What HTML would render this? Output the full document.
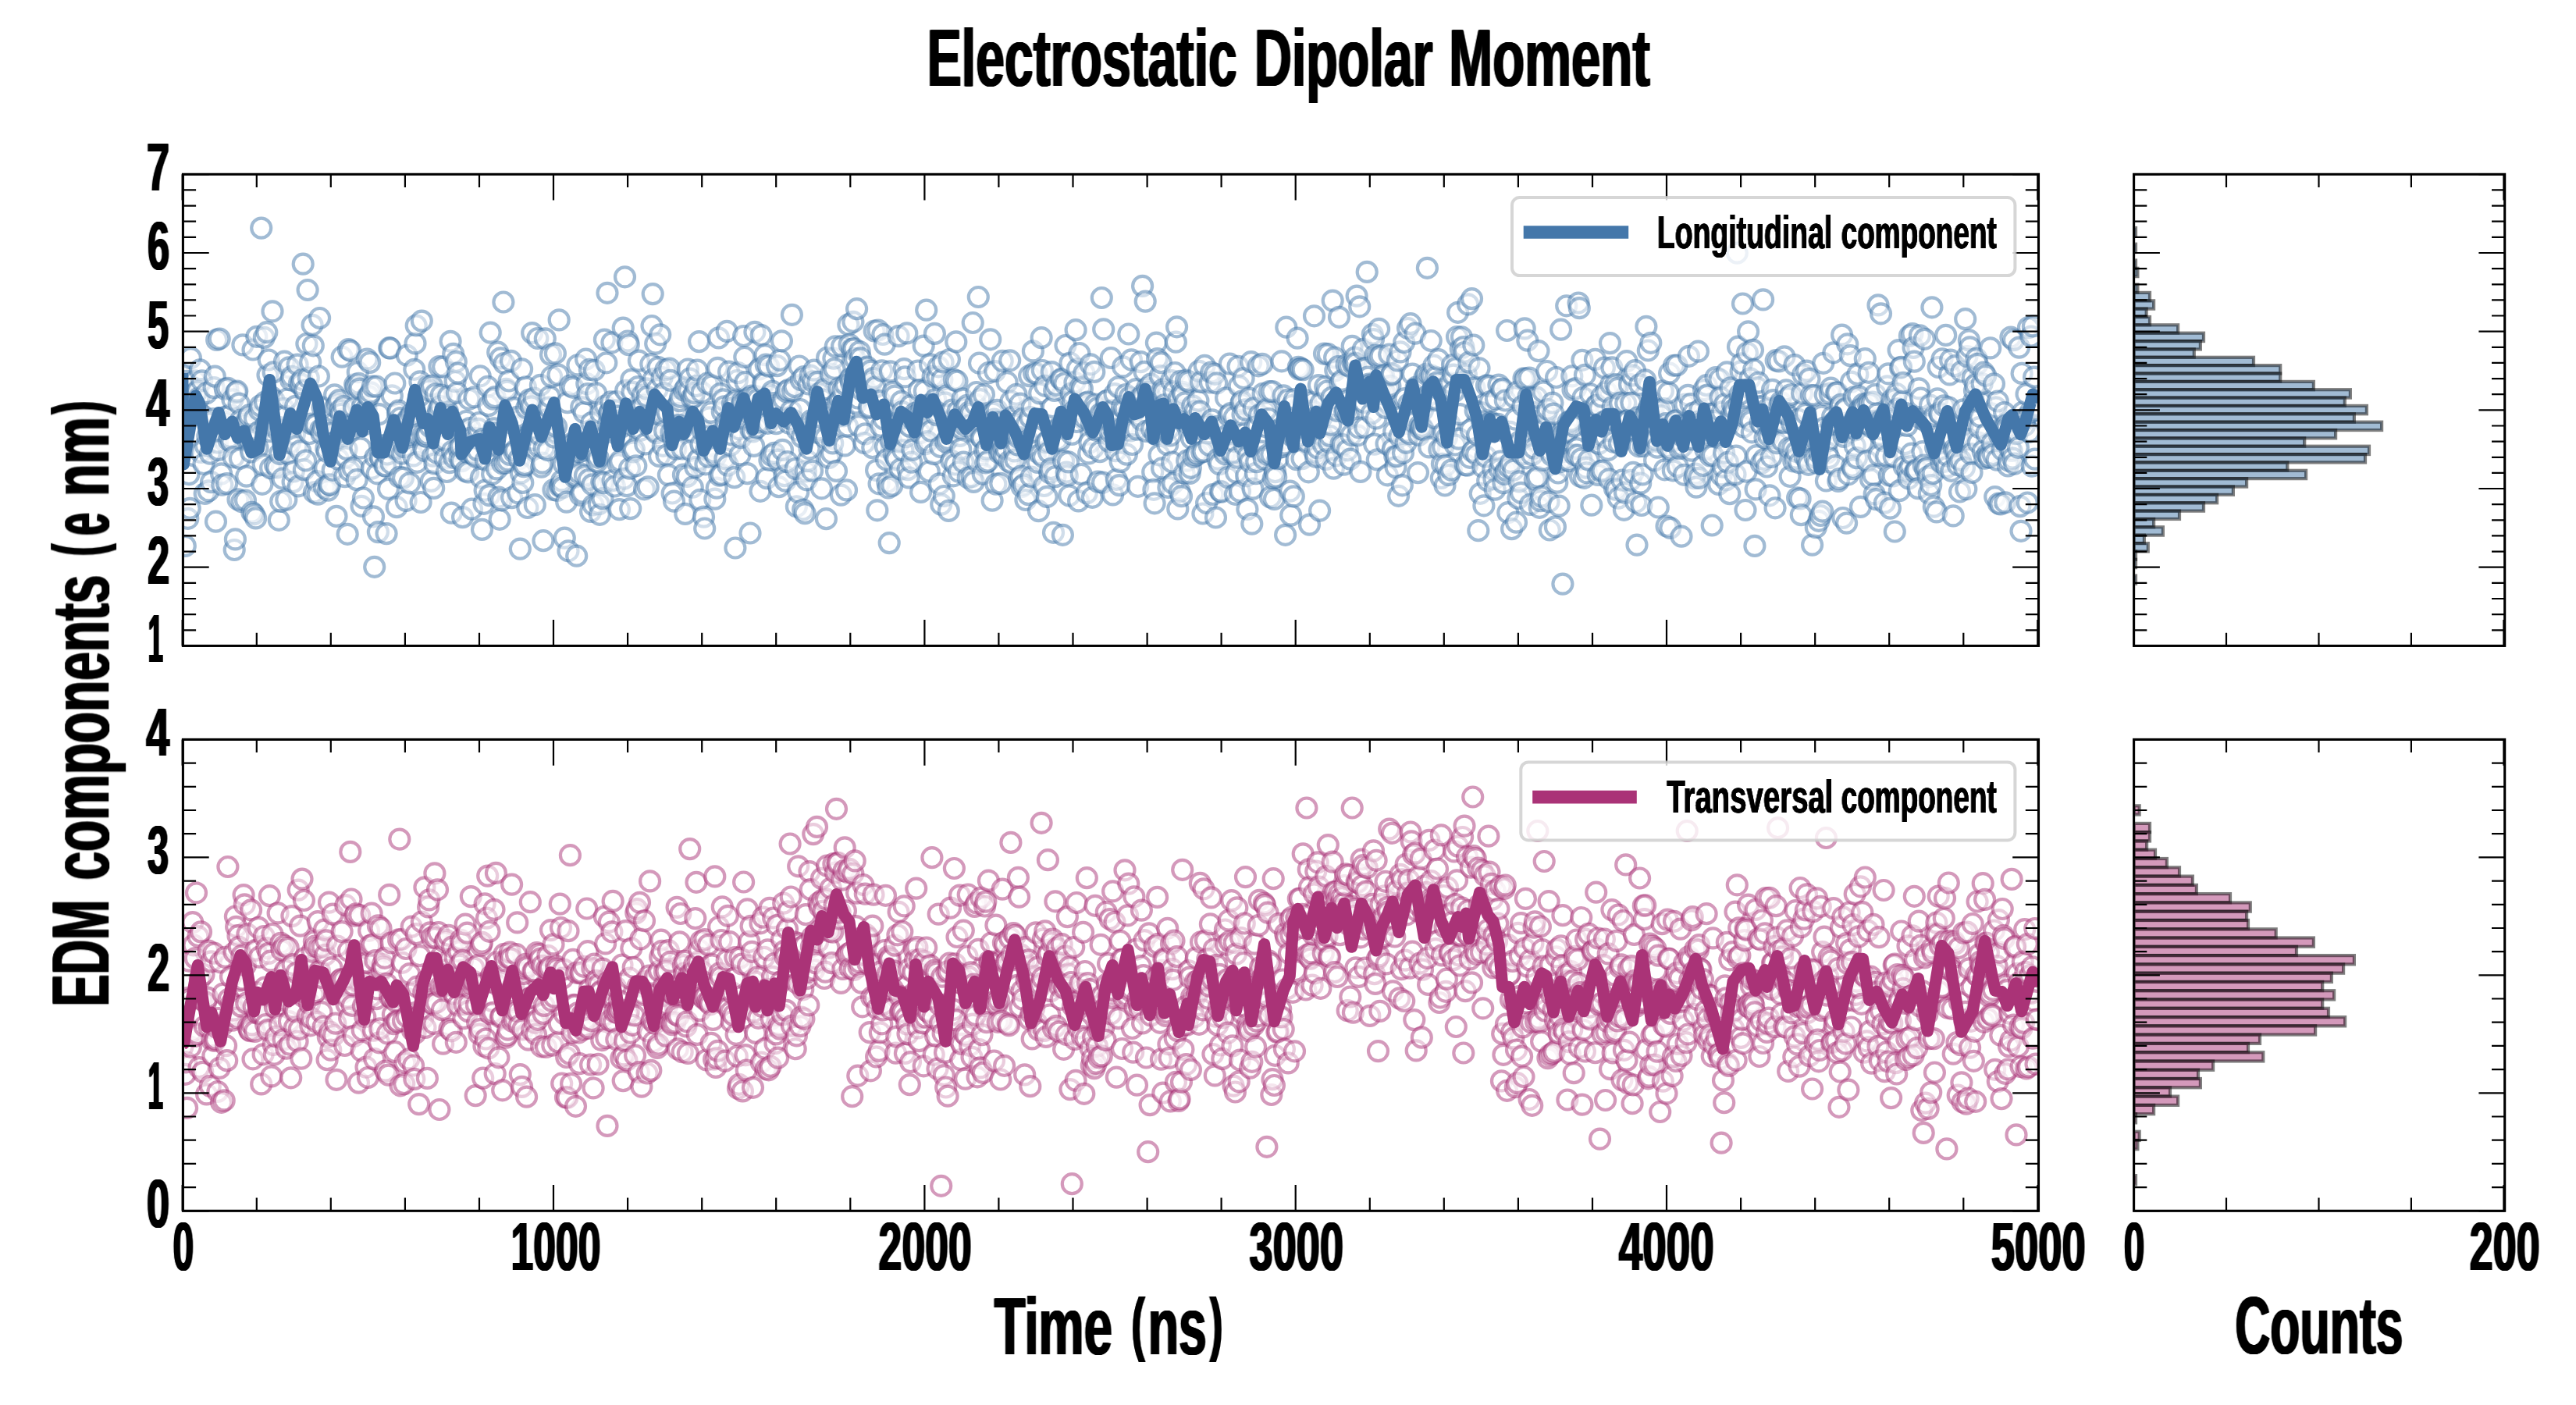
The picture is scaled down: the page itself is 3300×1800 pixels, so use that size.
<!DOCTYPE html>
<html lang="en"><head><meta charset="utf-8"><title>Electrostatic Dipolar Moment</title>
<style>html,body{margin:0;padding:0;background:#fff}body{width:3300px;height:1800px;overflow:hidden}svg{display:block}</style>
</head><body>
<svg width="3300" height="1800" viewBox="0 0 3300 1800">
<defs>
<clipPath id="ca1"><rect x="234.4" y="223.3" width="2377.1" height="604.1"/></clipPath>
<clipPath id="ca2"><rect x="2733.6" y="223.3" width="475.1" height="604.1"/></clipPath>
<clipPath id="ca3"><rect x="234.4" y="947.4" width="2377.1" height="603.9"/></clipPath>
<clipPath id="ca4"><rect x="2733.6" y="947.4" width="475.1" height="603.9"/></clipPath>
</defs>
<rect width="3300" height="1800" fill="#fff"/>
<g clip-path="url(#ca1)" fill="#fff" fill-opacity=".5" stroke="#4477AA" stroke-opacity=".5" stroke-width="4.2">
<circle cx="233.7" cy="478.5" r="12.5"/><circle cx="234.9" cy="576.0" r="12.5"/><circle cx="236.1" cy="521.3" r="12.5"/><circle cx="237.3" cy="699.4" r="12.5"/><circle cx="238.5" cy="525.9" r="12.5"/><circle cx="239.6" cy="488.3" r="12.5"/><circle cx="240.8" cy="664.3" r="12.5"/><circle cx="242.0" cy="607.6" r="12.5"/><circle cx="243.2" cy="651.4" r="12.5"/><circle cx="244.4" cy="458.6" r="12.5"/><circle cx="245.6" cy="533.0" r="12.5"/><circle cx="246.8" cy="524.0" r="12.5"/><circle cx="248.0" cy="507.1" r="12.5"/><circle cx="249.1" cy="506.1" r="12.5"/><circle cx="250.3" cy="487.9" r="12.5"/><circle cx="251.5" cy="503.0" r="12.5"/><circle cx="252.7" cy="500.8" r="12.5"/><circle cx="253.9" cy="527.0" r="12.5"/><circle cx="255.1" cy="509.5" r="12.5"/><circle cx="256.3" cy="473.9" r="12.5"/><circle cx="257.5" cy="579.4" r="12.5"/><circle cx="258.7" cy="487.8" r="12.5"/><circle cx="259.8" cy="532.7" r="12.5"/><circle cx="261.0" cy="594.5" r="12.5"/><circle cx="262.2" cy="632.5" r="12.5"/><circle cx="263.4" cy="571.2" r="12.5"/><circle cx="264.6" cy="503.7" r="12.5"/><circle cx="265.8" cy="558.9" r="12.5"/><circle cx="267.0" cy="628.9" r="12.5"/><circle cx="268.2" cy="541.9" r="12.5"/><circle cx="269.3" cy="581.1" r="12.5"/><circle cx="270.5" cy="617.7" r="12.5"/><circle cx="271.7" cy="555.1" r="12.5"/><circle cx="272.9" cy="536.6" r="12.5"/><circle cx="274.1" cy="496.6" r="12.5"/><circle cx="275.3" cy="482.2" r="12.5"/><circle cx="276.5" cy="668.2" r="12.5"/><circle cx="277.7" cy="435.4" r="12.5"/><circle cx="278.9" cy="567.0" r="12.5"/><circle cx="280.0" cy="576.5" r="12.5"/><circle cx="281.2" cy="434.0" r="12.5"/><circle cx="282.4" cy="542.2" r="12.5"/><circle cx="283.6" cy="606.9" r="12.5"/><circle cx="284.8" cy="621.1" r="12.5"/><circle cx="286.0" cy="542.9" r="12.5"/><circle cx="287.2" cy="539.9" r="12.5"/><circle cx="288.4" cy="498.4" r="12.5"/><circle cx="289.6" cy="533.9" r="12.5"/><circle cx="290.7" cy="619.6" r="12.5"/><circle cx="291.9" cy="497.4" r="12.5"/><circle cx="293.1" cy="564.0" r="12.5"/><circle cx="294.3" cy="560.3" r="12.5"/><circle cx="295.5" cy="531.4" r="12.5"/><circle cx="296.7" cy="566.3" r="12.5"/><circle cx="297.9" cy="511.8" r="12.5"/><circle cx="299.1" cy="585.7" r="12.5"/><circle cx="300.2" cy="704.5" r="12.5"/><circle cx="301.4" cy="690.9" r="12.5"/><circle cx="302.6" cy="502.7" r="12.5"/><circle cx="303.8" cy="501.2" r="12.5"/><circle cx="305.0" cy="639.9" r="12.5"/><circle cx="306.2" cy="517.1" r="12.5"/><circle cx="307.4" cy="587.5" r="12.5"/><circle cx="308.6" cy="538.1" r="12.5"/><circle cx="309.8" cy="642.6" r="12.5"/><circle cx="310.9" cy="441.9" r="12.5"/><circle cx="312.1" cy="546.3" r="12.5"/><circle cx="313.3" cy="543.3" r="12.5"/><circle cx="314.5" cy="641.0" r="12.5"/><circle cx="315.7" cy="610.2" r="12.5"/><circle cx="316.9" cy="563.1" r="12.5"/><circle cx="318.1" cy="535.0" r="12.5"/><circle cx="319.3" cy="531.8" r="12.5"/><circle cx="320.4" cy="564.1" r="12.5"/><circle cx="321.6" cy="579.0" r="12.5"/><circle cx="322.8" cy="656.3" r="12.5"/><circle cx="324.0" cy="448.0" r="12.5"/><circle cx="325.2" cy="658.8" r="12.5"/><circle cx="326.4" cy="536.2" r="12.5"/><circle cx="327.6" cy="663.9" r="12.5"/><circle cx="328.8" cy="431.3" r="12.5"/><circle cx="330.0" cy="573.7" r="12.5"/><circle cx="331.1" cy="553.7" r="12.5"/><circle cx="332.3" cy="525.2" r="12.5"/><circle cx="333.5" cy="519.9" r="12.5"/><circle cx="334.7" cy="292.1" r="12.5"/><circle cx="335.9" cy="620.3" r="12.5"/><circle cx="337.1" cy="595.1" r="12.5"/><circle cx="338.3" cy="432.4" r="12.5"/><circle cx="339.5" cy="515.0" r="12.5"/><circle cx="340.6" cy="544.7" r="12.5"/><circle cx="341.8" cy="425.7" r="12.5"/><circle cx="343.0" cy="480.6" r="12.5"/><circle cx="344.2" cy="461.0" r="12.5"/><circle cx="345.4" cy="552.6" r="12.5"/><circle cx="346.6" cy="599.6" r="12.5"/><circle cx="347.8" cy="508.5" r="12.5"/><circle cx="349.0" cy="398.8" r="12.5"/><circle cx="350.2" cy="476.9" r="12.5"/><circle cx="351.3" cy="513.0" r="12.5"/><circle cx="352.5" cy="595.8" r="12.5"/><circle cx="353.7" cy="532.0" r="12.5"/><circle cx="354.9" cy="599.0" r="12.5"/><circle cx="356.1" cy="551.4" r="12.5"/><circle cx="357.3" cy="666.3" r="12.5"/><circle cx="358.5" cy="581.4" r="12.5"/><circle cx="359.7" cy="642.4" r="12.5"/><circle cx="360.9" cy="551.2" r="12.5"/><circle cx="362.0" cy="613.0" r="12.5"/><circle cx="363.2" cy="523.4" r="12.5"/><circle cx="364.4" cy="463.1" r="12.5"/><circle cx="365.6" cy="533.2" r="12.5"/><circle cx="366.8" cy="640.1" r="12.5"/><circle cx="368.0" cy="511.0" r="12.5"/><circle cx="369.2" cy="581.3" r="12.5"/><circle cx="370.4" cy="470.8" r="12.5"/><circle cx="371.5" cy="567.6" r="12.5"/><circle cx="372.7" cy="487.0" r="12.5"/><circle cx="373.9" cy="482.3" r="12.5"/><circle cx="375.1" cy="617.6" r="12.5"/><circle cx="376.3" cy="603.9" r="12.5"/><circle cx="377.5" cy="556.3" r="12.5"/><circle cx="378.7" cy="520.4" r="12.5"/><circle cx="379.9" cy="571.7" r="12.5"/><circle cx="381.1" cy="467.1" r="12.5"/><circle cx="382.2" cy="622.8" r="12.5"/><circle cx="383.4" cy="491.3" r="12.5"/><circle cx="384.6" cy="577.6" r="12.5"/><circle cx="385.8" cy="491.9" r="12.5"/><circle cx="387.0" cy="486.5" r="12.5"/><circle cx="388.2" cy="338.2" r="12.5"/><circle cx="389.4" cy="601.7" r="12.5"/><circle cx="390.6" cy="500.1" r="12.5"/><circle cx="391.7" cy="590.0" r="12.5"/><circle cx="392.9" cy="440.5" r="12.5"/><circle cx="394.1" cy="371.5" r="12.5"/><circle cx="395.3" cy="484.1" r="12.5"/><circle cx="396.5" cy="555.5" r="12.5"/><circle cx="397.7" cy="463.9" r="12.5"/><circle cx="398.9" cy="543.0" r="12.5"/><circle cx="400.1" cy="416.3" r="12.5"/><circle cx="401.3" cy="442.8" r="12.5"/><circle cx="402.4" cy="630.8" r="12.5"/><circle cx="403.6" cy="544.4" r="12.5"/><circle cx="404.8" cy="544.2" r="12.5"/><circle cx="406.0" cy="616.7" r="12.5"/><circle cx="407.2" cy="633.1" r="12.5"/><circle cx="408.4" cy="482.0" r="12.5"/><circle cx="409.6" cy="407.5" r="12.5"/><circle cx="410.8" cy="550.4" r="12.5"/><circle cx="411.9" cy="555.4" r="12.5"/><circle cx="413.1" cy="522.2" r="12.5"/><circle cx="414.3" cy="548.0" r="12.5"/><circle cx="415.5" cy="624.8" r="12.5"/><circle cx="416.7" cy="599.7" r="12.5"/><circle cx="417.9" cy="574.4" r="12.5"/><circle cx="419.1" cy="578.8" r="12.5"/><circle cx="420.3" cy="628.1" r="12.5"/><circle cx="421.5" cy="620.6" r="12.5"/><circle cx="422.6" cy="621.3" r="12.5"/><circle cx="423.8" cy="555.0" r="12.5"/><circle cx="425.0" cy="568.0" r="12.5"/><circle cx="426.2" cy="602.3" r="12.5"/><circle cx="427.4" cy="567.3" r="12.5"/><circle cx="428.6" cy="505.8" r="12.5"/><circle cx="429.8" cy="521.3" r="12.5"/><circle cx="431.0" cy="661.4" r="12.5"/><circle cx="432.2" cy="516.8" r="12.5"/><circle cx="433.3" cy="588.1" r="12.5"/><circle cx="434.5" cy="512.5" r="12.5"/><circle cx="435.7" cy="525.7" r="12.5"/><circle cx="436.9" cy="530.5" r="12.5"/><circle cx="438.1" cy="457.2" r="12.5"/><circle cx="439.3" cy="558.6" r="12.5"/><circle cx="440.5" cy="520.6" r="12.5"/><circle cx="441.7" cy="610.7" r="12.5"/><circle cx="442.8" cy="585.9" r="12.5"/><circle cx="444.0" cy="575.5" r="12.5"/><circle cx="445.2" cy="684.3" r="12.5"/><circle cx="446.4" cy="447.7" r="12.5"/><circle cx="447.6" cy="603.0" r="12.5"/><circle cx="448.8" cy="449.3" r="12.5"/><circle cx="450.0" cy="551.5" r="12.5"/><circle cx="451.2" cy="545.9" r="12.5"/><circle cx="452.4" cy="599.8" r="12.5"/><circle cx="453.5" cy="522.5" r="12.5"/><circle cx="454.7" cy="492.5" r="12.5"/><circle cx="455.9" cy="494.8" r="12.5"/><circle cx="457.1" cy="614.7" r="12.5"/><circle cx="458.3" cy="476.7" r="12.5"/><circle cx="459.5" cy="491.4" r="12.5"/><circle cx="460.7" cy="498.1" r="12.5"/><circle cx="461.9" cy="573.9" r="12.5"/><circle cx="463.0" cy="648.3" r="12.5"/><circle cx="464.2" cy="521.4" r="12.5"/><circle cx="465.4" cy="638.0" r="12.5"/><circle cx="466.6" cy="543.8" r="12.5"/><circle cx="467.8" cy="532.1" r="12.5"/><circle cx="469.0" cy="524.4" r="12.5"/><circle cx="470.2" cy="460.1" r="12.5"/><circle cx="471.4" cy="507.8" r="12.5"/><circle cx="472.6" cy="507.7" r="12.5"/><circle cx="473.7" cy="464.4" r="12.5"/><circle cx="474.9" cy="502.8" r="12.5"/><circle cx="476.1" cy="600.3" r="12.5"/><circle cx="477.3" cy="495.1" r="12.5"/><circle cx="478.5" cy="661.8" r="12.5"/><circle cx="479.7" cy="726.3" r="12.5"/><circle cx="480.9" cy="585.8" r="12.5"/><circle cx="482.1" cy="495.2" r="12.5"/><circle cx="483.2" cy="606.8" r="12.5"/><circle cx="484.4" cy="681.6" r="12.5"/><circle cx="485.6" cy="530.6" r="12.5"/><circle cx="486.8" cy="585.3" r="12.5"/><circle cx="488.0" cy="586.9" r="12.5"/><circle cx="489.2" cy="571.5" r="12.5"/><circle cx="490.4" cy="570.6" r="12.5"/><circle cx="491.6" cy="574.3" r="12.5"/><circle cx="492.8" cy="596.7" r="12.5"/><circle cx="493.9" cy="597.2" r="12.5"/><circle cx="495.1" cy="683.6" r="12.5"/><circle cx="496.3" cy="582.0" r="12.5"/><circle cx="497.5" cy="626.4" r="12.5"/><circle cx="498.7" cy="445.7" r="12.5"/><circle cx="499.9" cy="446.2" r="12.5"/><circle cx="501.1" cy="593.8" r="12.5"/><circle cx="502.3" cy="506.9" r="12.5"/><circle cx="503.4" cy="564.2" r="12.5"/><circle cx="504.6" cy="572.1" r="12.5"/><circle cx="505.8" cy="491.0" r="12.5"/><circle cx="507.0" cy="574.9" r="12.5"/><circle cx="508.2" cy="649.7" r="12.5"/><circle cx="509.4" cy="528.8" r="12.5"/><circle cx="510.6" cy="526.2" r="12.5"/><circle cx="511.8" cy="611.3" r="12.5"/><circle cx="513.0" cy="535.5" r="12.5"/><circle cx="514.1" cy="544.6" r="12.5"/><circle cx="515.3" cy="581.0" r="12.5"/><circle cx="516.5" cy="612.2" r="12.5"/><circle cx="517.7" cy="572.5" r="12.5"/><circle cx="518.9" cy="556.0" r="12.5"/><circle cx="520.1" cy="641.5" r="12.5"/><circle cx="521.3" cy="455.3" r="12.5"/><circle cx="522.5" cy="536.5" r="12.5"/><circle cx="523.7" cy="536.9" r="12.5"/><circle cx="524.8" cy="618.9" r="12.5"/><circle cx="526.0" cy="556.7" r="12.5"/><circle cx="527.2" cy="530.4" r="12.5"/><circle cx="528.4" cy="543.5" r="12.5"/><circle cx="529.6" cy="583.9" r="12.5"/><circle cx="530.8" cy="473.3" r="12.5"/><circle cx="532.0" cy="439.9" r="12.5"/><circle cx="533.2" cy="417.0" r="12.5"/><circle cx="534.3" cy="592.3" r="12.5"/><circle cx="535.5" cy="556.6" r="12.5"/><circle cx="536.7" cy="507.9" r="12.5"/><circle cx="537.9" cy="488.8" r="12.5"/><circle cx="539.1" cy="643.5" r="12.5"/><circle cx="540.3" cy="411.1" r="12.5"/><circle cx="541.5" cy="557.7" r="12.5"/><circle cx="542.7" cy="573.4" r="12.5"/><circle cx="543.9" cy="577.4" r="12.5"/><circle cx="545.0" cy="559.0" r="12.5"/><circle cx="546.2" cy="559.2" r="12.5"/><circle cx="547.4" cy="556.1" r="12.5"/><circle cx="548.6" cy="495.0" r="12.5"/><circle cx="549.8" cy="500.1" r="12.5"/><circle cx="551.0" cy="546.7" r="12.5"/><circle cx="552.2" cy="616.4" r="12.5"/><circle cx="553.4" cy="494.1" r="12.5"/><circle cx="554.5" cy="584.2" r="12.5"/><circle cx="555.7" cy="625.4" r="12.5"/><circle cx="556.9" cy="594.0" r="12.5"/><circle cx="558.1" cy="504.8" r="12.5"/><circle cx="559.3" cy="580.0" r="12.5"/><circle cx="560.5" cy="531.3" r="12.5"/><circle cx="561.7" cy="525.4" r="12.5"/><circle cx="562.9" cy="469.6" r="12.5"/><circle cx="564.1" cy="520.7" r="12.5"/><circle cx="565.2" cy="506.0" r="12.5"/><circle cx="566.4" cy="570.1" r="12.5"/><circle cx="567.6" cy="470.1" r="12.5"/><circle cx="568.8" cy="565.8" r="12.5"/><circle cx="570.0" cy="587.4" r="12.5"/><circle cx="571.2" cy="563.9" r="12.5"/><circle cx="572.4" cy="604.5" r="12.5"/><circle cx="573.6" cy="527.8" r="12.5"/><circle cx="574.7" cy="507.5" r="12.5"/><circle cx="575.9" cy="592.6" r="12.5"/><circle cx="577.1" cy="437.3" r="12.5"/><circle cx="578.3" cy="657.2" r="12.5"/><circle cx="579.5" cy="578.0" r="12.5"/><circle cx="580.7" cy="453.4" r="12.5"/><circle cx="581.9" cy="586.5" r="12.5"/><circle cx="583.1" cy="488.6" r="12.5"/><circle cx="584.3" cy="463.4" r="12.5"/><circle cx="585.4" cy="503.3" r="12.5"/><circle cx="586.6" cy="478.2" r="12.5"/><circle cx="587.8" cy="574.6" r="12.5"/><circle cx="589.0" cy="587.3" r="12.5"/><circle cx="590.2" cy="571.9" r="12.5"/><circle cx="591.4" cy="590.7" r="12.5"/><circle cx="592.6" cy="662.6" r="12.5"/><circle cx="593.8" cy="551.1" r="12.5"/><circle cx="595.0" cy="553.5" r="12.5"/><circle cx="596.1" cy="603.5" r="12.5"/><circle cx="597.3" cy="539.5" r="12.5"/><circle cx="598.5" cy="579.4" r="12.5"/><circle cx="599.7" cy="605.0" r="12.5"/><circle cx="600.9" cy="511.3" r="12.5"/><circle cx="602.1" cy="548.5" r="12.5"/><circle cx="603.3" cy="561.1" r="12.5"/><circle cx="604.5" cy="652.2" r="12.5"/><circle cx="605.6" cy="580.7" r="12.5"/><circle cx="606.8" cy="582.2" r="12.5"/><circle cx="608.0" cy="508.8" r="12.5"/><circle cx="609.2" cy="584.9" r="12.5"/><circle cx="610.4" cy="561.4" r="12.5"/><circle cx="611.6" cy="576.6" r="12.5"/><circle cx="612.8" cy="549.3" r="12.5"/><circle cx="614.0" cy="541.5" r="12.5"/><circle cx="615.2" cy="481.8" r="12.5"/><circle cx="616.3" cy="611.8" r="12.5"/><circle cx="617.5" cy="678.4" r="12.5"/><circle cx="618.7" cy="562.3" r="12.5"/><circle cx="619.9" cy="645.3" r="12.5"/><circle cx="621.1" cy="628.3" r="12.5"/><circle cx="622.3" cy="589.5" r="12.5"/><circle cx="623.5" cy="572.8" r="12.5"/><circle cx="624.7" cy="495.3" r="12.5"/><circle cx="625.8" cy="519.6" r="12.5"/><circle cx="627.0" cy="634.6" r="12.5"/><circle cx="628.2" cy="426.1" r="12.5"/><circle cx="629.4" cy="558.5" r="12.5"/><circle cx="630.6" cy="607.3" r="12.5"/><circle cx="631.8" cy="511.1" r="12.5"/><circle cx="633.0" cy="548.8" r="12.5"/><circle cx="634.2" cy="508.7" r="12.5"/><circle cx="635.4" cy="554.5" r="12.5"/><circle cx="636.5" cy="600.9" r="12.5"/><circle cx="637.7" cy="451.2" r="12.5"/><circle cx="638.9" cy="637.1" r="12.5"/><circle cx="640.1" cy="665.3" r="12.5"/><circle cx="641.3" cy="458.9" r="12.5"/><circle cx="642.5" cy="640.8" r="12.5"/><circle cx="643.7" cy="593.7" r="12.5"/><circle cx="644.9" cy="387.0" r="12.5"/><circle cx="646.0" cy="465.5" r="12.5"/><circle cx="647.2" cy="593.3" r="12.5"/><circle cx="648.4" cy="498.3" r="12.5"/><circle cx="649.6" cy="501.1" r="12.5"/><circle cx="650.8" cy="589.9" r="12.5"/><circle cx="652.0" cy="488.0" r="12.5"/><circle cx="653.2" cy="582.4" r="12.5"/><circle cx="654.4" cy="462.3" r="12.5"/><circle cx="655.6" cy="637.6" r="12.5"/><circle cx="656.7" cy="542.6" r="12.5"/><circle cx="657.9" cy="522.7" r="12.5"/><circle cx="659.1" cy="579.7" r="12.5"/><circle cx="660.3" cy="576.9" r="12.5"/><circle cx="661.5" cy="538.8" r="12.5"/><circle cx="662.7" cy="534.3" r="12.5"/><circle cx="663.9" cy="631.8" r="12.5"/><circle cx="665.1" cy="587.9" r="12.5"/><circle cx="666.3" cy="703.1" r="12.5"/><circle cx="667.4" cy="605.9" r="12.5"/><circle cx="668.6" cy="472.8" r="12.5"/><circle cx="669.8" cy="618.4" r="12.5"/><circle cx="671.0" cy="597.6" r="12.5"/><circle cx="672.2" cy="595.5" r="12.5"/><circle cx="673.4" cy="495.8" r="12.5"/><circle cx="674.6" cy="522.8" r="12.5"/><circle cx="675.8" cy="650.5" r="12.5"/><circle cx="676.9" cy="515.6" r="12.5"/><circle cx="678.1" cy="512.0" r="12.5"/><circle cx="679.3" cy="556.2" r="12.5"/><circle cx="680.5" cy="520.9" r="12.5"/><circle cx="681.7" cy="426.6" r="12.5"/><circle cx="682.9" cy="563.4" r="12.5"/><circle cx="684.1" cy="510.1" r="12.5"/><circle cx="685.3" cy="646.7" r="12.5"/><circle cx="686.5" cy="541.4" r="12.5"/><circle cx="687.6" cy="550.1" r="12.5"/><circle cx="688.8" cy="433.5" r="12.5"/><circle cx="690.0" cy="572.0" r="12.5"/><circle cx="691.2" cy="557.0" r="12.5"/><circle cx="692.4" cy="493.3" r="12.5"/><circle cx="693.6" cy="598.1" r="12.5"/><circle cx="694.8" cy="593.1" r="12.5"/><circle cx="696.0" cy="692.7" r="12.5"/><circle cx="697.1" cy="574.2" r="12.5"/><circle cx="698.3" cy="433.8" r="12.5"/><circle cx="699.5" cy="548.1" r="12.5"/><circle cx="700.7" cy="537.7" r="12.5"/><circle cx="701.9" cy="576.7" r="12.5"/><circle cx="703.1" cy="522.0" r="12.5"/><circle cx="704.3" cy="508.1" r="12.5"/><circle cx="705.5" cy="454.4" r="12.5"/><circle cx="706.7" cy="482.7" r="12.5"/><circle cx="707.8" cy="547.6" r="12.5"/><circle cx="709.0" cy="627.5" r="12.5"/><circle cx="710.2" cy="560.1" r="12.5"/><circle cx="711.4" cy="452.8" r="12.5"/><circle cx="712.6" cy="546.5" r="12.5"/><circle cx="713.8" cy="628.5" r="12.5"/><circle cx="715.0" cy="480.1" r="12.5"/><circle cx="716.2" cy="409.9" r="12.5"/><circle cx="717.3" cy="623.1" r="12.5"/><circle cx="718.5" cy="622.3" r="12.5"/><circle cx="719.7" cy="615.9" r="12.5"/><circle cx="720.9" cy="624.6" r="12.5"/><circle cx="722.1" cy="594.2" r="12.5"/><circle cx="723.3" cy="689.1" r="12.5"/><circle cx="724.5" cy="580.1" r="12.5"/><circle cx="725.7" cy="643.1" r="12.5"/><circle cx="726.9" cy="515.7" r="12.5"/><circle cx="728.0" cy="705.8" r="12.5"/><circle cx="729.2" cy="589.6" r="12.5"/><circle cx="730.4" cy="494.2" r="12.5"/><circle cx="731.6" cy="600.8" r="12.5"/><circle cx="732.8" cy="568.2" r="12.5"/><circle cx="734.0" cy="496.3" r="12.5"/><circle cx="735.2" cy="568.5" r="12.5"/><circle cx="736.4" cy="611.4" r="12.5"/><circle cx="737.5" cy="609.4" r="12.5"/><circle cx="738.7" cy="712.2" r="12.5"/><circle cx="739.9" cy="467.9" r="12.5"/><circle cx="741.1" cy="579.1" r="12.5"/><circle cx="742.3" cy="606.3" r="12.5"/><circle cx="743.5" cy="634.3" r="12.5"/><circle cx="744.7" cy="521.7" r="12.5"/><circle cx="745.9" cy="631.0" r="12.5"/><circle cx="747.1" cy="577.2" r="12.5"/><circle cx="748.2" cy="528.5" r="12.5"/><circle cx="749.4" cy="609.3" r="12.5"/><circle cx="750.6" cy="460.2" r="12.5"/><circle cx="751.8" cy="491.6" r="12.5"/><circle cx="753.0" cy="504.6" r="12.5"/><circle cx="754.2" cy="614.5" r="12.5"/><circle cx="755.4" cy="473.4" r="12.5"/><circle cx="756.6" cy="655.5" r="12.5"/><circle cx="757.8" cy="541.7" r="12.5"/><circle cx="758.9" cy="620.9" r="12.5"/><circle cx="760.1" cy="647.0" r="12.5"/><circle cx="761.3" cy="474.3" r="12.5"/><circle cx="762.5" cy="581.2" r="12.5"/><circle cx="763.7" cy="503.8" r="12.5"/><circle cx="764.9" cy="591.4" r="12.5"/><circle cx="766.1" cy="586.3" r="12.5"/><circle cx="767.3" cy="645.6" r="12.5"/><circle cx="768.4" cy="659.3" r="12.5"/><circle cx="769.6" cy="529.1" r="12.5"/><circle cx="770.8" cy="617.0" r="12.5"/><circle cx="772.0" cy="638.7" r="12.5"/><circle cx="773.2" cy="618.6" r="12.5"/><circle cx="774.4" cy="435.1" r="12.5"/><circle cx="775.6" cy="520.2" r="12.5"/><circle cx="776.8" cy="464.8" r="12.5"/><circle cx="778.0" cy="375.3" r="12.5"/><circle cx="779.1" cy="543.7" r="12.5"/><circle cx="780.3" cy="529.6" r="12.5"/><circle cx="781.5" cy="527.9" r="12.5"/><circle cx="782.7" cy="514.8" r="12.5"/><circle cx="783.9" cy="438.8" r="12.5"/><circle cx="785.1" cy="615.5" r="12.5"/><circle cx="786.3" cy="554.2" r="12.5"/><circle cx="787.5" cy="623.0" r="12.5"/><circle cx="788.6" cy="525.9" r="12.5"/><circle cx="789.8" cy="514.7" r="12.5"/><circle cx="791.0" cy="533.2" r="12.5"/><circle cx="792.2" cy="594.6" r="12.5"/><circle cx="793.4" cy="652.7" r="12.5"/><circle cx="794.6" cy="590.4" r="12.5"/><circle cx="795.8" cy="558.7" r="12.5"/><circle cx="797.0" cy="546.6" r="12.5"/><circle cx="798.2" cy="420.1" r="12.5"/><circle cx="799.3" cy="613.2" r="12.5"/><circle cx="800.5" cy="354.8" r="12.5"/><circle cx="801.7" cy="500.4" r="12.5"/><circle cx="802.9" cy="622.6" r="12.5"/><circle cx="804.1" cy="437.0" r="12.5"/><circle cx="805.3" cy="441.6" r="12.5"/><circle cx="806.5" cy="600.2" r="12.5"/><circle cx="807.7" cy="651.6" r="12.5"/><circle cx="808.8" cy="486.4" r="12.5"/><circle cx="810.0" cy="502.2" r="12.5"/><circle cx="811.2" cy="578.9" r="12.5"/><circle cx="812.4" cy="575.6" r="12.5"/><circle cx="813.6" cy="547.0" r="12.5"/><circle cx="814.8" cy="596.8" r="12.5"/><circle cx="816.0" cy="535.3" r="12.5"/><circle cx="817.2" cy="495.6" r="12.5"/><circle cx="818.4" cy="462.1" r="12.5"/><circle cx="819.5" cy="524.1" r="12.5"/><circle cx="820.7" cy="551.2" r="12.5"/><circle cx="821.9" cy="535.8" r="12.5"/><circle cx="823.1" cy="506.2" r="12.5"/><circle cx="824.3" cy="519.0" r="12.5"/><circle cx="825.5" cy="626.8" r="12.5"/><circle cx="826.7" cy="568.9" r="12.5"/><circle cx="827.9" cy="497.9" r="12.5"/><circle cx="829.1" cy="508.4" r="12.5"/><circle cx="830.2" cy="623.9" r="12.5"/><circle cx="831.4" cy="537.3" r="12.5"/><circle cx="832.6" cy="547.1" r="12.5"/><circle cx="833.8" cy="466.6" r="12.5"/><circle cx="835.0" cy="417.5" r="12.5"/><circle cx="836.2" cy="376.6" r="12.5"/><circle cx="837.4" cy="485.6" r="12.5"/><circle cx="838.6" cy="551.6" r="12.5"/><circle cx="839.7" cy="440.2" r="12.5"/><circle cx="840.9" cy="554.7" r="12.5"/><circle cx="842.1" cy="498.7" r="12.5"/><circle cx="843.3" cy="470.7" r="12.5"/><circle cx="844.5" cy="584.4" r="12.5"/><circle cx="845.7" cy="428.8" r="12.5"/><circle cx="846.9" cy="531.9" r="12.5"/><circle cx="848.1" cy="483.7" r="12.5"/><circle cx="849.3" cy="571.3" r="12.5"/><circle cx="850.4" cy="503.5" r="12.5"/><circle cx="851.6" cy="552.0" r="12.5"/><circle cx="852.8" cy="473.8" r="12.5"/><circle cx="854.0" cy="583.0" r="12.5"/><circle cx="855.2" cy="528.7" r="12.5"/><circle cx="856.4" cy="608.6" r="12.5"/><circle cx="857.6" cy="472.0" r="12.5"/><circle cx="858.8" cy="487.3" r="12.5"/><circle cx="859.9" cy="554.4" r="12.5"/><circle cx="861.1" cy="632.0" r="12.5"/><circle cx="862.3" cy="560.9" r="12.5"/><circle cx="863.5" cy="642.2" r="12.5"/><circle cx="864.7" cy="572.7" r="12.5"/><circle cx="865.9" cy="575.1" r="12.5"/><circle cx="867.1" cy="521.1" r="12.5"/><circle cx="868.3" cy="529.3" r="12.5"/><circle cx="869.5" cy="544.6" r="12.5"/><circle cx="870.6" cy="513.7" r="12.5"/><circle cx="871.8" cy="508.5" r="12.5"/><circle cx="873.0" cy="549.7" r="12.5"/><circle cx="874.2" cy="575.0" r="12.5"/><circle cx="875.4" cy="608.2" r="12.5"/><circle cx="876.6" cy="500.2" r="12.5"/><circle cx="877.8" cy="658.4" r="12.5"/><circle cx="879.0" cy="496.4" r="12.5"/><circle cx="880.1" cy="610.4" r="12.5"/><circle cx="881.3" cy="473.0" r="12.5"/><circle cx="882.5" cy="500.3" r="12.5"/><circle cx="883.7" cy="485.2" r="12.5"/><circle cx="884.9" cy="577.3" r="12.5"/><circle cx="886.1" cy="509.7" r="12.5"/><circle cx="887.3" cy="624.2" r="12.5"/><circle cx="888.5" cy="509.0" r="12.5"/><circle cx="889.7" cy="503.6" r="12.5"/><circle cx="890.8" cy="598.5" r="12.5"/><circle cx="892.0" cy="494.5" r="12.5"/><circle cx="893.2" cy="474.2" r="12.5"/><circle cx="894.4" cy="589.1" r="12.5"/><circle cx="895.6" cy="437.6" r="12.5"/><circle cx="896.8" cy="640.3" r="12.5"/><circle cx="898.0" cy="569.4" r="12.5"/><circle cx="899.2" cy="502.9" r="12.5"/><circle cx="900.4" cy="552.3" r="12.5"/><circle cx="901.5" cy="662.2" r="12.5"/><circle cx="902.7" cy="677.0" r="12.5"/><circle cx="903.9" cy="594.8" r="12.5"/><circle cx="905.1" cy="575.9" r="12.5"/><circle cx="906.3" cy="491.2" r="12.5"/><circle cx="907.5" cy="585.2" r="12.5"/><circle cx="908.7" cy="534.8" r="12.5"/><circle cx="909.9" cy="570.7" r="12.5"/><circle cx="911.0" cy="528.4" r="12.5"/><circle cx="912.2" cy="493.8" r="12.5"/><circle cx="913.4" cy="579.0" r="12.5"/><circle cx="914.6" cy="579.3" r="12.5"/><circle cx="915.8" cy="639.2" r="12.5"/><circle cx="917.0" cy="584.6" r="12.5"/><circle cx="918.2" cy="625.2" r="12.5"/><circle cx="919.4" cy="471.3" r="12.5"/><circle cx="920.6" cy="432.9" r="12.5"/><circle cx="921.7" cy="609.2" r="12.5"/><circle cx="922.9" cy="504.4" r="12.5"/><circle cx="924.1" cy="608.0" r="12.5"/><circle cx="925.3" cy="527.5" r="12.5"/><circle cx="926.5" cy="511.9" r="12.5"/><circle cx="927.7" cy="520.8" r="12.5"/><circle cx="928.9" cy="587.8" r="12.5"/><circle cx="930.1" cy="540.6" r="12.5"/><circle cx="931.2" cy="424.4" r="12.5"/><circle cx="932.4" cy="596.1" r="12.5"/><circle cx="933.6" cy="476.2" r="12.5"/><circle cx="934.8" cy="539.2" r="12.5"/><circle cx="936.0" cy="570.3" r="12.5"/><circle cx="937.2" cy="556.8" r="12.5"/><circle cx="938.4" cy="516.7" r="12.5"/><circle cx="939.6" cy="522.6" r="12.5"/><circle cx="940.8" cy="611.6" r="12.5"/><circle cx="941.9" cy="702.0" r="12.5"/><circle cx="943.1" cy="513.1" r="12.5"/><circle cx="944.3" cy="487.5" r="12.5"/><circle cx="945.5" cy="477.6" r="12.5"/><circle cx="946.7" cy="549.8" r="12.5"/><circle cx="947.9" cy="582.9" r="12.5"/><circle cx="949.1" cy="560.6" r="12.5"/><circle cx="950.3" cy="518.6" r="12.5"/><circle cx="951.4" cy="513.9" r="12.5"/><circle cx="952.6" cy="430.5" r="12.5"/><circle cx="953.8" cy="457.5" r="12.5"/><circle cx="955.0" cy="489.5" r="12.5"/><circle cx="956.2" cy="512.9" r="12.5"/><circle cx="957.4" cy="606.6" r="12.5"/><circle cx="958.6" cy="510.4" r="12.5"/><circle cx="959.8" cy="524.2" r="12.5"/><circle cx="961.0" cy="683.0" r="12.5"/><circle cx="962.1" cy="550.8" r="12.5"/><circle cx="963.3" cy="507.0" r="12.5"/><circle cx="964.5" cy="552.9" r="12.5"/><circle cx="965.7" cy="571.4" r="12.5"/><circle cx="966.9" cy="425.3" r="12.5"/><circle cx="968.1" cy="507.7" r="12.5"/><circle cx="969.3" cy="547.9" r="12.5"/><circle cx="970.5" cy="512.1" r="12.5"/><circle cx="971.6" cy="540.9" r="12.5"/><circle cx="972.8" cy="472.9" r="12.5"/><circle cx="974.0" cy="629.3" r="12.5"/><circle cx="975.2" cy="429.6" r="12.5"/><circle cx="976.4" cy="517.9" r="12.5"/><circle cx="977.6" cy="490.3" r="12.5"/><circle cx="978.8" cy="491.5" r="12.5"/><circle cx="980.0" cy="454.7" r="12.5"/><circle cx="981.2" cy="467.2" r="12.5"/><circle cx="982.3" cy="612.6" r="12.5"/><circle cx="983.5" cy="542.3" r="12.5"/><circle cx="984.7" cy="469.2" r="12.5"/><circle cx="985.9" cy="589.4" r="12.5"/><circle cx="987.1" cy="506.4" r="12.5"/><circle cx="988.3" cy="583.5" r="12.5"/><circle cx="989.5" cy="501.3" r="12.5"/><circle cx="990.7" cy="516.6" r="12.5"/><circle cx="991.9" cy="580.3" r="12.5"/><circle cx="993.0" cy="520.1" r="12.5"/><circle cx="994.2" cy="542.6" r="12.5"/><circle cx="995.4" cy="468.6" r="12.5"/><circle cx="996.6" cy="589.2" r="12.5"/><circle cx="997.8" cy="623.7" r="12.5"/><circle cx="999.0" cy="461.5" r="12.5"/><circle cx="1000.2" cy="520.3" r="12.5"/><circle cx="1001.4" cy="436.8" r="12.5"/><circle cx="1002.5" cy="576.4" r="12.5"/><circle cx="1003.7" cy="511.5" r="12.5"/><circle cx="1004.9" cy="609.6" r="12.5"/><circle cx="1006.1" cy="616.2" r="12.5"/><circle cx="1007.3" cy="501.7" r="12.5"/><circle cx="1008.5" cy="591.5" r="12.5"/><circle cx="1009.7" cy="499.7" r="12.5"/><circle cx="1010.9" cy="542.3" r="12.5"/><circle cx="1012.1" cy="536.1" r="12.5"/><circle cx="1013.2" cy="526.7" r="12.5"/><circle cx="1014.4" cy="403.3" r="12.5"/><circle cx="1015.6" cy="500.7" r="12.5"/><circle cx="1016.8" cy="538.7" r="12.5"/><circle cx="1018.0" cy="495.5" r="12.5"/><circle cx="1019.2" cy="600.4" r="12.5"/><circle cx="1020.4" cy="648.9" r="12.5"/><circle cx="1021.6" cy="551.0" r="12.5"/><circle cx="1022.7" cy="630.6" r="12.5"/><circle cx="1023.9" cy="469.0" r="12.5"/><circle cx="1025.1" cy="524.5" r="12.5"/><circle cx="1026.3" cy="486.7" r="12.5"/><circle cx="1027.5" cy="560.0" r="12.5"/><circle cx="1028.7" cy="653.0" r="12.5"/><circle cx="1029.9" cy="482.6" r="12.5"/><circle cx="1031.1" cy="657.6" r="12.5"/><circle cx="1032.3" cy="603.8" r="12.5"/><circle cx="1033.4" cy="614.8" r="12.5"/><circle cx="1034.6" cy="590.6" r="12.5"/><circle cx="1035.8" cy="492.0" r="12.5"/><circle cx="1037.0" cy="574.8" r="12.5"/><circle cx="1038.2" cy="481.1" r="12.5"/><circle cx="1039.4" cy="538.5" r="12.5"/><circle cx="1040.6" cy="603.1" r="12.5"/><circle cx="1041.8" cy="488.9" r="12.5"/><circle cx="1042.9" cy="474.1" r="12.5"/><circle cx="1044.1" cy="552.5" r="12.5"/><circle cx="1045.3" cy="537.1" r="12.5"/><circle cx="1046.5" cy="554.3" r="12.5"/><circle cx="1047.7" cy="489.4" r="12.5"/><circle cx="1048.9" cy="549.9" r="12.5"/><circle cx="1050.1" cy="503.9" r="12.5"/><circle cx="1051.3" cy="534.5" r="12.5"/><circle cx="1052.5" cy="625.8" r="12.5"/><circle cx="1053.6" cy="512.2" r="12.5"/><circle cx="1054.8" cy="523.2" r="12.5"/><circle cx="1056.0" cy="498.8" r="12.5"/><circle cx="1057.2" cy="560.8" r="12.5"/><circle cx="1058.4" cy="664.7" r="12.5"/><circle cx="1059.6" cy="458.3" r="12.5"/><circle cx="1060.8" cy="533.3" r="12.5"/><circle cx="1062.0" cy="586.4" r="12.5"/><circle cx="1063.2" cy="529.0" r="12.5"/><circle cx="1064.3" cy="479.0" r="12.5"/><circle cx="1065.5" cy="580.5" r="12.5"/><circle cx="1066.7" cy="567.9" r="12.5"/><circle cx="1067.9" cy="459.1" r="12.5"/><circle cx="1069.1" cy="472.4" r="12.5"/><circle cx="1070.3" cy="443.9" r="12.5"/><circle cx="1071.5" cy="603.4" r="12.5"/><circle cx="1072.7" cy="516.0" r="12.5"/><circle cx="1073.8" cy="533.4" r="12.5"/><circle cx="1075.0" cy="497.6" r="12.5"/><circle cx="1076.2" cy="512.6" r="12.5"/><circle cx="1077.4" cy="634.1" r="12.5"/><circle cx="1078.6" cy="443.6" r="12.5"/><circle cx="1079.8" cy="499.9" r="12.5"/><circle cx="1081.0" cy="532.8" r="12.5"/><circle cx="1082.2" cy="570.9" r="12.5"/><circle cx="1083.4" cy="493.2" r="12.5"/><circle cx="1084.5" cy="627.9" r="12.5"/><circle cx="1085.7" cy="546.0" r="12.5"/><circle cx="1086.9" cy="415.9" r="12.5"/><circle cx="1088.1" cy="441.3" r="12.5"/><circle cx="1089.3" cy="485.0" r="12.5"/><circle cx="1090.5" cy="490.6" r="12.5"/><circle cx="1091.7" cy="447.1" r="12.5"/><circle cx="1092.9" cy="412.3" r="12.5"/><circle cx="1094.0" cy="446.5" r="12.5"/><circle cx="1095.2" cy="459.3" r="12.5"/><circle cx="1096.4" cy="516.9" r="12.5"/><circle cx="1097.6" cy="395.7" r="12.5"/><circle cx="1098.8" cy="510.0" r="12.5"/><circle cx="1100.0" cy="545.6" r="12.5"/><circle cx="1101.2" cy="450.6" r="12.5"/><circle cx="1102.4" cy="458.8" r="12.5"/><circle cx="1103.6" cy="499.1" r="12.5"/><circle cx="1104.7" cy="485.7" r="12.5"/><circle cx="1105.9" cy="492.9" r="12.5"/><circle cx="1107.1" cy="567.5" r="12.5"/><circle cx="1108.3" cy="555.9" r="12.5"/><circle cx="1109.5" cy="471.5" r="12.5"/><circle cx="1110.7" cy="470.0" r="12.5"/><circle cx="1111.9" cy="503.4" r="12.5"/><circle cx="1113.1" cy="522.7" r="12.5"/><circle cx="1114.2" cy="521.5" r="12.5"/><circle cx="1115.4" cy="475.2" r="12.5"/><circle cx="1116.6" cy="489.2" r="12.5"/><circle cx="1117.8" cy="573.6" r="12.5"/><circle cx="1119.0" cy="484.5" r="12.5"/><circle cx="1120.2" cy="424.0" r="12.5"/><circle cx="1121.4" cy="496.0" r="12.5"/><circle cx="1122.6" cy="602.4" r="12.5"/><circle cx="1123.8" cy="653.8" r="12.5"/><circle cx="1124.9" cy="423.1" r="12.5"/><circle cx="1126.1" cy="619.8" r="12.5"/><circle cx="1127.3" cy="513.6" r="12.5"/><circle cx="1128.5" cy="546.4" r="12.5"/><circle cx="1129.7" cy="474.9" r="12.5"/><circle cx="1130.9" cy="428.5" r="12.5"/><circle cx="1132.1" cy="537.0" r="12.5"/><circle cx="1133.3" cy="441.1" r="12.5"/><circle cx="1134.5" cy="572.4" r="12.5"/><circle cx="1135.6" cy="589.0" r="12.5"/><circle cx="1136.8" cy="617.9" r="12.5"/><circle cx="1138.0" cy="625.0" r="12.5"/><circle cx="1139.2" cy="695.6" r="12.5"/><circle cx="1140.4" cy="475.9" r="12.5"/><circle cx="1141.6" cy="564.8" r="12.5"/><circle cx="1142.8" cy="622.1" r="12.5"/><circle cx="1144.0" cy="502.4" r="12.5"/><circle cx="1145.1" cy="581.6" r="12.5"/><circle cx="1146.3" cy="507.2" r="12.5"/><circle cx="1147.5" cy="586.2" r="12.5"/><circle cx="1148.7" cy="588.6" r="12.5"/><circle cx="1149.9" cy="541.3" r="12.5"/><circle cx="1151.1" cy="430.7" r="12.5"/><circle cx="1152.3" cy="566.0" r="12.5"/><circle cx="1153.5" cy="601.2" r="12.5"/><circle cx="1154.7" cy="514.4" r="12.5"/><circle cx="1155.8" cy="527.6" r="12.5"/><circle cx="1157.0" cy="576.8" r="12.5"/><circle cx="1158.2" cy="472.6" r="12.5"/><circle cx="1159.4" cy="482.8" r="12.5"/><circle cx="1160.6" cy="559.6" r="12.5"/><circle cx="1161.8" cy="426.9" r="12.5"/><circle cx="1163.0" cy="601.6" r="12.5"/><circle cx="1164.2" cy="611.9" r="12.5"/><circle cx="1165.3" cy="546.3" r="12.5"/><circle cx="1166.5" cy="519.7" r="12.5"/><circle cx="1167.7" cy="592.1" r="12.5"/><circle cx="1168.9" cy="576.2" r="12.5"/><circle cx="1170.1" cy="537.9" r="12.5"/><circle cx="1171.3" cy="533.8" r="12.5"/><circle cx="1172.5" cy="529.4" r="12.5"/><circle cx="1173.7" cy="537.5" r="12.5"/><circle cx="1174.9" cy="532.2" r="12.5"/><circle cx="1176.0" cy="475.0" r="12.5"/><circle cx="1177.2" cy="500.0" r="12.5"/><circle cx="1178.4" cy="554.6" r="12.5"/><circle cx="1179.6" cy="630.4" r="12.5"/><circle cx="1180.8" cy="523.9" r="12.5"/><circle cx="1182.0" cy="543.9" r="12.5"/><circle cx="1183.2" cy="443.1" r="12.5"/><circle cx="1184.4" cy="500.9" r="12.5"/><circle cx="1185.5" cy="568.8" r="12.5"/><circle cx="1186.7" cy="397.2" r="12.5"/><circle cx="1187.9" cy="565.5" r="12.5"/><circle cx="1189.1" cy="518.8" r="12.5"/><circle cx="1190.3" cy="604.0" r="12.5"/><circle cx="1191.5" cy="466.9" r="12.5"/><circle cx="1192.7" cy="552.1" r="12.5"/><circle cx="1193.9" cy="518.9" r="12.5"/><circle cx="1195.1" cy="482.4" r="12.5"/><circle cx="1196.2" cy="581.6" r="12.5"/><circle cx="1197.4" cy="427.4" r="12.5"/><circle cx="1198.6" cy="511.4" r="12.5"/><circle cx="1199.8" cy="531.6" r="12.5"/><circle cx="1201.0" cy="483.0" r="12.5"/><circle cx="1202.2" cy="469.8" r="12.5"/><circle cx="1203.4" cy="619.9" r="12.5"/><circle cx="1204.6" cy="572.5" r="12.5"/><circle cx="1205.7" cy="646.1" r="12.5"/><circle cx="1206.9" cy="486.2" r="12.5"/><circle cx="1208.1" cy="464.0" r="12.5"/><circle cx="1209.3" cy="635.5" r="12.5"/><circle cx="1210.5" cy="515.8" r="12.5"/><circle cx="1211.7" cy="566.2" r="12.5"/><circle cx="1212.9" cy="506.9" r="12.5"/><circle cx="1214.1" cy="562.4" r="12.5"/><circle cx="1215.3" cy="654.4" r="12.5"/><circle cx="1216.4" cy="460.5" r="12.5"/><circle cx="1217.6" cy="548.2" r="12.5"/><circle cx="1218.8" cy="590.3" r="12.5"/><circle cx="1220.0" cy="525.0" r="12.5"/><circle cx="1221.2" cy="609.8" r="12.5"/><circle cx="1222.4" cy="486.6" r="12.5"/><circle cx="1223.6" cy="595.0" r="12.5"/><circle cx="1224.8" cy="437.9" r="12.5"/><circle cx="1226.0" cy="488.2" r="12.5"/><circle cx="1227.1" cy="526.8" r="12.5"/><circle cx="1228.3" cy="604.3" r="12.5"/><circle cx="1229.5" cy="558.4" r="12.5"/><circle cx="1230.7" cy="575.4" r="12.5"/><circle cx="1231.9" cy="549.0" r="12.5"/><circle cx="1233.1" cy="510.8" r="12.5"/><circle cx="1234.3" cy="592.1" r="12.5"/><circle cx="1235.5" cy="523.6" r="12.5"/><circle cx="1236.6" cy="545.4" r="12.5"/><circle cx="1237.8" cy="539.0" r="12.5"/><circle cx="1239.0" cy="519.3" r="12.5"/><circle cx="1240.2" cy="612.0" r="12.5"/><circle cx="1241.4" cy="528.2" r="12.5"/><circle cx="1242.6" cy="545.0" r="12.5"/><circle cx="1243.8" cy="530.0" r="12.5"/><circle cx="1245.0" cy="610.8" r="12.5"/><circle cx="1246.2" cy="413.5" r="12.5"/><circle cx="1247.3" cy="617.4" r="12.5"/><circle cx="1248.5" cy="553.2" r="12.5"/><circle cx="1249.7" cy="518.1" r="12.5"/><circle cx="1250.9" cy="502.5" r="12.5"/><circle cx="1252.1" cy="591.1" r="12.5"/><circle cx="1253.3" cy="380.5" r="12.5"/><circle cx="1254.5" cy="465.2" r="12.5"/><circle cx="1255.7" cy="511.7" r="12.5"/><circle cx="1256.8" cy="560.5" r="12.5"/><circle cx="1258.0" cy="561.2" r="12.5"/><circle cx="1259.2" cy="607.2" r="12.5"/><circle cx="1260.4" cy="505.4" r="12.5"/><circle cx="1261.6" cy="577.8" r="12.5"/><circle cx="1262.8" cy="593.0" r="12.5"/><circle cx="1264.0" cy="575.1" r="12.5"/><circle cx="1265.2" cy="591.2" r="12.5"/><circle cx="1266.4" cy="477.7" r="12.5"/><circle cx="1267.5" cy="550.7" r="12.5"/><circle cx="1268.7" cy="434.8" r="12.5"/><circle cx="1269.9" cy="563.3" r="12.5"/><circle cx="1271.1" cy="641.2" r="12.5"/><circle cx="1272.3" cy="529.2" r="12.5"/><circle cx="1273.5" cy="537.2" r="12.5"/><circle cx="1274.7" cy="475.6" r="12.5"/><circle cx="1275.9" cy="620.1" r="12.5"/><circle cx="1277.0" cy="525.4" r="12.5"/><circle cx="1278.2" cy="541.2" r="12.5"/><circle cx="1279.4" cy="573.1" r="12.5"/><circle cx="1280.6" cy="580.4" r="12.5"/><circle cx="1281.8" cy="619.4" r="12.5"/><circle cx="1283.0" cy="579.8" r="12.5"/><circle cx="1284.2" cy="462.4" r="12.5"/><circle cx="1285.4" cy="573.0" r="12.5"/><circle cx="1286.6" cy="584.3" r="12.5"/><circle cx="1287.7" cy="547.3" r="12.5"/><circle cx="1288.9" cy="575.2" r="12.5"/><circle cx="1290.1" cy="489.7" r="12.5"/><circle cx="1291.3" cy="554.1" r="12.5"/><circle cx="1292.5" cy="591.3" r="12.5"/><circle cx="1293.7" cy="461.8" r="12.5"/><circle cx="1294.9" cy="514.2" r="12.5"/><circle cx="1296.1" cy="593.6" r="12.5"/><circle cx="1297.3" cy="534.0" r="12.5"/><circle cx="1298.4" cy="543.3" r="12.5"/><circle cx="1299.6" cy="577.9" r="12.5"/><circle cx="1300.8" cy="588.8" r="12.5"/><circle cx="1302.0" cy="505.3" r="12.5"/><circle cx="1303.2" cy="569.8" r="12.5"/><circle cx="1304.4" cy="560.2" r="12.5"/><circle cx="1305.6" cy="613.3" r="12.5"/><circle cx="1306.8" cy="517.2" r="12.5"/><circle cx="1307.9" cy="610.0" r="12.5"/><circle cx="1309.1" cy="623.5" r="12.5"/><circle cx="1310.3" cy="536.4" r="12.5"/><circle cx="1311.5" cy="620.8" r="12.5"/><circle cx="1312.7" cy="563.2" r="12.5"/><circle cx="1313.9" cy="640.5" r="12.5"/><circle cx="1315.1" cy="543.6" r="12.5"/><circle cx="1316.3" cy="564.5" r="12.5"/><circle cx="1317.5" cy="633.7" r="12.5"/><circle cx="1318.6" cy="481.6" r="12.5"/><circle cx="1319.8" cy="534.7" r="12.5"/><circle cx="1321.0" cy="611.0" r="12.5"/><circle cx="1322.2" cy="522.3" r="12.5"/><circle cx="1323.4" cy="449.9" r="12.5"/><circle cx="1324.6" cy="478.0" r="12.5"/><circle cx="1325.8" cy="559.9" r="12.5"/><circle cx="1327.0" cy="578.2" r="12.5"/><circle cx="1328.1" cy="478.6" r="12.5"/><circle cx="1329.3" cy="592.5" r="12.5"/><circle cx="1330.5" cy="654.7" r="12.5"/><circle cx="1331.7" cy="503.9" r="12.5"/><circle cx="1332.9" cy="581.9" r="12.5"/><circle cx="1334.1" cy="432.7" r="12.5"/><circle cx="1335.3" cy="474.5" r="12.5"/><circle cx="1336.5" cy="585.4" r="12.5"/><circle cx="1337.7" cy="622.5" r="12.5"/><circle cx="1338.8" cy="494.3" r="12.5"/><circle cx="1340.0" cy="566.7" r="12.5"/><circle cx="1341.2" cy="636.4" r="12.5"/><circle cx="1342.4" cy="565.3" r="12.5"/><circle cx="1343.6" cy="579.6" r="12.5"/><circle cx="1344.8" cy="605.7" r="12.5"/><circle cx="1346.0" cy="600.7" r="12.5"/><circle cx="1347.2" cy="476.6" r="12.5"/><circle cx="1348.3" cy="521.7" r="12.5"/><circle cx="1349.5" cy="682.3" r="12.5"/><circle cx="1350.7" cy="500.5" r="12.5"/><circle cx="1351.9" cy="610.6" r="12.5"/><circle cx="1353.1" cy="493.4" r="12.5"/><circle cx="1354.3" cy="563.5" r="12.5"/><circle cx="1355.5" cy="548.3" r="12.5"/><circle cx="1356.7" cy="549.1" r="12.5"/><circle cx="1357.9" cy="564.4" r="12.5"/><circle cx="1359.0" cy="485.8" r="12.5"/><circle cx="1360.2" cy="486.1" r="12.5"/><circle cx="1361.4" cy="685.3" r="12.5"/><circle cx="1362.6" cy="590.5" r="12.5"/><circle cx="1363.8" cy="491.1" r="12.5"/><circle cx="1365.0" cy="442.5" r="12.5"/><circle cx="1366.2" cy="605.2" r="12.5"/><circle cx="1367.4" cy="609.5" r="12.5"/><circle cx="1368.6" cy="591.9" r="12.5"/><circle cx="1369.7" cy="635.0" r="12.5"/><circle cx="1370.9" cy="465.0" r="12.5"/><circle cx="1372.1" cy="504.2" r="12.5"/><circle cx="1373.3" cy="556.4" r="12.5"/><circle cx="1374.5" cy="514.5" r="12.5"/><circle cx="1375.7" cy="526.9" r="12.5"/><circle cx="1376.9" cy="490.0" r="12.5"/><circle cx="1378.1" cy="422.7" r="12.5"/><circle cx="1379.2" cy="540.5" r="12.5"/><circle cx="1380.4" cy="472.5" r="12.5"/><circle cx="1381.6" cy="641.9" r="12.5"/><circle cx="1382.8" cy="452.5" r="12.5"/><circle cx="1384.0" cy="496.2" r="12.5"/><circle cx="1385.2" cy="607.5" r="12.5"/><circle cx="1386.4" cy="498.0" r="12.5"/><circle cx="1387.6" cy="520.5" r="12.5"/><circle cx="1388.8" cy="477.9" r="12.5"/><circle cx="1389.9" cy="535.2" r="12.5"/><circle cx="1391.1" cy="516.3" r="12.5"/><circle cx="1392.3" cy="631.6" r="12.5"/><circle cx="1393.5" cy="515.0" r="12.5"/><circle cx="1394.7" cy="580.9" r="12.5"/><circle cx="1395.9" cy="566.9" r="12.5"/><circle cx="1397.1" cy="466.8" r="12.5"/><circle cx="1398.3" cy="542.5" r="12.5"/><circle cx="1399.4" cy="637.3" r="12.5"/><circle cx="1400.6" cy="573.8" r="12.5"/><circle cx="1401.8" cy="476.4" r="12.5"/><circle cx="1403.0" cy="518.2" r="12.5"/><circle cx="1404.2" cy="551.3" r="12.5"/><circle cx="1405.4" cy="523.0" r="12.5"/><circle cx="1406.6" cy="617.2" r="12.5"/><circle cx="1407.8" cy="549.6" r="12.5"/><circle cx="1409.0" cy="578.6" r="12.5"/><circle cx="1410.1" cy="529.9" r="12.5"/><circle cx="1411.3" cy="381.5" r="12.5"/><circle cx="1412.5" cy="618.1" r="12.5"/><circle cx="1413.7" cy="421.8" r="12.5"/><circle cx="1414.9" cy="527.4" r="12.5"/><circle cx="1416.1" cy="534.6" r="12.5"/><circle cx="1417.3" cy="513.8" r="12.5"/><circle cx="1418.5" cy="513.3" r="12.5"/><circle cx="1419.6" cy="538.4" r="12.5"/><circle cx="1420.8" cy="565.7" r="12.5"/><circle cx="1422.0" cy="553.1" r="12.5"/><circle cx="1423.2" cy="458.5" r="12.5"/><circle cx="1424.4" cy="526.1" r="12.5"/><circle cx="1425.6" cy="633.9" r="12.5"/><circle cx="1426.8" cy="550.0" r="12.5"/><circle cx="1428.0" cy="504.7" r="12.5"/><circle cx="1429.2" cy="577.7" r="12.5"/><circle cx="1430.3" cy="614.3" r="12.5"/><circle cx="1431.5" cy="561.3" r="12.5"/><circle cx="1432.7" cy="495.9" r="12.5"/><circle cx="1433.9" cy="621.6" r="12.5"/><circle cx="1435.1" cy="591.6" r="12.5"/><circle cx="1436.3" cy="535.9" r="12.5"/><circle cx="1437.5" cy="521.2" r="12.5"/><circle cx="1438.7" cy="469.9" r="12.5"/><circle cx="1439.8" cy="547.0" r="12.5"/><circle cx="1441.0" cy="523.6" r="12.5"/><circle cx="1442.2" cy="505.7" r="12.5"/><circle cx="1443.4" cy="582.1" r="12.5"/><circle cx="1444.6" cy="550.5" r="12.5"/><circle cx="1445.8" cy="428.0" r="12.5"/><circle cx="1447.0" cy="509.1" r="12.5"/><circle cx="1448.2" cy="551.9" r="12.5"/><circle cx="1449.4" cy="460.9" r="12.5"/><circle cx="1450.5" cy="569.5" r="12.5"/><circle cx="1451.7" cy="513.5" r="12.5"/><circle cx="1452.9" cy="517.3" r="12.5"/><circle cx="1454.1" cy="526.3" r="12.5"/><circle cx="1455.3" cy="498.6" r="12.5"/><circle cx="1456.5" cy="550.2" r="12.5"/><circle cx="1457.7" cy="623.3" r="12.5"/><circle cx="1458.9" cy="532.3" r="12.5"/><circle cx="1460.1" cy="510.5" r="12.5"/><circle cx="1461.2" cy="463.6" r="12.5"/><circle cx="1462.4" cy="538.2" r="12.5"/><circle cx="1463.6" cy="366.4" r="12.5"/><circle cx="1464.8" cy="505.1" r="12.5"/><circle cx="1466.0" cy="476.3" r="12.5"/><circle cx="1467.2" cy="386.1" r="12.5"/><circle cx="1468.4" cy="552.4" r="12.5"/><circle cx="1469.6" cy="497.0" r="12.5"/><circle cx="1470.7" cy="502.1" r="12.5"/><circle cx="1471.9" cy="518.7" r="12.5"/><circle cx="1473.1" cy="508.0" r="12.5"/><circle cx="1474.3" cy="492.2" r="12.5"/><circle cx="1475.5" cy="549.4" r="12.5"/><circle cx="1476.7" cy="604.7" r="12.5"/><circle cx="1477.9" cy="627.3" r="12.5"/><circle cx="1479.1" cy="644.8" r="12.5"/><circle cx="1480.3" cy="556.5" r="12.5"/><circle cx="1481.4" cy="439.1" r="12.5"/><circle cx="1482.6" cy="459.6" r="12.5"/><circle cx="1483.8" cy="536.7" r="12.5"/><circle cx="1485.0" cy="583.0" r="12.5"/><circle cx="1486.2" cy="481.5" r="12.5"/><circle cx="1487.4" cy="464.7" r="12.5"/><circle cx="1488.6" cy="599.9" r="12.5"/><circle cx="1489.8" cy="498.9" r="12.5"/><circle cx="1490.9" cy="502.4" r="12.5"/><circle cx="1492.1" cy="518.5" r="12.5"/><circle cx="1493.3" cy="532.9" r="12.5"/><circle cx="1494.5" cy="536.3" r="12.5"/><circle cx="1495.7" cy="569.7" r="12.5"/><circle cx="1496.9" cy="624.4" r="12.5"/><circle cx="1498.1" cy="548.4" r="12.5"/><circle cx="1499.3" cy="557.9" r="12.5"/><circle cx="1500.5" cy="487.7" r="12.5"/><circle cx="1501.6" cy="592.0" r="12.5"/><circle cx="1502.8" cy="619.2" r="12.5"/><circle cx="1504.0" cy="501.4" r="12.5"/><circle cx="1505.2" cy="477.5" r="12.5"/><circle cx="1506.4" cy="438.2" r="12.5"/><circle cx="1507.6" cy="418.8" r="12.5"/><circle cx="1508.8" cy="651.9" r="12.5"/><circle cx="1510.0" cy="510.7" r="12.5"/><circle cx="1511.1" cy="629.8" r="12.5"/><circle cx="1512.3" cy="488.4" r="12.5"/><circle cx="1513.5" cy="635.7" r="12.5"/><circle cx="1514.7" cy="502.3" r="12.5"/><circle cx="1515.9" cy="505.6" r="12.5"/><circle cx="1517.1" cy="606.2" r="12.5"/><circle cx="1518.3" cy="515.9" r="12.5"/><circle cx="1519.5" cy="487.1" r="12.5"/><circle cx="1520.7" cy="590.2" r="12.5"/><circle cx="1521.8" cy="542.4" r="12.5"/><circle cx="1523.0" cy="488.7" r="12.5"/><circle cx="1524.2" cy="606.4" r="12.5"/><circle cx="1525.4" cy="599.3" r="12.5"/><circle cx="1526.6" cy="561.8" r="12.5"/><circle cx="1527.8" cy="519.8" r="12.5"/><circle cx="1529.0" cy="585.4" r="12.5"/><circle cx="1530.2" cy="537.8" r="12.5"/><circle cx="1531.4" cy="526.8" r="12.5"/><circle cx="1532.5" cy="583.3" r="12.5"/><circle cx="1533.7" cy="580.7" r="12.5"/><circle cx="1534.9" cy="513.2" r="12.5"/><circle cx="1536.1" cy="475.4" r="12.5"/><circle cx="1537.3" cy="527.2" r="12.5"/><circle cx="1538.5" cy="489.3" r="12.5"/><circle cx="1539.7" cy="579.2" r="12.5"/><circle cx="1540.9" cy="658.0" r="12.5"/><circle cx="1542.0" cy="578.3" r="12.5"/><circle cx="1543.2" cy="468.4" r="12.5"/><circle cx="1544.4" cy="547.5" r="12.5"/><circle cx="1545.6" cy="644.5" r="12.5"/><circle cx="1546.8" cy="554.9" r="12.5"/><circle cx="1548.0" cy="544.1" r="12.5"/><circle cx="1549.2" cy="570.5" r="12.5"/><circle cx="1550.4" cy="489.9" r="12.5"/><circle cx="1551.6" cy="477.1" r="12.5"/><circle cx="1552.7" cy="537.8" r="12.5"/><circle cx="1553.9" cy="633.5" r="12.5"/><circle cx="1555.1" cy="549.5" r="12.5"/><circle cx="1556.3" cy="479.3" r="12.5"/><circle cx="1557.5" cy="663.0" r="12.5"/><circle cx="1558.7" cy="490.9" r="12.5"/><circle cx="1559.9" cy="588.3" r="12.5"/><circle cx="1561.1" cy="546.0" r="12.5"/><circle cx="1562.2" cy="594.7" r="12.5"/><circle cx="1563.4" cy="629.4" r="12.5"/><circle cx="1564.6" cy="630.2" r="12.5"/><circle cx="1565.8" cy="562.0" r="12.5"/><circle cx="1567.0" cy="547.3" r="12.5"/><circle cx="1568.2" cy="577.0" r="12.5"/><circle cx="1569.4" cy="581.7" r="12.5"/><circle cx="1570.6" cy="509.8" r="12.5"/><circle cx="1571.8" cy="558.0" r="12.5"/><circle cx="1572.9" cy="611.7" r="12.5"/><circle cx="1574.1" cy="532.4" r="12.5"/><circle cx="1575.3" cy="466.0" r="12.5"/><circle cx="1576.5" cy="529.7" r="12.5"/><circle cx="1577.7" cy="580.6" r="12.5"/><circle cx="1578.9" cy="579.9" r="12.5"/><circle cx="1580.1" cy="565.1" r="12.5"/><circle cx="1581.3" cy="534.5" r="12.5"/><circle cx="1582.4" cy="633.3" r="12.5"/><circle cx="1583.6" cy="605.3" r="12.5"/><circle cx="1584.8" cy="586.1" r="12.5"/><circle cx="1586.0" cy="469.4" r="12.5"/><circle cx="1587.2" cy="494.7" r="12.5"/><circle cx="1588.4" cy="629.6" r="12.5"/><circle cx="1589.6" cy="517.0" r="12.5"/><circle cx="1590.8" cy="514.0" r="12.5"/><circle cx="1592.0" cy="531.1" r="12.5"/><circle cx="1593.1" cy="484.7" r="12.5"/><circle cx="1594.3" cy="570.8" r="12.5"/><circle cx="1595.5" cy="524.9" r="12.5"/><circle cx="1596.7" cy="609.7" r="12.5"/><circle cx="1597.9" cy="652.4" r="12.5"/><circle cx="1599.1" cy="583.7" r="12.5"/><circle cx="1600.3" cy="510.1" r="12.5"/><circle cx="1601.5" cy="591.7" r="12.5"/><circle cx="1602.7" cy="463.7" r="12.5"/><circle cx="1603.8" cy="671.1" r="12.5"/><circle cx="1605.0" cy="626.2" r="12.5"/><circle cx="1606.2" cy="522.9" r="12.5"/><circle cx="1607.4" cy="547.4" r="12.5"/><circle cx="1608.6" cy="606.7" r="12.5"/><circle cx="1609.8" cy="591.6" r="12.5"/><circle cx="1611.0" cy="546.2" r="12.5"/><circle cx="1612.2" cy="468.8" r="12.5"/><circle cx="1613.3" cy="531.9" r="12.5"/><circle cx="1614.5" cy="561.7" r="12.5"/><circle cx="1615.7" cy="578.1" r="12.5"/><circle cx="1616.9" cy="466.3" r="12.5"/><circle cx="1618.1" cy="504.3" r="12.5"/><circle cx="1619.3" cy="588.0" r="12.5"/><circle cx="1620.5" cy="527.1" r="12.5"/><circle cx="1621.7" cy="546.8" r="12.5"/><circle cx="1622.9" cy="524.0" r="12.5"/><circle cx="1624.0" cy="582.5" r="12.5"/><circle cx="1625.2" cy="536.5" r="12.5"/><circle cx="1626.4" cy="501.5" r="12.5"/><circle cx="1627.6" cy="636.9" r="12.5"/><circle cx="1628.8" cy="582.5" r="12.5"/><circle cx="1630.0" cy="501.6" r="12.5"/><circle cx="1631.2" cy="612.8" r="12.5"/><circle cx="1632.4" cy="639.4" r="12.5"/><circle cx="1633.5" cy="604.6" r="12.5"/><circle cx="1634.7" cy="611.2" r="12.5"/><circle cx="1635.9" cy="552.7" r="12.5"/><circle cx="1637.1" cy="587.7" r="12.5"/><circle cx="1638.3" cy="564.3" r="12.5"/><circle cx="1639.5" cy="573.3" r="12.5"/><circle cx="1640.7" cy="549.0" r="12.5"/><circle cx="1641.9" cy="462.8" r="12.5"/><circle cx="1643.1" cy="572.3" r="12.5"/><circle cx="1644.2" cy="506.8" r="12.5"/><circle cx="1645.4" cy="569.2" r="12.5"/><circle cx="1646.6" cy="685.3" r="12.5"/><circle cx="1647.8" cy="419.2" r="12.5"/><circle cx="1649.0" cy="541.9" r="12.5"/><circle cx="1650.2" cy="512.1" r="12.5"/><circle cx="1651.4" cy="545.7" r="12.5"/><circle cx="1652.6" cy="629.1" r="12.5"/><circle cx="1653.7" cy="660.1" r="12.5"/><circle cx="1654.9" cy="519.5" r="12.5"/><circle cx="1656.1" cy="559.5" r="12.5"/><circle cx="1657.3" cy="635.9" r="12.5"/><circle cx="1658.5" cy="511.6" r="12.5"/><circle cx="1659.7" cy="561.5" r="12.5"/><circle cx="1660.9" cy="588.7" r="12.5"/><circle cx="1662.1" cy="433.2" r="12.5"/><circle cx="1663.3" cy="470.4" r="12.5"/><circle cx="1664.4" cy="473.2" r="12.5"/><circle cx="1665.6" cy="557.6" r="12.5"/><circle cx="1666.8" cy="472.2" r="12.5"/><circle cx="1668.0" cy="587.6" r="12.5"/><circle cx="1669.2" cy="473.7" r="12.5"/><circle cx="1670.4" cy="532.6" r="12.5"/><circle cx="1671.6" cy="534.4" r="12.5"/><circle cx="1672.8" cy="512.8" r="12.5"/><circle cx="1673.9" cy="565.9" r="12.5"/><circle cx="1675.1" cy="550.3" r="12.5"/><circle cx="1676.3" cy="604.8" r="12.5"/><circle cx="1677.5" cy="672.1" r="12.5"/><circle cx="1678.7" cy="530.2" r="12.5"/><circle cx="1679.9" cy="550.4" r="12.5"/><circle cx="1681.1" cy="526.4" r="12.5"/><circle cx="1682.3" cy="515.4" r="12.5"/><circle cx="1683.5" cy="404.8" r="12.5"/><circle cx="1684.6" cy="579.5" r="12.5"/><circle cx="1685.8" cy="585.1" r="12.5"/><circle cx="1687.0" cy="533.7" r="12.5"/><circle cx="1688.2" cy="574.0" r="12.5"/><circle cx="1689.4" cy="493.6" r="12.5"/><circle cx="1690.6" cy="654.1" r="12.5"/><circle cx="1691.8" cy="516.9" r="12.5"/><circle cx="1693.0" cy="535.1" r="12.5"/><circle cx="1694.2" cy="558.3" r="12.5"/><circle cx="1695.3" cy="569.6" r="12.5"/><circle cx="1696.5" cy="453.1" r="12.5"/><circle cx="1697.7" cy="495.4" r="12.5"/><circle cx="1698.9" cy="588.4" r="12.5"/><circle cx="1700.1" cy="501.0" r="12.5"/><circle cx="1701.3" cy="453.7" r="12.5"/><circle cx="1702.5" cy="566.6" r="12.5"/><circle cx="1703.7" cy="558.5" r="12.5"/><circle cx="1704.8" cy="544.3" r="12.5"/><circle cx="1706.0" cy="509.4" r="12.5"/><circle cx="1707.2" cy="385.1" r="12.5"/><circle cx="1708.4" cy="600.1" r="12.5"/><circle cx="1709.6" cy="458.0" r="12.5"/><circle cx="1710.8" cy="474.6" r="12.5"/><circle cx="1712.0" cy="583.8" r="12.5"/><circle cx="1713.2" cy="526.4" r="12.5"/><circle cx="1714.4" cy="469.5" r="12.5"/><circle cx="1715.5" cy="406.3" r="12.5"/><circle cx="1716.7" cy="490.8" r="12.5"/><circle cx="1717.9" cy="569.0" r="12.5"/><circle cx="1719.1" cy="487.4" r="12.5"/><circle cx="1720.3" cy="569.9" r="12.5"/><circle cx="1721.5" cy="595.2" r="12.5"/><circle cx="1722.7" cy="527.7" r="12.5"/><circle cx="1723.9" cy="525.6" r="12.5"/><circle cx="1725.0" cy="467.4" r="12.5"/><circle cx="1726.2" cy="576.8" r="12.5"/><circle cx="1727.4" cy="531.3" r="12.5"/><circle cx="1728.6" cy="469.1" r="12.5"/><circle cx="1729.8" cy="588.2" r="12.5"/><circle cx="1731.0" cy="557.3" r="12.5"/><circle cx="1732.2" cy="443.4" r="12.5"/><circle cx="1733.4" cy="466.1" r="12.5"/><circle cx="1734.6" cy="464.5" r="12.5"/><circle cx="1735.7" cy="458.1" r="12.5"/><circle cx="1736.9" cy="465.6" r="12.5"/><circle cx="1738.1" cy="379.1" r="12.5"/><circle cx="1739.3" cy="557.8" r="12.5"/><circle cx="1740.5" cy="547.8" r="12.5"/><circle cx="1741.7" cy="392.8" r="12.5"/><circle cx="1742.9" cy="604.4" r="12.5"/><circle cx="1744.1" cy="496.5" r="12.5"/><circle cx="1745.2" cy="472.1" r="12.5"/><circle cx="1746.4" cy="447.4" r="12.5"/><circle cx="1747.6" cy="515.5" r="12.5"/><circle cx="1748.8" cy="547.7" r="12.5"/><circle cx="1750.0" cy="471.6" r="12.5"/><circle cx="1751.2" cy="348.4" r="12.5"/><circle cx="1752.4" cy="483.1" r="12.5"/><circle cx="1753.6" cy="492.1" r="12.5"/><circle cx="1754.8" cy="493.5" r="12.5"/><circle cx="1755.9" cy="499.5" r="12.5"/><circle cx="1757.1" cy="529.5" r="12.5"/><circle cx="1758.3" cy="428.3" r="12.5"/><circle cx="1759.5" cy="434.6" r="12.5"/><circle cx="1760.7" cy="569.1" r="12.5"/><circle cx="1761.9" cy="455.0" r="12.5"/><circle cx="1763.1" cy="536.0" r="12.5"/><circle cx="1764.3" cy="588.9" r="12.5"/><circle cx="1765.5" cy="457.8" r="12.5"/><circle cx="1766.6" cy="421.4" r="12.5"/><circle cx="1767.8" cy="497.1" r="12.5"/><circle cx="1769.0" cy="455.9" r="12.5"/><circle cx="1770.2" cy="504.7" r="12.5"/><circle cx="1771.4" cy="483.9" r="12.5"/><circle cx="1772.6" cy="481.0" r="12.5"/><circle cx="1773.8" cy="502.6" r="12.5"/><circle cx="1775.0" cy="522.4" r="12.5"/><circle cx="1776.1" cy="568.6" r="12.5"/><circle cx="1777.3" cy="608.8" r="12.5"/><circle cx="1778.5" cy="498.5" r="12.5"/><circle cx="1779.7" cy="454.0" r="12.5"/><circle cx="1780.9" cy="494.4" r="12.5"/><circle cx="1782.1" cy="480.5" r="12.5"/><circle cx="1783.3" cy="478.9" r="12.5"/><circle cx="1784.5" cy="575.3" r="12.5"/><circle cx="1785.7" cy="552.8" r="12.5"/><circle cx="1786.8" cy="584.5" r="12.5"/><circle cx="1788.0" cy="598.6" r="12.5"/><circle cx="1789.2" cy="584.7" r="12.5"/><circle cx="1790.4" cy="462.0" r="12.5"/><circle cx="1791.6" cy="635.3" r="12.5"/><circle cx="1792.8" cy="559.1" r="12.5"/><circle cx="1794.0" cy="450.9" r="12.5"/><circle cx="1795.2" cy="534.2" r="12.5"/><circle cx="1796.3" cy="621.8" r="12.5"/><circle cx="1797.5" cy="580.3" r="12.5"/><circle cx="1798.7" cy="438.5" r="12.5"/><circle cx="1799.9" cy="510.6" r="12.5"/><circle cx="1801.1" cy="567.2" r="12.5"/><circle cx="1802.3" cy="553.0" r="12.5"/><circle cx="1803.5" cy="420.5" r="12.5"/><circle cx="1804.7" cy="517.6" r="12.5"/><circle cx="1805.9" cy="555.8" r="12.5"/><circle cx="1807.0" cy="414.7" r="12.5"/><circle cx="1808.2" cy="526.5" r="12.5"/><circle cx="1809.4" cy="479.2" r="12.5"/><circle cx="1810.6" cy="535.2" r="12.5"/><circle cx="1811.8" cy="541.2" r="12.5"/><circle cx="1813.0" cy="427.2" r="12.5"/><circle cx="1814.2" cy="496.1" r="12.5"/><circle cx="1815.4" cy="510.3" r="12.5"/><circle cx="1816.5" cy="605.6" r="12.5"/><circle cx="1817.7" cy="557.4" r="12.5"/><circle cx="1818.9" cy="545.2" r="12.5"/><circle cx="1820.1" cy="549.4" r="12.5"/><circle cx="1821.3" cy="546.7" r="12.5"/><circle cx="1822.5" cy="525.8" r="12.5"/><circle cx="1823.7" cy="550.9" r="12.5"/><circle cx="1824.9" cy="484.3" r="12.5"/><circle cx="1826.1" cy="490.1" r="12.5"/><circle cx="1827.2" cy="479.4" r="12.5"/><circle cx="1828.4" cy="343.3" r="12.5"/><circle cx="1829.6" cy="506.6" r="12.5"/><circle cx="1830.8" cy="572.9" r="12.5"/><circle cx="1832.0" cy="480.7" r="12.5"/><circle cx="1833.2" cy="436.5" r="12.5"/><circle cx="1834.4" cy="481.4" r="12.5"/><circle cx="1835.6" cy="513.4" r="12.5"/><circle cx="1836.8" cy="468.2" r="12.5"/><circle cx="1837.9" cy="535.4" r="12.5"/><circle cx="1839.1" cy="483.3" r="12.5"/><circle cx="1840.3" cy="512.3" r="12.5"/><circle cx="1841.5" cy="489.8" r="12.5"/><circle cx="1842.7" cy="460.7" r="12.5"/><circle cx="1843.9" cy="575.7" r="12.5"/><circle cx="1845.1" cy="499.2" r="12.5"/><circle cx="1846.3" cy="612.5" r="12.5"/><circle cx="1847.4" cy="594.3" r="12.5"/><circle cx="1848.6" cy="572.9" r="12.5"/><circle cx="1849.8" cy="554.0" r="12.5"/><circle cx="1851.0" cy="622.0" r="12.5"/><circle cx="1852.2" cy="596.3" r="12.5"/><circle cx="1853.4" cy="560.7" r="12.5"/><circle cx="1854.6" cy="507.4" r="12.5"/><circle cx="1855.8" cy="608.5" r="12.5"/><circle cx="1857.0" cy="543.2" r="12.5"/><circle cx="1858.1" cy="490.5" r="12.5"/><circle cx="1859.3" cy="602.1" r="12.5"/><circle cx="1860.5" cy="467.7" r="12.5"/><circle cx="1861.7" cy="480.2" r="12.5"/><circle cx="1862.9" cy="501.6" r="12.5"/><circle cx="1864.1" cy="570.0" r="12.5"/><circle cx="1865.3" cy="471.7" r="12.5"/><circle cx="1866.5" cy="431.6" r="12.5"/><circle cx="1867.6" cy="400.3" r="12.5"/><circle cx="1868.8" cy="562.1" r="12.5"/><circle cx="1870.0" cy="530.7" r="12.5"/><circle cx="1871.2" cy="446.8" r="12.5"/><circle cx="1872.4" cy="431.8" r="12.5"/><circle cx="1873.6" cy="489.6" r="12.5"/><circle cx="1874.8" cy="444.5" r="12.5"/><circle cx="1876.0" cy="451.5" r="12.5"/><circle cx="1877.2" cy="595.6" r="12.5"/><circle cx="1878.3" cy="479.8" r="12.5"/><circle cx="1879.5" cy="596.2" r="12.5"/><circle cx="1880.7" cy="389.9" r="12.5"/><circle cx="1881.9" cy="464.2" r="12.5"/><circle cx="1883.1" cy="586.3" r="12.5"/><circle cx="1884.3" cy="550.7" r="12.5"/><circle cx="1885.5" cy="382.7" r="12.5"/><circle cx="1886.7" cy="578.4" r="12.5"/><circle cx="1887.8" cy="442.2" r="12.5"/><circle cx="1889.0" cy="496.8" r="12.5"/><circle cx="1890.2" cy="526.0" r="12.5"/><circle cx="1891.4" cy="582.3" r="12.5"/><circle cx="1892.6" cy="557.2" r="12.5"/><circle cx="1893.8" cy="679.7" r="12.5"/><circle cx="1895.0" cy="471.8" r="12.5"/><circle cx="1896.2" cy="632.3" r="12.5"/><circle cx="1897.4" cy="528.7" r="12.5"/><circle cx="1898.5" cy="540.0" r="12.5"/><circle cx="1899.7" cy="598.2" r="12.5"/><circle cx="1900.9" cy="647.8" r="12.5"/><circle cx="1902.1" cy="544.3" r="12.5"/><circle cx="1903.3" cy="584.9" r="12.5"/><circle cx="1904.5" cy="493.9" r="12.5"/><circle cx="1905.7" cy="615.7" r="12.5"/><circle cx="1906.9" cy="552.2" r="12.5"/><circle cx="1908.0" cy="494.6" r="12.5"/><circle cx="1909.2" cy="514.6" r="12.5"/><circle cx="1910.4" cy="541.1" r="12.5"/><circle cx="1911.6" cy="543.1" r="12.5"/><circle cx="1912.8" cy="601.4" r="12.5"/><circle cx="1914.0" cy="613.7" r="12.5"/><circle cx="1915.2" cy="627.1" r="12.5"/><circle cx="1916.4" cy="511.1" r="12.5"/><circle cx="1917.6" cy="575.5" r="12.5"/><circle cx="1918.7" cy="543.4" r="12.5"/><circle cx="1919.9" cy="493.1" r="12.5"/><circle cx="1921.1" cy="601.3" r="12.5"/><circle cx="1922.3" cy="591.0" r="12.5"/><circle cx="1923.5" cy="499.3" r="12.5"/><circle cx="1924.7" cy="498.2" r="12.5"/><circle cx="1925.9" cy="618.7" r="12.5"/><circle cx="1927.1" cy="607.4" r="12.5"/><circle cx="1928.3" cy="513.0" r="12.5"/><circle cx="1929.4" cy="602.7" r="12.5"/><circle cx="1930.6" cy="423.5" r="12.5"/><circle cx="1931.8" cy="656.7" r="12.5"/><circle cx="1933.0" cy="598.8" r="12.5"/><circle cx="1934.2" cy="553.4" r="12.5"/><circle cx="1935.4" cy="592.7" r="12.5"/><circle cx="1936.6" cy="677.7" r="12.5"/><circle cx="1937.8" cy="572.2" r="12.5"/><circle cx="1938.9" cy="602.2" r="12.5"/><circle cx="1940.1" cy="508.6" r="12.5"/><circle cx="1941.3" cy="537.2" r="12.5"/><circle cx="1942.5" cy="669.2" r="12.5"/><circle cx="1943.7" cy="502.0" r="12.5"/><circle cx="1944.9" cy="638.5" r="12.5"/><circle cx="1946.1" cy="616.9" r="12.5"/><circle cx="1947.3" cy="565.4" r="12.5"/><circle cx="1948.5" cy="631.4" r="12.5"/><circle cx="1949.6" cy="582.0" r="12.5"/><circle cx="1950.8" cy="520.0" r="12.5"/><circle cx="1952.0" cy="484.9" r="12.5"/><circle cx="1953.2" cy="420.9" r="12.5"/><circle cx="1954.4" cy="485.3" r="12.5"/><circle cx="1955.6" cy="586.8" r="12.5"/><circle cx="1956.8" cy="436.2" r="12.5"/><circle cx="1958.0" cy="508.3" r="12.5"/><circle cx="1959.1" cy="484.0" r="12.5"/><circle cx="1960.3" cy="646.4" r="12.5"/><circle cx="1961.5" cy="509.9" r="12.5"/><circle cx="1962.7" cy="582.7" r="12.5"/><circle cx="1963.9" cy="528.3" r="12.5"/><circle cx="1965.1" cy="574.2" r="12.5"/><circle cx="1966.3" cy="614.2" r="12.5"/><circle cx="1967.5" cy="545.8" r="12.5"/><circle cx="1968.7" cy="509.2" r="12.5"/><circle cx="1969.8" cy="611.5" r="12.5"/><circle cx="1971.0" cy="449.6" r="12.5"/><circle cx="1972.2" cy="650.3" r="12.5"/><circle cx="1973.4" cy="641.7" r="12.5"/><circle cx="1974.6" cy="636.2" r="12.5"/><circle cx="1975.8" cy="589.7" r="12.5"/><circle cx="1977.0" cy="501.9" r="12.5"/><circle cx="1978.2" cy="543.6" r="12.5"/><circle cx="1979.3" cy="548.7" r="12.5"/><circle cx="1980.5" cy="531.2" r="12.5"/><circle cx="1981.7" cy="475.5" r="12.5"/><circle cx="1982.9" cy="524.5" r="12.5"/><circle cx="1984.1" cy="642.8" r="12.5"/><circle cx="1985.3" cy="679.0" r="12.5"/><circle cx="1986.5" cy="577.7" r="12.5"/><circle cx="1987.7" cy="583.1" r="12.5"/><circle cx="1988.9" cy="516.1" r="12.5"/><circle cx="1990.0" cy="530.1" r="12.5"/><circle cx="1991.2" cy="570.4" r="12.5"/><circle cx="1992.4" cy="674.9" r="12.5"/><circle cx="1993.6" cy="483.5" r="12.5"/><circle cx="1994.8" cy="618.2" r="12.5"/><circle cx="1996.0" cy="606.0" r="12.5"/><circle cx="1997.2" cy="648.1" r="12.5"/><circle cx="1998.4" cy="591.8" r="12.5"/><circle cx="1999.6" cy="422.2" r="12.5"/><circle cx="2000.7" cy="554.9" r="12.5"/><circle cx="2001.9" cy="748.1" r="12.5"/><circle cx="2003.1" cy="557.5" r="12.5"/><circle cx="2004.3" cy="578.6" r="12.5"/><circle cx="2005.5" cy="588.7" r="12.5"/><circle cx="2006.7" cy="391.8" r="12.5"/><circle cx="2007.9" cy="553.0" r="12.5"/><circle cx="2009.1" cy="540.5" r="12.5"/><circle cx="2010.2" cy="590.6" r="12.5"/><circle cx="2011.4" cy="542.8" r="12.5"/><circle cx="2012.6" cy="539.1" r="12.5"/><circle cx="2013.8" cy="481.9" r="12.5"/><circle cx="2015.0" cy="499.4" r="12.5"/><circle cx="2016.2" cy="546.1" r="12.5"/><circle cx="2017.4" cy="582.8" r="12.5"/><circle cx="2018.6" cy="497.7" r="12.5"/><circle cx="2019.8" cy="574.6" r="12.5"/><circle cx="2020.9" cy="583.2" r="12.5"/><circle cx="2022.1" cy="388.0" r="12.5"/><circle cx="2023.3" cy="394.7" r="12.5"/><circle cx="2024.5" cy="610.3" r="12.5"/><circle cx="2025.7" cy="587.8" r="12.5"/><circle cx="2026.9" cy="461.3" r="12.5"/><circle cx="2028.1" cy="509.3" r="12.5"/><circle cx="2029.3" cy="612.3" r="12.5"/><circle cx="2030.4" cy="480.3" r="12.5"/><circle cx="2031.6" cy="599.1" r="12.5"/><circle cx="2032.8" cy="605.8" r="12.5"/><circle cx="2034.0" cy="527.3" r="12.5"/><circle cx="2035.2" cy="589.3" r="12.5"/><circle cx="2036.4" cy="549.2" r="12.5"/><circle cx="2037.6" cy="505.0" r="12.5"/><circle cx="2038.8" cy="647.2" r="12.5"/><circle cx="2040.0" cy="539.2" r="12.5"/><circle cx="2041.1" cy="562.5" r="12.5"/><circle cx="2042.3" cy="558.8" r="12.5"/><circle cx="2043.5" cy="460.4" r="12.5"/><circle cx="2044.7" cy="519.4" r="12.5"/><circle cx="2045.9" cy="519.1" r="12.5"/><circle cx="2047.1" cy="608.4" r="12.5"/><circle cx="2048.3" cy="568.3" r="12.5"/><circle cx="2049.5" cy="523.1" r="12.5"/><circle cx="2050.6" cy="603.7" r="12.5"/><circle cx="2051.8" cy="508.2" r="12.5"/><circle cx="2053.0" cy="602.9" r="12.5"/><circle cx="2054.2" cy="540.7" r="12.5"/><circle cx="2055.4" cy="471.1" r="12.5"/><circle cx="2056.6" cy="560.4" r="12.5"/><circle cx="2057.8" cy="501.8" r="12.5"/><circle cx="2059.0" cy="538.0" r="12.5"/><circle cx="2060.2" cy="576.4" r="12.5"/><circle cx="2061.3" cy="613.8" r="12.5"/><circle cx="2062.5" cy="439.6" r="12.5"/><circle cx="2063.7" cy="492.6" r="12.5"/><circle cx="2064.9" cy="470.9" r="12.5"/><circle cx="2066.1" cy="521.0" r="12.5"/><circle cx="2067.3" cy="566.1" r="12.5"/><circle cx="2068.5" cy="626.0" r="12.5"/><circle cx="2069.7" cy="492.7" r="12.5"/><circle cx="2070.9" cy="627.7" r="12.5"/><circle cx="2072.0" cy="497.5" r="12.5"/><circle cx="2073.2" cy="638.2" r="12.5"/><circle cx="2074.4" cy="568.1" r="12.5"/><circle cx="2075.6" cy="516.2" r="12.5"/><circle cx="2076.8" cy="540.8" r="12.5"/><circle cx="2078.0" cy="615.2" r="12.5"/><circle cx="2079.2" cy="554.8" r="12.5"/><circle cx="2080.4" cy="653.3" r="12.5"/><circle cx="2081.5" cy="631.2" r="12.5"/><circle cx="2082.7" cy="516.5" r="12.5"/><circle cx="2083.9" cy="462.6" r="12.5"/><circle cx="2085.1" cy="538.5" r="12.5"/><circle cx="2086.3" cy="538.6" r="12.5"/><circle cx="2087.5" cy="492.4" r="12.5"/><circle cx="2088.7" cy="615.3" r="12.5"/><circle cx="2089.9" cy="516.0" r="12.5"/><circle cx="2091.1" cy="480.9" r="12.5"/><circle cx="2092.2" cy="605.4" r="12.5"/><circle cx="2093.4" cy="551.7" r="12.5"/><circle cx="2094.6" cy="474.7" r="12.5"/><circle cx="2095.8" cy="643.3" r="12.5"/><circle cx="2097.0" cy="698.1" r="12.5"/><circle cx="2098.2" cy="534.9" r="12.5"/><circle cx="2099.4" cy="571.8" r="12.5"/><circle cx="2100.6" cy="492.8" r="12.5"/><circle cx="2101.7" cy="619.1" r="12.5"/><circle cx="2102.9" cy="647.5" r="12.5"/><circle cx="2104.1" cy="607.9" r="12.5"/><circle cx="2105.3" cy="571.6" r="12.5"/><circle cx="2106.5" cy="534.1" r="12.5"/><circle cx="2107.7" cy="486.9" r="12.5"/><circle cx="2108.9" cy="418.3" r="12.5"/><circle cx="2110.1" cy="527.3" r="12.5"/><circle cx="2111.3" cy="449.0" r="12.5"/><circle cx="2112.4" cy="522.2" r="12.5"/><circle cx="2113.6" cy="525.3" r="12.5"/><circle cx="2114.8" cy="439.3" r="12.5"/><circle cx="2116.0" cy="514.9" r="12.5"/><circle cx="2117.2" cy="528.0" r="12.5"/><circle cx="2118.4" cy="523.1" r="12.5"/><circle cx="2119.6" cy="589.8" r="12.5"/><circle cx="2120.8" cy="562.6" r="12.5"/><circle cx="2121.9" cy="563.6" r="12.5"/><circle cx="2123.1" cy="573.2" r="12.5"/><circle cx="2124.3" cy="650.0" r="12.5"/><circle cx="2125.5" cy="541.0" r="12.5"/><circle cx="2126.7" cy="526.6" r="12.5"/><circle cx="2127.9" cy="532.5" r="12.5"/><circle cx="2129.1" cy="545.3" r="12.5"/><circle cx="2130.3" cy="500.9" r="12.5"/><circle cx="2131.5" cy="523.5" r="12.5"/><circle cx="2132.6" cy="601.8" r="12.5"/><circle cx="2133.8" cy="542.7" r="12.5"/><circle cx="2135.0" cy="674.0" r="12.5"/><circle cx="2136.2" cy="572.6" r="12.5"/><circle cx="2137.4" cy="503.1" r="12.5"/><circle cx="2138.6" cy="478.1" r="12.5"/><circle cx="2139.8" cy="676.4" r="12.5"/><circle cx="2141.0" cy="576.1" r="12.5"/><circle cx="2142.1" cy="565.2" r="12.5"/><circle cx="2143.3" cy="602.8" r="12.5"/><circle cx="2144.5" cy="468.3" r="12.5"/><circle cx="2145.7" cy="539.8" r="12.5"/><circle cx="2146.9" cy="538.9" r="12.5"/><circle cx="2148.1" cy="468.0" r="12.5"/><circle cx="2149.3" cy="597.7" r="12.5"/><circle cx="2150.5" cy="545.1" r="12.5"/><circle cx="2151.7" cy="574.7" r="12.5"/><circle cx="2152.8" cy="545.6" r="12.5"/><circle cx="2154.0" cy="687.2" r="12.5"/><circle cx="2155.2" cy="572.0" r="12.5"/><circle cx="2156.4" cy="559.8" r="12.5"/><circle cx="2157.6" cy="608.3" r="12.5"/><circle cx="2158.8" cy="518.0" r="12.5"/><circle cx="2160.0" cy="561.6" r="12.5"/><circle cx="2161.2" cy="563.0" r="12.5"/><circle cx="2162.4" cy="506.3" r="12.5"/><circle cx="2163.5" cy="456.3" r="12.5"/><circle cx="2164.7" cy="542.9" r="12.5"/><circle cx="2165.9" cy="517.5" r="12.5"/><circle cx="2167.1" cy="577.1" r="12.5"/><circle cx="2168.3" cy="562.9" r="12.5"/><circle cx="2169.5" cy="529.1" r="12.5"/><circle cx="2170.7" cy="612.7" r="12.5"/><circle cx="2171.9" cy="607.0" r="12.5"/><circle cx="2173.0" cy="624.1" r="12.5"/><circle cx="2174.2" cy="540.9" r="12.5"/><circle cx="2175.4" cy="450.2" r="12.5"/><circle cx="2176.6" cy="612.4" r="12.5"/><circle cx="2177.8" cy="525.0" r="12.5"/><circle cx="2179.0" cy="553.6" r="12.5"/><circle cx="2180.2" cy="542.0" r="12.5"/><circle cx="2181.4" cy="596.5" r="12.5"/><circle cx="2182.6" cy="499.6" r="12.5"/><circle cx="2183.7" cy="507.3" r="12.5"/><circle cx="2184.9" cy="575.9" r="12.5"/><circle cx="2186.1" cy="493.7" r="12.5"/><circle cx="2187.3" cy="506.2" r="12.5"/><circle cx="2188.5" cy="556.9" r="12.5"/><circle cx="2189.7" cy="548.3" r="12.5"/><circle cx="2190.9" cy="584.0" r="12.5"/><circle cx="2192.1" cy="530.6" r="12.5"/><circle cx="2193.2" cy="673.0" r="12.5"/><circle cx="2194.4" cy="583.5" r="12.5"/><circle cx="2195.6" cy="539.3" r="12.5"/><circle cx="2196.8" cy="555.6" r="12.5"/><circle cx="2198.0" cy="483.6" r="12.5"/><circle cx="2199.2" cy="556.7" r="12.5"/><circle cx="2200.4" cy="560.4" r="12.5"/><circle cx="2201.6" cy="620.4" r="12.5"/><circle cx="2202.8" cy="486.0" r="12.5"/><circle cx="2203.9" cy="509.2" r="12.5"/><circle cx="2205.1" cy="608.9" r="12.5"/><circle cx="2206.3" cy="527.7" r="12.5"/><circle cx="2207.5" cy="598.3" r="12.5"/><circle cx="2208.7" cy="580.2" r="12.5"/><circle cx="2209.9" cy="517.7" r="12.5"/><circle cx="2211.1" cy="615.0" r="12.5"/><circle cx="2212.3" cy="476.8" r="12.5"/><circle cx="2213.4" cy="592.4" r="12.5"/><circle cx="2214.6" cy="543.9" r="12.5"/><circle cx="2215.8" cy="632.7" r="12.5"/><circle cx="2217.0" cy="496.9" r="12.5"/><circle cx="2218.2" cy="531.5" r="12.5"/><circle cx="2219.4" cy="518.4" r="12.5"/><circle cx="2220.6" cy="531.7" r="12.5"/><circle cx="2221.8" cy="524.3" r="12.5"/><circle cx="2223.0" cy="607.7" r="12.5"/><circle cx="2224.1" cy="584.1" r="12.5"/><circle cx="2225.3" cy="324.1" r="12.5"/><circle cx="2226.5" cy="444.2" r="12.5"/><circle cx="2227.7" cy="517.9" r="12.5"/><circle cx="2228.9" cy="505.2" r="12.5"/><circle cx="2230.1" cy="475.8" r="12.5"/><circle cx="2231.3" cy="465.8" r="12.5"/><circle cx="2232.5" cy="389.0" r="12.5"/><circle cx="2233.7" cy="546.9" r="12.5"/><circle cx="2234.8" cy="533.9" r="12.5"/><circle cx="2236.0" cy="653.5" r="12.5"/><circle cx="2237.2" cy="604.1" r="12.5"/><circle cx="2238.4" cy="452.1" r="12.5"/><circle cx="2239.6" cy="424.8" r="12.5"/><circle cx="2240.8" cy="535.9" r="12.5"/><circle cx="2242.0" cy="484.8" r="12.5"/><circle cx="2243.2" cy="539.8" r="12.5"/><circle cx="2244.3" cy="553.8" r="12.5"/><circle cx="2245.5" cy="448.3" r="12.5"/><circle cx="2246.7" cy="473.5" r="12.5"/><circle cx="2247.9" cy="699.4" r="12.5"/><circle cx="2249.1" cy="626.9" r="12.5"/><circle cx="2250.3" cy="583.6" r="12.5"/><circle cx="2251.5" cy="496.7" r="12.5"/><circle cx="2252.7" cy="490.2" r="12.5"/><circle cx="2253.9" cy="520.8" r="12.5"/><circle cx="2255.0" cy="541.6" r="12.5"/><circle cx="2256.2" cy="593.5" r="12.5"/><circle cx="2257.4" cy="544.8" r="12.5"/><circle cx="2258.6" cy="383.9" r="12.5"/><circle cx="2259.8" cy="588.5" r="12.5"/><circle cx="2261.0" cy="561.0" r="12.5"/><circle cx="2262.2" cy="539.7" r="12.5"/><circle cx="2263.4" cy="598.0" r="12.5"/><circle cx="2264.5" cy="523.7" r="12.5"/><circle cx="2265.7" cy="558.2" r="12.5"/><circle cx="2266.9" cy="634.8" r="12.5"/><circle cx="2268.1" cy="548.6" r="12.5"/><circle cx="2269.3" cy="585.5" r="12.5"/><circle cx="2270.5" cy="499.3" r="12.5"/><circle cx="2271.7" cy="512.7" r="12.5"/><circle cx="2272.9" cy="545.0" r="12.5"/><circle cx="2274.1" cy="650.8" r="12.5"/><circle cx="2275.2" cy="461.7" r="12.5"/><circle cx="2276.4" cy="567.7" r="12.5"/><circle cx="2277.6" cy="537.6" r="12.5"/><circle cx="2278.8" cy="462.9" r="12.5"/><circle cx="2280.0" cy="518.9" r="12.5"/><circle cx="2281.2" cy="515.1" r="12.5"/><circle cx="2282.4" cy="540.3" r="12.5"/><circle cx="2283.6" cy="564.6" r="12.5"/><circle cx="2284.7" cy="541.6" r="12.5"/><circle cx="2285.9" cy="456.9" r="12.5"/><circle cx="2287.1" cy="530.8" r="12.5"/><circle cx="2288.3" cy="499.8" r="12.5"/><circle cx="2289.5" cy="531.0" r="12.5"/><circle cx="2290.7" cy="509.6" r="12.5"/><circle cx="2291.9" cy="573.8" r="12.5"/><circle cx="2293.1" cy="610.5" r="12.5"/><circle cx="2294.3" cy="505.5" r="12.5"/><circle cx="2295.4" cy="542.1" r="12.5"/><circle cx="2296.6" cy="574.1" r="12.5"/><circle cx="2297.8" cy="590.9" r="12.5"/><circle cx="2299.0" cy="467.6" r="12.5"/><circle cx="2300.2" cy="587.0" r="12.5"/><circle cx="2301.4" cy="578.5" r="12.5"/><circle cx="2302.6" cy="637.8" r="12.5"/><circle cx="2303.8" cy="537.4" r="12.5"/><circle cx="2305.0" cy="592.8" r="12.5"/><circle cx="2306.1" cy="638.9" r="12.5"/><circle cx="2307.3" cy="659.7" r="12.5"/><circle cx="2308.5" cy="504.0" r="12.5"/><circle cx="2309.7" cy="479.6" r="12.5"/><circle cx="2310.9" cy="559.7" r="12.5"/><circle cx="2312.1" cy="585.0" r="12.5"/><circle cx="2313.3" cy="530.3" r="12.5"/><circle cx="2314.5" cy="475.1" r="12.5"/><circle cx="2315.6" cy="590.2" r="12.5"/><circle cx="2316.8" cy="595.3" r="12.5"/><circle cx="2318.0" cy="485.4" r="12.5"/><circle cx="2319.2" cy="563.8" r="12.5"/><circle cx="2320.4" cy="506.5" r="12.5"/><circle cx="2321.6" cy="698.1" r="12.5"/><circle cx="2322.8" cy="549.7" r="12.5"/><circle cx="2324.0" cy="506.7" r="12.5"/><circle cx="2325.2" cy="586.0" r="12.5"/><circle cx="2326.3" cy="675.7" r="12.5"/><circle cx="2327.5" cy="593.2" r="12.5"/><circle cx="2328.7" cy="566.4" r="12.5"/><circle cx="2329.9" cy="667.3" r="12.5"/><circle cx="2331.1" cy="580.8" r="12.5"/><circle cx="2332.3" cy="660.5" r="12.5"/><circle cx="2333.5" cy="533.1" r="12.5"/><circle cx="2334.7" cy="655.1" r="12.5"/><circle cx="2335.8" cy="465.3" r="12.5"/><circle cx="2337.0" cy="548.0" r="12.5"/><circle cx="2338.2" cy="505.9" r="12.5"/><circle cx="2339.4" cy="616.0" r="12.5"/><circle cx="2340.6" cy="579.9" r="12.5"/><circle cx="2341.8" cy="565.0" r="12.5"/><circle cx="2343.0" cy="586.7" r="12.5"/><circle cx="2344.2" cy="504.1" r="12.5"/><circle cx="2345.4" cy="497.2" r="12.5"/><circle cx="2346.5" cy="544.0" r="12.5"/><circle cx="2347.7" cy="533.5" r="12.5"/><circle cx="2348.9" cy="451.8" r="12.5"/><circle cx="2350.1" cy="540.1" r="12.5"/><circle cx="2351.3" cy="596.6" r="12.5"/><circle cx="2352.5" cy="503.2" r="12.5"/><circle cx="2353.7" cy="503.1" r="12.5"/><circle cx="2354.9" cy="616.5" r="12.5"/><circle cx="2356.0" cy="613.5" r="12.5"/><circle cx="2357.2" cy="522.1" r="12.5"/><circle cx="2358.4" cy="518.3" r="12.5"/><circle cx="2359.6" cy="429.1" r="12.5"/><circle cx="2360.8" cy="663.5" r="12.5"/><circle cx="2362.0" cy="559.4" r="12.5"/><circle cx="2363.2" cy="525.1" r="12.5"/><circle cx="2364.4" cy="523.3" r="12.5"/><circle cx="2365.6" cy="670.1" r="12.5"/><circle cx="2366.7" cy="440.8" r="12.5"/><circle cx="2367.9" cy="607.8" r="12.5"/><circle cx="2369.1" cy="553.9" r="12.5"/><circle cx="2370.3" cy="455.6" r="12.5"/><circle cx="2371.5" cy="489.1" r="12.5"/><circle cx="2372.7" cy="597.5" r="12.5"/><circle cx="2373.9" cy="600.6" r="12.5"/><circle cx="2375.1" cy="508.9" r="12.5"/><circle cx="2376.2" cy="571.0" r="12.5"/><circle cx="2377.4" cy="550.6" r="12.5"/><circle cx="2378.6" cy="586.6" r="12.5"/><circle cx="2379.8" cy="479.7" r="12.5"/><circle cx="2381.0" cy="507.6" r="12.5"/><circle cx="2382.2" cy="524.7" r="12.5"/><circle cx="2383.4" cy="649.4" r="12.5"/><circle cx="2384.6" cy="524.6" r="12.5"/><circle cx="2385.8" cy="566.8" r="12.5"/><circle cx="2386.9" cy="517.8" r="12.5"/><circle cx="2388.1" cy="521.6" r="12.5"/><circle cx="2389.3" cy="459.7" r="12.5"/><circle cx="2390.5" cy="541.8" r="12.5"/><circle cx="2391.7" cy="590.8" r="12.5"/><circle cx="2392.9" cy="516.4" r="12.5"/><circle cx="2394.1" cy="477.3" r="12.5"/><circle cx="2395.3" cy="517.4" r="12.5"/><circle cx="2396.5" cy="614.0" r="12.5"/><circle cx="2397.6" cy="547.2" r="12.5"/><circle cx="2398.8" cy="515.2" r="12.5"/><circle cx="2400.0" cy="608.7" r="12.5"/><circle cx="2401.2" cy="632.9" r="12.5"/><circle cx="2402.4" cy="505.4" r="12.5"/><circle cx="2403.6" cy="639.6" r="12.5"/><circle cx="2404.8" cy="530.0" r="12.5"/><circle cx="2406.0" cy="390.9" r="12.5"/><circle cx="2407.1" cy="583.4" r="12.5"/><circle cx="2408.3" cy="557.1" r="12.5"/><circle cx="2409.5" cy="401.8" r="12.5"/><circle cx="2410.7" cy="538.3" r="12.5"/><circle cx="2411.9" cy="550.0" r="12.5"/><circle cx="2413.1" cy="564.9" r="12.5"/><circle cx="2414.3" cy="644.2" r="12.5"/><circle cx="2415.5" cy="535.6" r="12.5"/><circle cx="2416.7" cy="584.4" r="12.5"/><circle cx="2417.8" cy="494.9" r="12.5"/><circle cx="2419.0" cy="478.8" r="12.5"/><circle cx="2420.2" cy="609.0" r="12.5"/><circle cx="2421.4" cy="651.1" r="12.5"/><circle cx="2422.6" cy="539.6" r="12.5"/><circle cx="2423.8" cy="512.4" r="12.5"/><circle cx="2425.0" cy="609.9" r="12.5"/><circle cx="2426.2" cy="584.8" r="12.5"/><circle cx="2427.3" cy="681.0" r="12.5"/><circle cx="2428.5" cy="511.2" r="12.5"/><circle cx="2429.7" cy="504.5" r="12.5"/><circle cx="2430.9" cy="523.8" r="12.5"/><circle cx="2432.1" cy="448.6" r="12.5"/><circle cx="2433.3" cy="628.7" r="12.5"/><circle cx="2434.5" cy="471.2" r="12.5"/><circle cx="2435.7" cy="470.3" r="12.5"/><circle cx="2436.9" cy="514.3" r="12.5"/><circle cx="2438.0" cy="490.4" r="12.5"/><circle cx="2439.2" cy="597.8" r="12.5"/><circle cx="2440.4" cy="568.7" r="12.5"/><circle cx="2441.6" cy="529.6" r="12.5"/><circle cx="2442.8" cy="545.5" r="12.5"/><circle cx="2444.0" cy="603.6" r="12.5"/><circle cx="2445.2" cy="612.9" r="12.5"/><circle cx="2446.4" cy="430.2" r="12.5"/><circle cx="2447.5" cy="597.3" r="12.5"/><circle cx="2448.7" cy="581.2" r="12.5"/><circle cx="2449.9" cy="427.7" r="12.5"/><circle cx="2451.1" cy="445.4" r="12.5"/><circle cx="2452.3" cy="463.2" r="12.5"/><circle cx="2453.5" cy="604.9" r="12.5"/><circle cx="2454.7" cy="601.9" r="12.5"/><circle cx="2455.9" cy="602.6" r="12.5"/><circle cx="2457.1" cy="625.6" r="12.5"/><circle cx="2458.2" cy="497.8" r="12.5"/><circle cx="2459.4" cy="429.9" r="12.5"/><circle cx="2460.6" cy="510.2" r="12.5"/><circle cx="2461.8" cy="536.8" r="12.5"/><circle cx="2463.0" cy="578.7" r="12.5"/><circle cx="2464.2" cy="596.0" r="12.5"/><circle cx="2465.4" cy="434.3" r="12.5"/><circle cx="2466.6" cy="601.1" r="12.5"/><circle cx="2467.8" cy="540.2" r="12.5"/><circle cx="2468.9" cy="599.4" r="12.5"/><circle cx="2470.1" cy="610.9" r="12.5"/><circle cx="2471.3" cy="632.1" r="12.5"/><circle cx="2472.5" cy="519.2" r="12.5"/><circle cx="2473.7" cy="621.5" r="12.5"/><circle cx="2474.9" cy="393.8" r="12.5"/><circle cx="2476.1" cy="606.5" r="12.5"/><circle cx="2477.3" cy="649.2" r="12.5"/><circle cx="2478.4" cy="532.6" r="12.5"/><circle cx="2479.6" cy="573.5" r="12.5"/><circle cx="2480.8" cy="655.9" r="12.5"/><circle cx="2482.0" cy="510.9" r="12.5"/><circle cx="2483.2" cy="470.5" r="12.5"/><circle cx="2484.4" cy="528.9" r="12.5"/><circle cx="2485.6" cy="530.9" r="12.5"/><circle cx="2486.8" cy="592.2" r="12.5"/><circle cx="2488.0" cy="459.9" r="12.5"/><circle cx="2489.1" cy="586.8" r="12.5"/><circle cx="2490.3" cy="519.9" r="12.5"/><circle cx="2491.5" cy="591.1" r="12.5"/><circle cx="2492.7" cy="429.4" r="12.5"/><circle cx="2493.9" cy="598.7" r="12.5"/><circle cx="2495.1" cy="583.9" r="12.5"/><circle cx="2496.3" cy="521.8" r="12.5"/><circle cx="2497.5" cy="479.9" r="12.5"/><circle cx="2498.6" cy="461.2" r="12.5"/><circle cx="2499.8" cy="603.3" r="12.5"/><circle cx="2501.0" cy="562.2" r="12.5"/><circle cx="2502.2" cy="660.9" r="12.5"/><circle cx="2503.4" cy="575.8" r="12.5"/><circle cx="2504.6" cy="468.7" r="12.5"/><circle cx="2505.8" cy="577.3" r="12.5"/><circle cx="2507.0" cy="587.3" r="12.5"/><circle cx="2508.2" cy="595.7" r="12.5"/><circle cx="2509.3" cy="559.3" r="12.5"/><circle cx="2510.5" cy="630.0" r="12.5"/><circle cx="2511.7" cy="589.7" r="12.5"/><circle cx="2512.9" cy="476.0" r="12.5"/><circle cx="2514.1" cy="544.5" r="12.5"/><circle cx="2515.3" cy="524.8" r="12.5"/><circle cx="2516.5" cy="599.2" r="12.5"/><circle cx="2517.7" cy="408.7" r="12.5"/><circle cx="2518.8" cy="626.6" r="12.5"/><circle cx="2520.0" cy="456.6" r="12.5"/><circle cx="2521.2" cy="562.7" r="12.5"/><circle cx="2522.4" cy="435.9" r="12.5"/><circle cx="2523.6" cy="444.8" r="12.5"/><circle cx="2524.8" cy="581.5" r="12.5"/><circle cx="2526.0" cy="605.5" r="12.5"/><circle cx="2527.2" cy="484.4" r="12.5"/><circle cx="2528.4" cy="514.1" r="12.5"/><circle cx="2529.5" cy="500.6" r="12.5"/><circle cx="2530.7" cy="493.0" r="12.5"/><circle cx="2531.9" cy="459.4" r="12.5"/><circle cx="2533.1" cy="466.4" r="12.5"/><circle cx="2534.3" cy="567.1" r="12.5"/><circle cx="2535.5" cy="547.7" r="12.5"/><circle cx="2536.7" cy="533.6" r="12.5"/><circle cx="2537.9" cy="515.3" r="12.5"/><circle cx="2539.1" cy="491.7" r="12.5"/><circle cx="2540.2" cy="578.1" r="12.5"/><circle cx="2541.4" cy="477.2" r="12.5"/><circle cx="2542.6" cy="587.2" r="12.5"/><circle cx="2543.8" cy="481.3" r="12.5"/><circle cx="2545.0" cy="555.3" r="12.5"/><circle cx="2546.2" cy="581.8" r="12.5"/><circle cx="2547.4" cy="585.6" r="12.5"/><circle cx="2548.6" cy="585.9" r="12.5"/><circle cx="2549.7" cy="445.9" r="12.5"/><circle cx="2550.9" cy="529.8" r="12.5"/><circle cx="2552.1" cy="567.8" r="12.5"/><circle cx="2553.3" cy="582.6" r="12.5"/><circle cx="2554.5" cy="491.8" r="12.5"/><circle cx="2555.7" cy="636.6" r="12.5"/><circle cx="2556.9" cy="521.9" r="12.5"/><circle cx="2558.1" cy="589.2" r="12.5"/><circle cx="2559.3" cy="514.0" r="12.5"/><circle cx="2560.4" cy="645.0" r="12.5"/><circle cx="2561.6" cy="558.1" r="12.5"/><circle cx="2562.8" cy="645.9" r="12.5"/><circle cx="2564.0" cy="548.7" r="12.5"/><circle cx="2565.2" cy="576.3" r="12.5"/><circle cx="2566.4" cy="551.8" r="12.5"/><circle cx="2567.6" cy="528.6" r="12.5"/><circle cx="2568.8" cy="643.8" r="12.5"/><circle cx="2569.9" cy="544.9" r="12.5"/><circle cx="2571.1" cy="548.9" r="12.5"/><circle cx="2572.3" cy="597.0" r="12.5"/><circle cx="2573.5" cy="590.1" r="12.5"/><circle cx="2574.7" cy="574.5" r="12.5"/><circle cx="2575.9" cy="432.1" r="12.5"/><circle cx="2577.1" cy="577.5" r="12.5"/><circle cx="2578.3" cy="587.1" r="12.5"/><circle cx="2579.5" cy="435.7" r="12.5"/><circle cx="2580.6" cy="594.1" r="12.5"/><circle cx="2581.8" cy="555.7" r="12.5"/><circle cx="2583.0" cy="540.4" r="12.5"/><circle cx="2584.2" cy="555.2" r="12.5"/><circle cx="2585.4" cy="573.3" r="12.5"/><circle cx="2586.6" cy="445.1" r="12.5"/><circle cx="2587.8" cy="648.6" r="12.5"/><circle cx="2589.0" cy="680.3" r="12.5"/><circle cx="2590.1" cy="478.4" r="12.5"/><circle cx="2591.3" cy="528.1" r="12.5"/><circle cx="2592.5" cy="539.4" r="12.5"/><circle cx="2593.7" cy="545.3" r="12.5"/><circle cx="2594.9" cy="535.7" r="12.5"/><circle cx="2596.1" cy="504.9" r="12.5"/><circle cx="2597.3" cy="644.0" r="12.5"/><circle cx="2598.5" cy="419.6" r="12.5"/><circle cx="2599.7" cy="553.3" r="12.5"/><circle cx="2600.8" cy="528.2" r="12.5"/><circle cx="2602.0" cy="431.0" r="12.5"/><circle cx="2603.2" cy="597.1" r="12.5"/><circle cx="2604.4" cy="417.9" r="12.5"/><circle cx="2605.6" cy="483.2" r="12.5"/><circle cx="2606.8" cy="588.2" r="12.5"/><circle cx="2608.0" cy="520.4" r="12.5"/><circle cx="2609.2" cy="525.5" r="12.5"/>
</g>
<path clip-path="url(#ca1)" d="M233.7 478.0 235.2 595.0 250.6 507.0 255.6 516.9 264.9 575.1 280.1 528.5 288.2 556.5 297.5 540.2 304.5 561.1 312.7 551.8 322.0 579.8 331.3 575.1 345.3 486.6 358.1 583.2 372.1 529.7 380.2 549.5 397.7 491.2 407.0 512.2 414.0 556.5 423.3 591.4 435.0 533.2 445.5 562.3 457.1 525.0 464.1 553.0 471.1 521.5 478.1 533.2 483.9 579.8 492.0 579.8 504.8 537.8 515.3 573.9 523.5 537.8 531.6 499.4 542.1 542.5 547.9 536.7 554.9 568.1 564.2 522.7 573.6 556.5 579.4 527.3 589.9 551.8 591.0 582.1 602.7 565.8 614.3 562.3 621.3 587.9 627.1 547.1 638.8 576.3 646.9 519.2 656.2 542.5 665.6 590.2 681.9 525.0 693.5 560.0 709.8 515.7 716.8 561.1 723.8 611.2 736.6 549.5 744.8 582.1 756.4 546.0 768.0 591.4 780.9 519.2 791.3 571.6 801.8 516.9 811.1 549.5 819.3 527.3 828.2 549.5 838.6 505.2 848.0 516.9 854.9 523.9 860.8 570.4 870.1 540.2 875.9 556.5 887.5 527.3 894.5 537.8 901.5 577.4 913.2 551.8 922.5 575.1 933.0 522.7 940.0 547.1 952.8 509.9 964.4 550.6 971.4 509.9 979.6 504.1 987.7 542.5 993.5 529.7 1004.0 540.2 1013.3 528.5 1022.6 544.8 1033.1 575.1 1047.1 501.7 1062.2 564.6 1073.9 513.4 1080.9 537.8 1090.2 477.3 1097.2 463.3 1105.3 509.9 1115.8 505.2 1122.8 530.8 1132.1 518.0 1140.3 569.3 1154.2 527.3 1162.4 533.2 1171.7 554.1 1179.9 512.2 1188.0 528.5 1195.0 511.0 1204.3 533.2 1212.5 562.3 1223.0 530.8 1236.9 549.5 1246.2 540.2 1253.2 521.5 1263.7 570.4 1271.9 534.3 1282.3 568.1 1288.2 532.0 1299.8 551.8 1311.5 582.1 1325.4 529.7 1334.8 530.8 1347.6 575.1 1359.2 527.3 1367.4 556.5 1376.7 511.0 1388.3 528.5 1400.0 554.1 1412.8 521.5 1419.3 533.2 1424.0 570.4 1432.1 569.3 1439.1 533.2 1446.1 508.7 1453.1 530.8 1460.1 528.5 1467.1 498.2 1472.9 516.9 1477.5 562.3 1484.5 519.2 1490.4 516.9 1495.0 562.3 1503.2 523.9 1510.2 542.5 1517.1 536.7 1526.5 562.3 1531.1 535.5 1542.8 556.5 1552.1 540.2 1563.7 577.4 1576.5 544.8 1587.0 565.8 1595.2 554.1 1602.2 578.6 1616.1 530.8 1625.5 543.6 1632.4 593.7 1645.3 520.4 1656.9 572.8 1666.2 498.2 1675.5 565.8 1686.0 527.3 1690.7 555.3 1701.2 516.9 1711.6 502.9 1719.8 520.4 1726.8 539.0 1736.1 468.0 1745.4 511.0 1754.7 488.9 1759.4 521.5 1762.9 480.8 1771.0 500.6 1780.3 522.7 1792.0 554.1 1809.5 492.4 1821.1 547.1 1829.3 495.9 1836.2 488.9 1845.6 512.2 1853.7 566.9 1865.4 486.6 1875.8 486.6 1885.2 512.2 1892.1 535.5 1899.1 582.1 1908.5 536.7 1914.3 560.0 1923.6 540.2 1934.1 579.8 1945.7 579.8 1955.0 505.2 1964.4 549.5 1972.5 577.4 1980.7 547.1 1992.3 600.7 2002.8 544.8 2019.3 520.6 2028.9 524.2 2034.9 571.2 2044.5 537.5 2051.7 553.1 2059.0 530.3 2067.4 530.3 2077.0 578.4 2087.8 532.7 2095.1 545.9 2101.1 574.8 2113.1 489.3 2122.7 565.2 2130.0 543.5 2136.0 571.2 2146.8 538.7 2156.4 572.4 2163.7 532.7 2175.7 572.4 2182.9 523.0 2193.8 565.2 2204.6 539.9 2210.6 566.4 2219.0 543.5 2228.6 493.0 2240.7 493.0 2251.5 539.9 2257.5 524.2 2266.0 562.7 2279.2 513.4 2291.2 532.7 2304.5 578.4 2318.9 527.8 2330.9 601.3 2341.8 541.1 2352.6 527.8 2359.8 560.3 2373.1 527.8 2377.9 555.5 2387.5 525.4 2399.5 556.7 2412.8 524.2 2421.2 579.6 2435.6 518.2 2442.9 545.9 2450.1 526.6 2466.9 545.9 2477.8 580.8 2494.6 526.6 2506.6 573.6 2517.5 526.6 2530.7 505.0 2543.9 536.3 2563.2 570.0 2572.8 536.3 2577.6 531.5 2588.5 556.7 2594.5 541.1 2604.1 505.0 2608.9 517.0" fill="none" stroke="#4477AA" stroke-width="15.2" stroke-linejoin="round" stroke-linecap="butt"/>
<g clip-path="url(#ca3)" fill="#fff" fill-opacity=".5" stroke="#AA3377" stroke-opacity=".5" stroke-width="4.2">
<circle cx="233.7" cy="1341.7" r="12.5"/><circle cx="234.9" cy="1310.7" r="12.5"/><circle cx="236.1" cy="1290.4" r="12.5"/><circle cx="237.3" cy="1376.3" r="12.5"/><circle cx="238.5" cy="1360.8" r="12.5"/><circle cx="239.6" cy="1419.4" r="12.5"/><circle cx="240.8" cy="1278.3" r="12.5"/><circle cx="242.0" cy="1231.1" r="12.5"/><circle cx="243.2" cy="1280.6" r="12.5"/><circle cx="244.4" cy="1341.3" r="12.5"/><circle cx="245.6" cy="1321.7" r="12.5"/><circle cx="246.8" cy="1181.7" r="12.5"/><circle cx="248.0" cy="1210.9" r="12.5"/><circle cx="249.1" cy="1327.6" r="12.5"/><circle cx="250.3" cy="1227.7" r="12.5"/><circle cx="251.5" cy="1143.8" r="12.5"/><circle cx="252.7" cy="1324.7" r="12.5"/><circle cx="253.9" cy="1199.7" r="12.5"/><circle cx="255.1" cy="1367.6" r="12.5"/><circle cx="256.3" cy="1253.6" r="12.5"/><circle cx="257.5" cy="1193.9" r="12.5"/><circle cx="258.7" cy="1280.7" r="12.5"/><circle cx="259.8" cy="1373.4" r="12.5"/><circle cx="261.0" cy="1248.5" r="12.5"/><circle cx="262.2" cy="1315.0" r="12.5"/><circle cx="263.4" cy="1284.2" r="12.5"/><circle cx="264.6" cy="1401.9" r="12.5"/><circle cx="265.8" cy="1278.1" r="12.5"/><circle cx="267.0" cy="1218.1" r="12.5"/><circle cx="268.2" cy="1316.6" r="12.5"/><circle cx="269.3" cy="1391.4" r="12.5"/><circle cx="270.5" cy="1231.9" r="12.5"/><circle cx="271.7" cy="1332.5" r="12.5"/><circle cx="272.9" cy="1352.6" r="12.5"/><circle cx="274.1" cy="1221.2" r="12.5"/><circle cx="275.3" cy="1333.5" r="12.5"/><circle cx="276.5" cy="1331.4" r="12.5"/><circle cx="277.7" cy="1316.1" r="12.5"/><circle cx="278.9" cy="1398.5" r="12.5"/><circle cx="280.0" cy="1304.5" r="12.5"/><circle cx="281.2" cy="1368.4" r="12.5"/><circle cx="282.4" cy="1232.8" r="12.5"/><circle cx="283.6" cy="1412.3" r="12.5"/><circle cx="284.8" cy="1313.5" r="12.5"/><circle cx="286.0" cy="1273.1" r="12.5"/><circle cx="287.2" cy="1409.9" r="12.5"/><circle cx="288.4" cy="1226.3" r="12.5"/><circle cx="289.6" cy="1339.7" r="12.5"/><circle cx="290.7" cy="1358.7" r="12.5"/><circle cx="291.9" cy="1110.5" r="12.5"/><circle cx="293.1" cy="1280.2" r="12.5"/><circle cx="294.3" cy="1301.7" r="12.5"/><circle cx="295.5" cy="1251.6" r="12.5"/><circle cx="296.7" cy="1285.5" r="12.5"/><circle cx="297.9" cy="1307.1" r="12.5"/><circle cx="299.1" cy="1294.1" r="12.5"/><circle cx="300.2" cy="1220.5" r="12.5"/><circle cx="301.4" cy="1174.0" r="12.5"/><circle cx="302.6" cy="1187.3" r="12.5"/><circle cx="303.8" cy="1304.0" r="12.5"/><circle cx="305.0" cy="1198.7" r="12.5"/><circle cx="306.2" cy="1213.3" r="12.5"/><circle cx="307.4" cy="1256.2" r="12.5"/><circle cx="308.6" cy="1289.1" r="12.5"/><circle cx="309.8" cy="1224.4" r="12.5"/><circle cx="310.9" cy="1254.8" r="12.5"/><circle cx="312.1" cy="1146.6" r="12.5"/><circle cx="313.3" cy="1158.8" r="12.5"/><circle cx="314.5" cy="1236.8" r="12.5"/><circle cx="315.7" cy="1285.2" r="12.5"/><circle cx="316.9" cy="1196.8" r="12.5"/><circle cx="318.1" cy="1315.8" r="12.5"/><circle cx="319.3" cy="1319.4" r="12.5"/><circle cx="320.4" cy="1320.6" r="12.5"/><circle cx="321.6" cy="1165.8" r="12.5"/><circle cx="322.8" cy="1312.9" r="12.5"/><circle cx="324.0" cy="1356.8" r="12.5"/><circle cx="325.2" cy="1289.6" r="12.5"/><circle cx="326.4" cy="1321.4" r="12.5"/><circle cx="327.6" cy="1217.4" r="12.5"/><circle cx="328.8" cy="1271.8" r="12.5"/><circle cx="330.0" cy="1298.2" r="12.5"/><circle cx="331.1" cy="1188.4" r="12.5"/><circle cx="332.3" cy="1226.2" r="12.5"/><circle cx="333.5" cy="1298.6" r="12.5"/><circle cx="334.7" cy="1388.9" r="12.5"/><circle cx="335.9" cy="1298.3" r="12.5"/><circle cx="337.1" cy="1350.8" r="12.5"/><circle cx="338.3" cy="1199.5" r="12.5"/><circle cx="339.5" cy="1265.1" r="12.5"/><circle cx="340.6" cy="1312.5" r="12.5"/><circle cx="341.8" cy="1214.6" r="12.5"/><circle cx="343.0" cy="1319.7" r="12.5"/><circle cx="344.2" cy="1221.4" r="12.5"/><circle cx="345.4" cy="1147.7" r="12.5"/><circle cx="346.6" cy="1231.2" r="12.5"/><circle cx="347.8" cy="1378.9" r="12.5"/><circle cx="349.0" cy="1196.5" r="12.5"/><circle cx="350.2" cy="1338.4" r="12.5"/><circle cx="351.3" cy="1351.0" r="12.5"/><circle cx="352.5" cy="1290.8" r="12.5"/><circle cx="353.7" cy="1328.2" r="12.5"/><circle cx="354.9" cy="1279.1" r="12.5"/><circle cx="356.1" cy="1169.8" r="12.5"/><circle cx="357.3" cy="1263.8" r="12.5"/><circle cx="358.5" cy="1312.6" r="12.5"/><circle cx="359.7" cy="1208.4" r="12.5"/><circle cx="360.9" cy="1217.3" r="12.5"/><circle cx="362.0" cy="1281.2" r="12.5"/><circle cx="363.2" cy="1331.9" r="12.5"/><circle cx="364.4" cy="1211.6" r="12.5"/><circle cx="365.6" cy="1243.2" r="12.5"/><circle cx="366.8" cy="1343.2" r="12.5"/><circle cx="368.0" cy="1265.0" r="12.5"/><circle cx="369.2" cy="1214.4" r="12.5"/><circle cx="370.4" cy="1308.7" r="12.5"/><circle cx="371.5" cy="1338.3" r="12.5"/><circle cx="372.7" cy="1380.8" r="12.5"/><circle cx="373.9" cy="1173.6" r="12.5"/><circle cx="375.1" cy="1235.7" r="12.5"/><circle cx="376.3" cy="1291.3" r="12.5"/><circle cx="377.5" cy="1316.2" r="12.5"/><circle cx="378.7" cy="1296.2" r="12.5"/><circle cx="379.9" cy="1246.4" r="12.5"/><circle cx="381.1" cy="1334.0" r="12.5"/><circle cx="382.2" cy="1140.1" r="12.5"/><circle cx="383.4" cy="1318.5" r="12.5"/><circle cx="384.6" cy="1186.1" r="12.5"/><circle cx="385.8" cy="1356.1" r="12.5"/><circle cx="387.0" cy="1126.1" r="12.5"/><circle cx="388.2" cy="1276.4" r="12.5"/><circle cx="389.4" cy="1153.5" r="12.5"/><circle cx="390.6" cy="1227.6" r="12.5"/><circle cx="391.7" cy="1272.3" r="12.5"/><circle cx="392.9" cy="1255.7" r="12.5"/><circle cx="394.1" cy="1301.9" r="12.5"/><circle cx="395.3" cy="1238.4" r="12.5"/><circle cx="396.5" cy="1285.6" r="12.5"/><circle cx="397.7" cy="1313.8" r="12.5"/><circle cx="398.9" cy="1304.4" r="12.5"/><circle cx="400.1" cy="1219.1" r="12.5"/><circle cx="401.3" cy="1274.1" r="12.5"/><circle cx="402.4" cy="1206.2" r="12.5"/><circle cx="403.6" cy="1212.2" r="12.5"/><circle cx="404.8" cy="1270.7" r="12.5"/><circle cx="406.0" cy="1309.4" r="12.5"/><circle cx="407.2" cy="1180.6" r="12.5"/><circle cx="408.4" cy="1214.1" r="12.5"/><circle cx="409.6" cy="1244.3" r="12.5"/><circle cx="410.8" cy="1252.3" r="12.5"/><circle cx="411.9" cy="1296.6" r="12.5"/><circle cx="413.1" cy="1213.0" r="12.5"/><circle cx="414.3" cy="1315.2" r="12.5"/><circle cx="415.5" cy="1191.1" r="12.5"/><circle cx="416.7" cy="1223.4" r="12.5"/><circle cx="417.9" cy="1204.9" r="12.5"/><circle cx="419.1" cy="1357.7" r="12.5"/><circle cx="420.3" cy="1328.6" r="12.5"/><circle cx="421.5" cy="1156.1" r="12.5"/><circle cx="422.6" cy="1322.1" r="12.5"/><circle cx="423.8" cy="1345.2" r="12.5"/><circle cx="425.0" cy="1239.7" r="12.5"/><circle cx="426.2" cy="1171.2" r="12.5"/><circle cx="427.4" cy="1326.4" r="12.5"/><circle cx="428.6" cy="1272.8" r="12.5"/><circle cx="429.8" cy="1311.1" r="12.5"/><circle cx="431.0" cy="1383.3" r="12.5"/><circle cx="432.2" cy="1212.0" r="12.5"/><circle cx="433.3" cy="1268.4" r="12.5"/><circle cx="434.5" cy="1261.5" r="12.5"/><circle cx="435.7" cy="1256.1" r="12.5"/><circle cx="436.9" cy="1254.5" r="12.5"/><circle cx="438.1" cy="1193.6" r="12.5"/><circle cx="439.3" cy="1271.5" r="12.5"/><circle cx="440.5" cy="1255.2" r="12.5"/><circle cx="441.7" cy="1339.5" r="12.5"/><circle cx="442.8" cy="1159.7" r="12.5"/><circle cx="444.0" cy="1286.4" r="12.5"/><circle cx="445.2" cy="1278.2" r="12.5"/><circle cx="446.4" cy="1218.2" r="12.5"/><circle cx="447.6" cy="1304.2" r="12.5"/><circle cx="448.8" cy="1091.4" r="12.5"/><circle cx="450.0" cy="1152.0" r="12.5"/><circle cx="451.2" cy="1288.3" r="12.5"/><circle cx="452.4" cy="1262.0" r="12.5"/><circle cx="453.5" cy="1327.4" r="12.5"/><circle cx="454.7" cy="1173.1" r="12.5"/><circle cx="455.9" cy="1170.9" r="12.5"/><circle cx="457.1" cy="1222.0" r="12.5"/><circle cx="458.3" cy="1226.5" r="12.5"/><circle cx="459.5" cy="1387.1" r="12.5"/><circle cx="460.7" cy="1172.5" r="12.5"/><circle cx="461.9" cy="1237.9" r="12.5"/><circle cx="463.0" cy="1346.1" r="12.5"/><circle cx="464.2" cy="1319.8" r="12.5"/><circle cx="465.4" cy="1288.8" r="12.5"/><circle cx="466.6" cy="1258.0" r="12.5"/><circle cx="467.8" cy="1302.7" r="12.5"/><circle cx="469.0" cy="1367.1" r="12.5"/><circle cx="470.2" cy="1233.2" r="12.5"/><circle cx="471.4" cy="1380.5" r="12.5"/><circle cx="472.6" cy="1192.3" r="12.5"/><circle cx="473.7" cy="1211.7" r="12.5"/><circle cx="474.9" cy="1276.9" r="12.5"/><circle cx="476.1" cy="1170.1" r="12.5"/><circle cx="477.3" cy="1210.1" r="12.5"/><circle cx="478.5" cy="1320.2" r="12.5"/><circle cx="479.7" cy="1356.6" r="12.5"/><circle cx="480.9" cy="1230.7" r="12.5"/><circle cx="482.1" cy="1279.6" r="12.5"/><circle cx="483.2" cy="1266.9" r="12.5"/><circle cx="484.4" cy="1185.9" r="12.5"/><circle cx="485.6" cy="1335.8" r="12.5"/><circle cx="486.8" cy="1317.9" r="12.5"/><circle cx="488.0" cy="1189.2" r="12.5"/><circle cx="489.2" cy="1242.7" r="12.5"/><circle cx="490.4" cy="1235.6" r="12.5"/><circle cx="491.6" cy="1239.1" r="12.5"/><circle cx="492.8" cy="1227.3" r="12.5"/><circle cx="493.9" cy="1372.1" r="12.5"/><circle cx="495.1" cy="1260.3" r="12.5"/><circle cx="496.3" cy="1324.0" r="12.5"/><circle cx="497.5" cy="1377.2" r="12.5"/><circle cx="498.7" cy="1146.4" r="12.5"/><circle cx="499.9" cy="1277.5" r="12.5"/><circle cx="501.1" cy="1207.9" r="12.5"/><circle cx="502.3" cy="1279.5" r="12.5"/><circle cx="503.4" cy="1299.7" r="12.5"/><circle cx="504.6" cy="1311.7" r="12.5"/><circle cx="505.8" cy="1347.5" r="12.5"/><circle cx="507.0" cy="1282.9" r="12.5"/><circle cx="508.2" cy="1308.0" r="12.5"/><circle cx="509.4" cy="1309.1" r="12.5"/><circle cx="510.6" cy="1203.9" r="12.5"/><circle cx="511.8" cy="1075.1" r="12.5"/><circle cx="513.0" cy="1390.8" r="12.5"/><circle cx="514.1" cy="1203.5" r="12.5"/><circle cx="515.3" cy="1233.3" r="12.5"/><circle cx="516.5" cy="1307.6" r="12.5"/><circle cx="517.7" cy="1388.6" r="12.5"/><circle cx="518.9" cy="1361.3" r="12.5"/><circle cx="520.1" cy="1215.5" r="12.5"/><circle cx="521.3" cy="1302.4" r="12.5"/><circle cx="522.5" cy="1279.7" r="12.5"/><circle cx="523.7" cy="1356.9" r="12.5"/><circle cx="524.8" cy="1247.6" r="12.5"/><circle cx="526.0" cy="1273.5" r="12.5"/><circle cx="527.2" cy="1187.2" r="12.5"/><circle cx="528.4" cy="1319.9" r="12.5"/><circle cx="529.6" cy="1365.0" r="12.5"/><circle cx="530.8" cy="1382.4" r="12.5"/><circle cx="532.0" cy="1323.6" r="12.5"/><circle cx="533.2" cy="1196.7" r="12.5"/><circle cx="534.3" cy="1264.2" r="12.5"/><circle cx="535.5" cy="1305.0" r="12.5"/><circle cx="536.7" cy="1414.6" r="12.5"/><circle cx="537.9" cy="1224.7" r="12.5"/><circle cx="539.1" cy="1300.2" r="12.5"/><circle cx="540.3" cy="1181.0" r="12.5"/><circle cx="541.5" cy="1304.9" r="12.5"/><circle cx="542.7" cy="1271.4" r="12.5"/><circle cx="543.9" cy="1136.8" r="12.5"/><circle cx="545.0" cy="1316.5" r="12.5"/><circle cx="546.2" cy="1256.6" r="12.5"/><circle cx="547.4" cy="1381.4" r="12.5"/><circle cx="548.6" cy="1162.0" r="12.5"/><circle cx="549.8" cy="1152.9" r="12.5"/><circle cx="551.0" cy="1194.8" r="12.5"/><circle cx="552.2" cy="1284.7" r="12.5"/><circle cx="553.4" cy="1201.1" r="12.5"/><circle cx="554.5" cy="1286.5" r="12.5"/><circle cx="555.7" cy="1311.3" r="12.5"/><circle cx="556.9" cy="1118.9" r="12.5"/><circle cx="558.1" cy="1201.4" r="12.5"/><circle cx="559.3" cy="1284.3" r="12.5"/><circle cx="560.5" cy="1139.8" r="12.5"/><circle cx="561.7" cy="1194.5" r="12.5"/><circle cx="562.9" cy="1421.5" r="12.5"/><circle cx="564.1" cy="1264.0" r="12.5"/><circle cx="565.2" cy="1225.4" r="12.5"/><circle cx="566.4" cy="1293.7" r="12.5"/><circle cx="567.6" cy="1337.2" r="12.5"/><circle cx="568.8" cy="1263.2" r="12.5"/><circle cx="570.0" cy="1207.0" r="12.5"/><circle cx="571.2" cy="1204.3" r="12.5"/><circle cx="572.4" cy="1242.5" r="12.5"/><circle cx="573.6" cy="1247.8" r="12.5"/><circle cx="574.7" cy="1198.3" r="12.5"/><circle cx="575.9" cy="1318.4" r="12.5"/><circle cx="577.1" cy="1228.8" r="12.5"/><circle cx="578.3" cy="1320.8" r="12.5"/><circle cx="579.5" cy="1213.1" r="12.5"/><circle cx="580.7" cy="1262.5" r="12.5"/><circle cx="581.9" cy="1273.2" r="12.5"/><circle cx="583.1" cy="1226.8" r="12.5"/><circle cx="584.3" cy="1335.3" r="12.5"/><circle cx="585.4" cy="1254.1" r="12.5"/><circle cx="586.6" cy="1287.9" r="12.5"/><circle cx="587.8" cy="1218.8" r="12.5"/><circle cx="589.0" cy="1236.1" r="12.5"/><circle cx="590.2" cy="1204.4" r="12.5"/><circle cx="591.4" cy="1208.2" r="12.5"/><circle cx="592.6" cy="1230.3" r="12.5"/><circle cx="593.8" cy="1304.6" r="12.5"/><circle cx="595.0" cy="1286.7" r="12.5"/><circle cx="596.1" cy="1184.2" r="12.5"/><circle cx="597.3" cy="1253.9" r="12.5"/><circle cx="598.5" cy="1195.2" r="12.5"/><circle cx="599.7" cy="1295.7" r="12.5"/><circle cx="600.9" cy="1285.8" r="12.5"/><circle cx="602.1" cy="1265.7" r="12.5"/><circle cx="603.3" cy="1148.6" r="12.5"/><circle cx="604.5" cy="1261.1" r="12.5"/><circle cx="605.6" cy="1256.9" r="12.5"/><circle cx="606.8" cy="1239.9" r="12.5"/><circle cx="608.0" cy="1257.8" r="12.5"/><circle cx="609.2" cy="1403.6" r="12.5"/><circle cx="610.4" cy="1287.5" r="12.5"/><circle cx="611.6" cy="1310.1" r="12.5"/><circle cx="612.8" cy="1236.3" r="12.5"/><circle cx="614.0" cy="1324.8" r="12.5"/><circle cx="615.2" cy="1318.7" r="12.5"/><circle cx="616.3" cy="1211.2" r="12.5"/><circle cx="617.5" cy="1207.4" r="12.5"/><circle cx="618.7" cy="1381.1" r="12.5"/><circle cx="619.9" cy="1340.1" r="12.5"/><circle cx="621.1" cy="1157.9" r="12.5"/><circle cx="622.3" cy="1331.0" r="12.5"/><circle cx="623.5" cy="1176.2" r="12.5"/><circle cx="624.7" cy="1122.1" r="12.5"/><circle cx="625.8" cy="1343.0" r="12.5"/><circle cx="627.0" cy="1193.3" r="12.5"/><circle cx="628.2" cy="1298.9" r="12.5"/><circle cx="629.4" cy="1250.2" r="12.5"/><circle cx="630.6" cy="1282.4" r="12.5"/><circle cx="631.8" cy="1297.3" r="12.5"/><circle cx="633.0" cy="1165.3" r="12.5"/><circle cx="634.2" cy="1375.6" r="12.5"/><circle cx="635.4" cy="1118.4" r="12.5"/><circle cx="636.5" cy="1232.5" r="12.5"/><circle cx="637.7" cy="1261.9" r="12.5"/><circle cx="638.9" cy="1354.8" r="12.5"/><circle cx="640.1" cy="1257.5" r="12.5"/><circle cx="641.3" cy="1303.1" r="12.5"/><circle cx="642.5" cy="1302.2" r="12.5"/><circle cx="643.7" cy="1396.8" r="12.5"/><circle cx="644.9" cy="1249.9" r="12.5"/><circle cx="646.0" cy="1222.3" r="12.5"/><circle cx="647.2" cy="1230.8" r="12.5"/><circle cx="648.4" cy="1329.1" r="12.5"/><circle cx="649.6" cy="1326.1" r="12.5"/><circle cx="650.8" cy="1319.2" r="12.5"/><circle cx="652.0" cy="1227.4" r="12.5"/><circle cx="653.2" cy="1220.0" r="12.5"/><circle cx="654.4" cy="1227.8" r="12.5"/><circle cx="655.6" cy="1133.1" r="12.5"/><circle cx="656.7" cy="1308.5" r="12.5"/><circle cx="657.9" cy="1262.7" r="12.5"/><circle cx="659.1" cy="1305.2" r="12.5"/><circle cx="660.3" cy="1294.8" r="12.5"/><circle cx="661.5" cy="1222.7" r="12.5"/><circle cx="662.7" cy="1181.9" r="12.5"/><circle cx="663.9" cy="1295.6" r="12.5"/><circle cx="665.1" cy="1314.0" r="12.5"/><circle cx="666.3" cy="1376.6" r="12.5"/><circle cx="667.4" cy="1267.2" r="12.5"/><circle cx="668.6" cy="1392.4" r="12.5"/><circle cx="669.8" cy="1318.9" r="12.5"/><circle cx="671.0" cy="1247.5" r="12.5"/><circle cx="672.2" cy="1240.4" r="12.5"/><circle cx="673.4" cy="1235.3" r="12.5"/><circle cx="674.6" cy="1405.2" r="12.5"/><circle cx="675.8" cy="1238.8" r="12.5"/><circle cx="676.9" cy="1332.2" r="12.5"/><circle cx="678.1" cy="1279.0" r="12.5"/><circle cx="679.3" cy="1155.7" r="12.5"/><circle cx="680.5" cy="1277.9" r="12.5"/><circle cx="681.7" cy="1320.0" r="12.5"/><circle cx="682.9" cy="1244.4" r="12.5"/><circle cx="684.1" cy="1243.8" r="12.5"/><circle cx="685.3" cy="1310.2" r="12.5"/><circle cx="686.5" cy="1325.2" r="12.5"/><circle cx="687.6" cy="1220.6" r="12.5"/><circle cx="688.8" cy="1306.3" r="12.5"/><circle cx="690.0" cy="1231.0" r="12.5"/><circle cx="691.2" cy="1222.5" r="12.5"/><circle cx="692.4" cy="1228.0" r="12.5"/><circle cx="693.6" cy="1340.8" r="12.5"/><circle cx="694.8" cy="1237.4" r="12.5"/><circle cx="696.0" cy="1298.5" r="12.5"/><circle cx="697.1" cy="1288.4" r="12.5"/><circle cx="698.3" cy="1262.1" r="12.5"/><circle cx="699.5" cy="1341.5" r="12.5"/><circle cx="700.7" cy="1241.3" r="12.5"/><circle cx="701.9" cy="1224.3" r="12.5"/><circle cx="703.1" cy="1242.3" r="12.5"/><circle cx="704.3" cy="1239.0" r="12.5"/><circle cx="705.5" cy="1191.6" r="12.5"/><circle cx="706.7" cy="1282.1" r="12.5"/><circle cx="707.8" cy="1339.2" r="12.5"/><circle cx="709.0" cy="1209.9" r="12.5"/><circle cx="710.2" cy="1277.2" r="12.5"/><circle cx="711.4" cy="1250.5" r="12.5"/><circle cx="712.6" cy="1237.8" r="12.5"/><circle cx="713.8" cy="1241.4" r="12.5"/><circle cx="715.0" cy="1335.0" r="12.5"/><circle cx="716.2" cy="1311.5" r="12.5"/><circle cx="717.3" cy="1158.1" r="12.5"/><circle cx="718.5" cy="1188.6" r="12.5"/><circle cx="719.7" cy="1388.0" r="12.5"/><circle cx="720.9" cy="1253.1" r="12.5"/><circle cx="722.1" cy="1242.0" r="12.5"/><circle cx="723.3" cy="1299.1" r="12.5"/><circle cx="724.5" cy="1405.7" r="12.5"/><circle cx="725.7" cy="1354.5" r="12.5"/><circle cx="726.9" cy="1406.2" r="12.5"/><circle cx="728.0" cy="1192.7" r="12.5"/><circle cx="729.2" cy="1349.9" r="12.5"/><circle cx="730.4" cy="1095.7" r="12.5"/><circle cx="731.6" cy="1388.3" r="12.5"/><circle cx="732.8" cy="1323.2" r="12.5"/><circle cx="734.0" cy="1229.4" r="12.5"/><circle cx="735.2" cy="1287.4" r="12.5"/><circle cx="736.4" cy="1288.1" r="12.5"/><circle cx="737.5" cy="1417.3" r="12.5"/><circle cx="738.7" cy="1246.1" r="12.5"/><circle cx="739.9" cy="1297.8" r="12.5"/><circle cx="741.1" cy="1322.9" r="12.5"/><circle cx="742.3" cy="1362.6" r="12.5"/><circle cx="743.5" cy="1247.0" r="12.5"/><circle cx="744.7" cy="1246.0" r="12.5"/><circle cx="745.9" cy="1299.8" r="12.5"/><circle cx="747.1" cy="1319.0" r="12.5"/><circle cx="748.2" cy="1238.3" r="12.5"/><circle cx="749.4" cy="1314.5" r="12.5"/><circle cx="750.6" cy="1305.9" r="12.5"/><circle cx="751.8" cy="1164.0" r="12.5"/><circle cx="753.0" cy="1218.7" r="12.5"/><circle cx="754.2" cy="1317.4" r="12.5"/><circle cx="755.4" cy="1266.5" r="12.5"/><circle cx="756.6" cy="1364.0" r="12.5"/><circle cx="757.8" cy="1307.7" r="12.5"/><circle cx="758.9" cy="1240.7" r="12.5"/><circle cx="760.1" cy="1393.9" r="12.5"/><circle cx="761.3" cy="1235.1" r="12.5"/><circle cx="762.5" cy="1279.4" r="12.5"/><circle cx="763.7" cy="1256.3" r="12.5"/><circle cx="764.9" cy="1295.5" r="12.5"/><circle cx="766.1" cy="1363.4" r="12.5"/><circle cx="767.3" cy="1261.2" r="12.5"/><circle cx="768.4" cy="1272.0" r="12.5"/><circle cx="769.6" cy="1270.1" r="12.5"/><circle cx="770.8" cy="1332.7" r="12.5"/><circle cx="772.0" cy="1241.2" r="12.5"/><circle cx="773.2" cy="1301.1" r="12.5"/><circle cx="774.4" cy="1174.4" r="12.5"/><circle cx="775.6" cy="1208.9" r="12.5"/><circle cx="776.8" cy="1329.7" r="12.5"/><circle cx="778.0" cy="1442.4" r="12.5"/><circle cx="779.1" cy="1258.1" r="12.5"/><circle cx="780.3" cy="1181.2" r="12.5"/><circle cx="781.5" cy="1307.4" r="12.5"/><circle cx="782.7" cy="1274.6" r="12.5"/><circle cx="783.9" cy="1193.8" r="12.5"/><circle cx="785.1" cy="1154.4" r="12.5"/><circle cx="786.3" cy="1309.3" r="12.5"/><circle cx="787.5" cy="1296.4" r="12.5"/><circle cx="788.6" cy="1264.5" r="12.5"/><circle cx="789.8" cy="1331.7" r="12.5"/><circle cx="791.0" cy="1297.6" r="12.5"/><circle cx="792.2" cy="1293.9" r="12.5"/><circle cx="793.4" cy="1282.2" r="12.5"/><circle cx="794.6" cy="1293.6" r="12.5"/><circle cx="795.8" cy="1355.8" r="12.5"/><circle cx="797.0" cy="1236.0" r="12.5"/><circle cx="798.2" cy="1384.6" r="12.5"/><circle cx="799.3" cy="1351.8" r="12.5"/><circle cx="800.5" cy="1333.4" r="12.5"/><circle cx="801.7" cy="1192.6" r="12.5"/><circle cx="802.9" cy="1358.2" r="12.5"/><circle cx="804.1" cy="1300.6" r="12.5"/><circle cx="805.3" cy="1295.9" r="12.5"/><circle cx="806.5" cy="1253.2" r="12.5"/><circle cx="807.7" cy="1323.3" r="12.5"/><circle cx="808.8" cy="1215.0" r="12.5"/><circle cx="810.0" cy="1313.3" r="12.5"/><circle cx="811.2" cy="1239.3" r="12.5"/><circle cx="812.4" cy="1300.8" r="12.5"/><circle cx="813.6" cy="1352.1" r="12.5"/><circle cx="814.8" cy="1169.6" r="12.5"/><circle cx="816.0" cy="1164.7" r="12.5"/><circle cx="817.2" cy="1263.5" r="12.5"/><circle cx="818.4" cy="1373.7" r="12.5"/><circle cx="819.5" cy="1156.3" r="12.5"/><circle cx="820.7" cy="1203.0" r="12.5"/><circle cx="821.9" cy="1392.1" r="12.5"/><circle cx="823.1" cy="1271.9" r="12.5"/><circle cx="824.3" cy="1274.5" r="12.5"/><circle cx="825.5" cy="1179.7" r="12.5"/><circle cx="826.7" cy="1257.3" r="12.5"/><circle cx="827.9" cy="1261.3" r="12.5"/><circle cx="829.1" cy="1375.0" r="12.5"/><circle cx="830.2" cy="1320.9" r="12.5"/><circle cx="831.4" cy="1250.0" r="12.5"/><circle cx="832.6" cy="1128.9" r="12.5"/><circle cx="833.8" cy="1371.4" r="12.5"/><circle cx="835.0" cy="1307.2" r="12.5"/><circle cx="836.2" cy="1272.6" r="12.5"/><circle cx="837.4" cy="1334.5" r="12.5"/><circle cx="838.6" cy="1311.2" r="12.5"/><circle cx="839.7" cy="1250.6" r="12.5"/><circle cx="840.9" cy="1292.4" r="12.5"/><circle cx="842.1" cy="1342.4" r="12.5"/><circle cx="843.3" cy="1338.1" r="12.5"/><circle cx="844.5" cy="1244.0" r="12.5"/><circle cx="845.7" cy="1226.1" r="12.5"/><circle cx="846.9" cy="1204.2" r="12.5"/><circle cx="848.1" cy="1218.4" r="12.5"/><circle cx="849.3" cy="1275.5" r="12.5"/><circle cx="850.4" cy="1263.3" r="12.5"/><circle cx="851.6" cy="1244.9" r="12.5"/><circle cx="852.8" cy="1327.1" r="12.5"/><circle cx="854.0" cy="1244.1" r="12.5"/><circle cx="855.2" cy="1287.3" r="12.5"/><circle cx="856.4" cy="1217.7" r="12.5"/><circle cx="857.6" cy="1271.0" r="12.5"/><circle cx="858.8" cy="1232.3" r="12.5"/><circle cx="859.9" cy="1309.9" r="12.5"/><circle cx="861.1" cy="1312.7" r="12.5"/><circle cx="862.3" cy="1273.0" r="12.5"/><circle cx="863.5" cy="1275.1" r="12.5"/><circle cx="864.7" cy="1310.0" r="12.5"/><circle cx="865.9" cy="1299.6" r="12.5"/><circle cx="867.1" cy="1162.4" r="12.5"/><circle cx="868.3" cy="1343.9" r="12.5"/><circle cx="869.5" cy="1301.6" r="12.5"/><circle cx="870.6" cy="1206.8" r="12.5"/><circle cx="871.8" cy="1170.5" r="12.5"/><circle cx="873.0" cy="1270.9" r="12.5"/><circle cx="874.2" cy="1347.7" r="12.5"/><circle cx="875.4" cy="1236.6" r="12.5"/><circle cx="876.6" cy="1247.1" r="12.5"/><circle cx="877.8" cy="1231.3" r="12.5"/><circle cx="879.0" cy="1314.9" r="12.5"/><circle cx="880.1" cy="1308.8" r="12.5"/><circle cx="881.3" cy="1349.5" r="12.5"/><circle cx="882.5" cy="1248.8" r="12.5"/><circle cx="883.7" cy="1087.6" r="12.5"/><circle cx="884.9" cy="1248.1" r="12.5"/><circle cx="886.1" cy="1265.6" r="12.5"/><circle cx="887.3" cy="1252.7" r="12.5"/><circle cx="888.5" cy="1245.0" r="12.5"/><circle cx="889.7" cy="1235.5" r="12.5"/><circle cx="890.8" cy="1176.6" r="12.5"/><circle cx="892.0" cy="1130.3" r="12.5"/><circle cx="893.2" cy="1325.4" r="12.5"/><circle cx="894.4" cy="1232.4" r="12.5"/><circle cx="895.6" cy="1217.0" r="12.5"/><circle cx="896.8" cy="1294.6" r="12.5"/><circle cx="898.0" cy="1205.8" r="12.5"/><circle cx="899.2" cy="1244.6" r="12.5"/><circle cx="900.4" cy="1277.3" r="12.5"/><circle cx="901.5" cy="1279.2" r="12.5"/><circle cx="902.7" cy="1203.6" r="12.5"/><circle cx="903.9" cy="1276.2" r="12.5"/><circle cx="905.1" cy="1357.9" r="12.5"/><circle cx="906.3" cy="1283.2" r="12.5"/><circle cx="907.5" cy="1210.4" r="12.5"/><circle cx="908.7" cy="1283.0" r="12.5"/><circle cx="909.9" cy="1286.8" r="12.5"/><circle cx="911.0" cy="1336.3" r="12.5"/><circle cx="912.2" cy="1235.8" r="12.5"/><circle cx="913.4" cy="1306.4" r="12.5"/><circle cx="914.6" cy="1357.2" r="12.5"/><circle cx="915.8" cy="1122.9" r="12.5"/><circle cx="917.0" cy="1367.4" r="12.5"/><circle cx="918.2" cy="1355.5" r="12.5"/><circle cx="919.4" cy="1346.3" r="12.5"/><circle cx="920.6" cy="1187.5" r="12.5"/><circle cx="921.7" cy="1246.9" r="12.5"/><circle cx="922.9" cy="1252.0" r="12.5"/><circle cx="924.1" cy="1204.5" r="12.5"/><circle cx="925.3" cy="1161.9" r="12.5"/><circle cx="926.5" cy="1269.1" r="12.5"/><circle cx="927.7" cy="1284.4" r="12.5"/><circle cx="928.9" cy="1359.2" r="12.5"/><circle cx="930.1" cy="1269.2" r="12.5"/><circle cx="931.2" cy="1230.4" r="12.5"/><circle cx="932.4" cy="1173.3" r="12.5"/><circle cx="933.6" cy="1290.7" r="12.5"/><circle cx="934.8" cy="1206.7" r="12.5"/><circle cx="936.0" cy="1296.7" r="12.5"/><circle cx="937.2" cy="1309.0" r="12.5"/><circle cx="938.4" cy="1272.1" r="12.5"/><circle cx="939.6" cy="1300.7" r="12.5"/><circle cx="940.8" cy="1253.3" r="12.5"/><circle cx="941.9" cy="1226.6" r="12.5"/><circle cx="943.1" cy="1325.3" r="12.5"/><circle cx="944.3" cy="1353.2" r="12.5"/><circle cx="945.5" cy="1394.5" r="12.5"/><circle cx="946.7" cy="1389.3" r="12.5"/><circle cx="947.9" cy="1227.1" r="12.5"/><circle cx="949.1" cy="1288.7" r="12.5"/><circle cx="950.3" cy="1235.0" r="12.5"/><circle cx="951.4" cy="1397.9" r="12.5"/><circle cx="952.6" cy="1130.0" r="12.5"/><circle cx="953.8" cy="1303.5" r="12.5"/><circle cx="955.0" cy="1351.6" r="12.5"/><circle cx="956.2" cy="1371.1" r="12.5"/><circle cx="957.4" cy="1164.9" r="12.5"/><circle cx="958.6" cy="1237.2" r="12.5"/><circle cx="959.8" cy="1206.4" r="12.5"/><circle cx="961.0" cy="1275.8" r="12.5"/><circle cx="962.1" cy="1186.4" r="12.5"/><circle cx="963.3" cy="1219.3" r="12.5"/><circle cx="964.5" cy="1393.3" r="12.5"/><circle cx="965.7" cy="1295.8" r="12.5"/><circle cx="966.9" cy="1257.6" r="12.5"/><circle cx="968.1" cy="1323.4" r="12.5"/><circle cx="969.3" cy="1279.9" r="12.5"/><circle cx="970.5" cy="1251.8" r="12.5"/><circle cx="971.6" cy="1304.3" r="12.5"/><circle cx="972.8" cy="1283.1" r="12.5"/><circle cx="974.0" cy="1182.8" r="12.5"/><circle cx="975.2" cy="1361.1" r="12.5"/><circle cx="976.4" cy="1289.5" r="12.5"/><circle cx="977.6" cy="1175.1" r="12.5"/><circle cx="978.8" cy="1226.4" r="12.5"/><circle cx="980.0" cy="1343.3" r="12.5"/><circle cx="981.2" cy="1369.5" r="12.5"/><circle cx="982.3" cy="1267.4" r="12.5"/><circle cx="983.5" cy="1216.9" r="12.5"/><circle cx="984.7" cy="1370.8" r="12.5"/><circle cx="985.9" cy="1163.3" r="12.5"/><circle cx="987.1" cy="1366.3" r="12.5"/><circle cx="988.3" cy="1305.3" r="12.5"/><circle cx="989.5" cy="1251.3" r="12.5"/><circle cx="990.7" cy="1176.0" r="12.5"/><circle cx="991.9" cy="1234.6" r="12.5"/><circle cx="993.0" cy="1336.7" r="12.5"/><circle cx="994.2" cy="1324.9" r="12.5"/><circle cx="995.4" cy="1185.5" r="12.5"/><circle cx="996.6" cy="1355.2" r="12.5"/><circle cx="997.8" cy="1314.2" r="12.5"/><circle cx="999.0" cy="1318.2" r="12.5"/><circle cx="1000.2" cy="1258.2" r="12.5"/><circle cx="1001.4" cy="1203.7" r="12.5"/><circle cx="1002.5" cy="1299.9" r="12.5"/><circle cx="1003.7" cy="1157.1" r="12.5"/><circle cx="1004.9" cy="1218.3" r="12.5"/><circle cx="1006.1" cy="1225.9" r="12.5"/><circle cx="1007.3" cy="1294.3" r="12.5"/><circle cx="1008.5" cy="1190.2" r="12.5"/><circle cx="1009.7" cy="1167.8" r="12.5"/><circle cx="1010.9" cy="1230.6" r="12.5"/><circle cx="1012.1" cy="1081.0" r="12.5"/><circle cx="1013.2" cy="1149.0" r="12.5"/><circle cx="1014.4" cy="1314.1" r="12.5"/><circle cx="1015.6" cy="1238.5" r="12.5"/><circle cx="1016.8" cy="1232.5" r="12.5"/><circle cx="1018.0" cy="1207.2" r="12.5"/><circle cx="1019.2" cy="1343.7" r="12.5"/><circle cx="1020.4" cy="1326.9" r="12.5"/><circle cx="1021.6" cy="1259.8" r="12.5"/><circle cx="1022.7" cy="1109.8" r="12.5"/><circle cx="1023.9" cy="1208.8" r="12.5"/><circle cx="1025.1" cy="1314.6" r="12.5"/><circle cx="1026.3" cy="1303.0" r="12.5"/><circle cx="1027.5" cy="1213.2" r="12.5"/><circle cx="1028.7" cy="1267.8" r="12.5"/><circle cx="1029.9" cy="1305.2" r="12.5"/><circle cx="1031.1" cy="1211.0" r="12.5"/><circle cx="1032.3" cy="1171.6" r="12.5"/><circle cx="1033.4" cy="1253.7" r="12.5"/><circle cx="1034.6" cy="1245.5" r="12.5"/><circle cx="1035.8" cy="1287.8" r="12.5"/><circle cx="1037.0" cy="1116.6" r="12.5"/><circle cx="1038.2" cy="1139.5" r="12.5"/><circle cx="1039.4" cy="1212.7" r="12.5"/><circle cx="1040.6" cy="1200.3" r="12.5"/><circle cx="1041.8" cy="1068.6" r="12.5"/><circle cx="1042.9" cy="1242.6" r="12.5"/><circle cx="1044.1" cy="1227.9" r="12.5"/><circle cx="1045.3" cy="1233.9" r="12.5"/><circle cx="1046.5" cy="1059.4" r="12.5"/><circle cx="1047.7" cy="1206.5" r="12.5"/><circle cx="1048.9" cy="1156.7" r="12.5"/><circle cx="1050.1" cy="1161.7" r="12.5"/><circle cx="1051.3" cy="1191.3" r="12.5"/><circle cx="1052.5" cy="1125.4" r="12.5"/><circle cx="1053.6" cy="1153.1" r="12.5"/><circle cx="1054.8" cy="1167.2" r="12.5"/><circle cx="1056.0" cy="1253.5" r="12.5"/><circle cx="1057.2" cy="1245.2" r="12.5"/><circle cx="1058.4" cy="1151.8" r="12.5"/><circle cx="1059.6" cy="1109.2" r="12.5"/><circle cx="1060.8" cy="1189.9" r="12.5"/><circle cx="1062.0" cy="1214.2" r="12.5"/><circle cx="1063.2" cy="1193.2" r="12.5"/><circle cx="1064.3" cy="1137.8" r="12.5"/><circle cx="1065.5" cy="1233.6" r="12.5"/><circle cx="1066.7" cy="1194.2" r="12.5"/><circle cx="1067.9" cy="1106.7" r="12.5"/><circle cx="1069.1" cy="1159.0" r="12.5"/><circle cx="1070.3" cy="1118.0" r="12.5"/><circle cx="1071.5" cy="1036.3" r="12.5"/><circle cx="1072.7" cy="1106.1" r="12.5"/><circle cx="1073.8" cy="1105.4" r="12.5"/><circle cx="1075.0" cy="1177.0" r="12.5"/><circle cx="1076.2" cy="1168.9" r="12.5"/><circle cx="1077.4" cy="1259.3" r="12.5"/><circle cx="1078.6" cy="1127.1" r="12.5"/><circle cx="1079.8" cy="1241.5" r="12.5"/><circle cx="1081.0" cy="1115.7" r="12.5"/><circle cx="1082.2" cy="1085.9" r="12.5"/><circle cx="1083.4" cy="1166.9" r="12.5"/><circle cx="1084.5" cy="1224.6" r="12.5"/><circle cx="1085.7" cy="1117.5" r="12.5"/><circle cx="1086.9" cy="1221.8" r="12.5"/><circle cx="1088.1" cy="1113.4" r="12.5"/><circle cx="1089.3" cy="1240.8" r="12.5"/><circle cx="1090.5" cy="1219.5" r="12.5"/><circle cx="1091.7" cy="1404.7" r="12.5"/><circle cx="1092.9" cy="1119.3" r="12.5"/><circle cx="1094.0" cy="1242.4" r="12.5"/><circle cx="1095.2" cy="1102.9" r="12.5"/><circle cx="1096.4" cy="1186.6" r="12.5"/><circle cx="1097.6" cy="1144.1" r="12.5"/><circle cx="1098.8" cy="1378.2" r="12.5"/><circle cx="1100.0" cy="1238.2" r="12.5"/><circle cx="1101.2" cy="1232.9" r="12.5"/><circle cx="1102.4" cy="1202.1" r="12.5"/><circle cx="1103.6" cy="1259.2" r="12.5"/><circle cx="1104.7" cy="1289.8" r="12.5"/><circle cx="1105.9" cy="1133.5" r="12.5"/><circle cx="1107.1" cy="1223.5" r="12.5"/><circle cx="1108.3" cy="1145.1" r="12.5"/><circle cx="1109.5" cy="1197.3" r="12.5"/><circle cx="1110.7" cy="1202.3" r="12.5"/><circle cx="1111.9" cy="1234.4" r="12.5"/><circle cx="1113.1" cy="1201.7" r="12.5"/><circle cx="1114.2" cy="1322.6" r="12.5"/><circle cx="1115.4" cy="1371.8" r="12.5"/><circle cx="1116.6" cy="1277.7" r="12.5"/><circle cx="1117.8" cy="1186.2" r="12.5"/><circle cx="1119.0" cy="1146.2" r="12.5"/><circle cx="1120.2" cy="1278.7" r="12.5"/><circle cx="1121.4" cy="1235.4" r="12.5"/><circle cx="1122.6" cy="1353.9" r="12.5"/><circle cx="1123.8" cy="1292.1" r="12.5"/><circle cx="1124.9" cy="1262.6" r="12.5"/><circle cx="1126.1" cy="1346.4" r="12.5"/><circle cx="1127.3" cy="1322.8" r="12.5"/><circle cx="1128.5" cy="1244.8" r="12.5"/><circle cx="1129.7" cy="1311.8" r="12.5"/><circle cx="1130.9" cy="1294.0" r="12.5"/><circle cx="1132.1" cy="1286.2" r="12.5"/><circle cx="1133.3" cy="1217.5" r="12.5"/><circle cx="1134.5" cy="1147.3" r="12.5"/><circle cx="1135.6" cy="1268.8" r="12.5"/><circle cx="1136.8" cy="1248.2" r="12.5"/><circle cx="1138.0" cy="1225.6" r="12.5"/><circle cx="1139.2" cy="1230.5" r="12.5"/><circle cx="1140.4" cy="1228.3" r="12.5"/><circle cx="1141.6" cy="1293.1" r="12.5"/><circle cx="1142.8" cy="1246.3" r="12.5"/><circle cx="1144.0" cy="1267.5" r="12.5"/><circle cx="1145.1" cy="1243.9" r="12.5"/><circle cx="1146.3" cy="1211.1" r="12.5"/><circle cx="1147.5" cy="1349.2" r="12.5"/><circle cx="1148.7" cy="1328.1" r="12.5"/><circle cx="1149.9" cy="1197.8" r="12.5"/><circle cx="1151.1" cy="1168.3" r="12.5"/><circle cx="1152.3" cy="1276.1" r="12.5"/><circle cx="1153.5" cy="1296.0" r="12.5"/><circle cx="1154.7" cy="1294.9" r="12.5"/><circle cx="1155.8" cy="1193.5" r="12.5"/><circle cx="1157.0" cy="1296.5" r="12.5"/><circle cx="1158.2" cy="1160.8" r="12.5"/><circle cx="1159.4" cy="1349.4" r="12.5"/><circle cx="1160.6" cy="1303.7" r="12.5"/><circle cx="1161.8" cy="1312.0" r="12.5"/><circle cx="1163.0" cy="1324.6" r="12.5"/><circle cx="1164.2" cy="1241.9" r="12.5"/><circle cx="1165.3" cy="1389.6" r="12.5"/><circle cx="1166.5" cy="1360.6" r="12.5"/><circle cx="1167.7" cy="1276.7" r="12.5"/><circle cx="1168.9" cy="1274.0" r="12.5"/><circle cx="1170.1" cy="1245.6" r="12.5"/><circle cx="1171.3" cy="1216.5" r="12.5"/><circle cx="1172.5" cy="1230.0" r="12.5"/><circle cx="1173.7" cy="1138.1" r="12.5"/><circle cx="1174.9" cy="1213.7" r="12.5"/><circle cx="1176.0" cy="1316.9" r="12.5"/><circle cx="1177.2" cy="1333.7" r="12.5"/><circle cx="1178.4" cy="1229.1" r="12.5"/><circle cx="1179.6" cy="1303.8" r="12.5"/><circle cx="1180.8" cy="1248.7" r="12.5"/><circle cx="1182.0" cy="1310.8" r="12.5"/><circle cx="1183.2" cy="1365.8" r="12.5"/><circle cx="1184.4" cy="1231.5" r="12.5"/><circle cx="1185.5" cy="1303.2" r="12.5"/><circle cx="1186.7" cy="1214.0" r="12.5"/><circle cx="1187.9" cy="1295.1" r="12.5"/><circle cx="1189.1" cy="1270.5" r="12.5"/><circle cx="1190.3" cy="1297.1" r="12.5"/><circle cx="1191.5" cy="1236.9" r="12.5"/><circle cx="1192.7" cy="1279.8" r="12.5"/><circle cx="1193.9" cy="1098.7" r="12.5"/><circle cx="1195.1" cy="1303.3" r="12.5"/><circle cx="1196.2" cy="1351.1" r="12.5"/><circle cx="1197.4" cy="1243.0" r="12.5"/><circle cx="1198.6" cy="1327.3" r="12.5"/><circle cx="1199.8" cy="1246.2" r="12.5"/><circle cx="1201.0" cy="1369.2" r="12.5"/><circle cx="1202.2" cy="1171.1" r="12.5"/><circle cx="1203.4" cy="1287.0" r="12.5"/><circle cx="1204.6" cy="1310.6" r="12.5"/><circle cx="1205.7" cy="1519.3" r="12.5"/><circle cx="1206.9" cy="1251.1" r="12.5"/><circle cx="1208.1" cy="1323.8" r="12.5"/><circle cx="1209.3" cy="1377.6" r="12.5"/><circle cx="1210.5" cy="1348.4" r="12.5"/><circle cx="1211.7" cy="1393.0" r="12.5"/><circle cx="1212.9" cy="1245.3" r="12.5"/><circle cx="1214.1" cy="1404.2" r="12.5"/><circle cx="1215.3" cy="1244.2" r="12.5"/><circle cx="1216.4" cy="1234.2" r="12.5"/><circle cx="1217.6" cy="1163.1" r="12.5"/><circle cx="1218.8" cy="1300.4" r="12.5"/><circle cx="1220.0" cy="1281.7" r="12.5"/><circle cx="1221.2" cy="1293.4" r="12.5"/><circle cx="1222.4" cy="1112.5" r="12.5"/><circle cx="1223.6" cy="1234.8" r="12.5"/><circle cx="1224.8" cy="1306.9" r="12.5"/><circle cx="1226.0" cy="1200.5" r="12.5"/><circle cx="1227.1" cy="1247.3" r="12.5"/><circle cx="1228.3" cy="1258.6" r="12.5"/><circle cx="1229.5" cy="1147.1" r="12.5"/><circle cx="1230.7" cy="1357.6" r="12.5"/><circle cx="1231.9" cy="1337.4" r="12.5"/><circle cx="1233.1" cy="1252.6" r="12.5"/><circle cx="1234.3" cy="1192.1" r="12.5"/><circle cx="1235.5" cy="1324.2" r="12.5"/><circle cx="1236.6" cy="1382.1" r="12.5"/><circle cx="1237.8" cy="1326.8" r="12.5"/><circle cx="1239.0" cy="1225.0" r="12.5"/><circle cx="1240.2" cy="1146.0" r="12.5"/><circle cx="1241.4" cy="1251.7" r="12.5"/><circle cx="1242.6" cy="1339.4" r="12.5"/><circle cx="1243.8" cy="1245.8" r="12.5"/><circle cx="1245.0" cy="1354.3" r="12.5"/><circle cx="1246.2" cy="1312.1" r="12.5"/><circle cx="1247.3" cy="1261.0" r="12.5"/><circle cx="1248.5" cy="1161.5" r="12.5"/><circle cx="1249.7" cy="1300.5" r="12.5"/><circle cx="1250.9" cy="1156.9" r="12.5"/><circle cx="1252.1" cy="1379.8" r="12.5"/><circle cx="1253.3" cy="1216.4" r="12.5"/><circle cx="1254.5" cy="1344.6" r="12.5"/><circle cx="1255.7" cy="1367.9" r="12.5"/><circle cx="1256.8" cy="1150.1" r="12.5"/><circle cx="1258.0" cy="1325.6" r="12.5"/><circle cx="1259.2" cy="1374.3" r="12.5"/><circle cx="1260.4" cy="1288.6" r="12.5"/><circle cx="1261.6" cy="1161.0" r="12.5"/><circle cx="1262.8" cy="1155.2" r="12.5"/><circle cx="1264.0" cy="1309.7" r="12.5"/><circle cx="1265.2" cy="1260.2" r="12.5"/><circle cx="1266.4" cy="1128.2" r="12.5"/><circle cx="1267.5" cy="1231.6" r="12.5"/><circle cx="1268.7" cy="1233.1" r="12.5"/><circle cx="1269.9" cy="1208.0" r="12.5"/><circle cx="1271.1" cy="1267.0" r="12.5"/><circle cx="1272.3" cy="1253.0" r="12.5"/><circle cx="1273.5" cy="1359.0" r="12.5"/><circle cx="1274.7" cy="1282.8" r="12.5"/><circle cx="1275.9" cy="1185.2" r="12.5"/><circle cx="1277.0" cy="1287.6" r="12.5"/><circle cx="1278.2" cy="1309.5" r="12.5"/><circle cx="1279.4" cy="1281.5" r="12.5"/><circle cx="1280.6" cy="1243.6" r="12.5"/><circle cx="1281.8" cy="1383.0" r="12.5"/><circle cx="1283.0" cy="1308.2" r="12.5"/><circle cx="1284.2" cy="1139.1" r="12.5"/><circle cx="1285.4" cy="1207.7" r="12.5"/><circle cx="1286.6" cy="1365.3" r="12.5"/><circle cx="1287.7" cy="1210.6" r="12.5"/><circle cx="1288.9" cy="1233.4" r="12.5"/><circle cx="1290.1" cy="1231.7" r="12.5"/><circle cx="1291.3" cy="1311.6" r="12.5"/><circle cx="1292.5" cy="1313.7" r="12.5"/><circle cx="1293.7" cy="1201.6" r="12.5"/><circle cx="1294.9" cy="1079.4" r="12.5"/><circle cx="1296.1" cy="1223.0" r="12.5"/><circle cx="1297.3" cy="1240.5" r="12.5"/><circle cx="1298.4" cy="1195.7" r="12.5"/><circle cx="1299.6" cy="1254.3" r="12.5"/><circle cx="1300.8" cy="1198.4" r="12.5"/><circle cx="1302.0" cy="1224.4" r="12.5"/><circle cx="1303.2" cy="1262.4" r="12.5"/><circle cx="1304.4" cy="1124.3" r="12.5"/><circle cx="1305.6" cy="1149.2" r="12.5"/><circle cx="1306.8" cy="1290.0" r="12.5"/><circle cx="1307.9" cy="1223.2" r="12.5"/><circle cx="1309.1" cy="1269.3" r="12.5"/><circle cx="1310.3" cy="1280.1" r="12.5"/><circle cx="1311.5" cy="1231.8" r="12.5"/><circle cx="1312.7" cy="1376.9" r="12.5"/><circle cx="1313.9" cy="1213.6" r="12.5"/><circle cx="1315.1" cy="1255.8" r="12.5"/><circle cx="1316.3" cy="1249.3" r="12.5"/><circle cx="1317.5" cy="1229.9" r="12.5"/><circle cx="1318.6" cy="1305.6" r="12.5"/><circle cx="1319.8" cy="1391.7" r="12.5"/><circle cx="1321.0" cy="1298.0" r="12.5"/><circle cx="1322.2" cy="1330.9" r="12.5"/><circle cx="1323.4" cy="1275.7" r="12.5"/><circle cx="1324.6" cy="1292.3" r="12.5"/><circle cx="1325.8" cy="1250.8" r="12.5"/><circle cx="1327.0" cy="1194.9" r="12.5"/><circle cx="1328.1" cy="1310.5" r="12.5"/><circle cx="1329.3" cy="1239.2" r="12.5"/><circle cx="1330.5" cy="1319.5" r="12.5"/><circle cx="1331.7" cy="1264.8" r="12.5"/><circle cx="1332.9" cy="1260.7" r="12.5"/><circle cx="1334.1" cy="1054.3" r="12.5"/><circle cx="1335.3" cy="1252.8" r="12.5"/><circle cx="1336.5" cy="1202.8" r="12.5"/><circle cx="1337.7" cy="1320.4" r="12.5"/><circle cx="1338.8" cy="1192.9" r="12.5"/><circle cx="1340.0" cy="1328.4" r="12.5"/><circle cx="1341.2" cy="1224.8" r="12.5"/><circle cx="1342.4" cy="1101.7" r="12.5"/><circle cx="1343.6" cy="1221.1" r="12.5"/><circle cx="1344.8" cy="1300.0" r="12.5"/><circle cx="1346.0" cy="1269.7" r="12.5"/><circle cx="1347.2" cy="1207.6" r="12.5"/><circle cx="1348.3" cy="1203.1" r="12.5"/><circle cx="1349.5" cy="1317.8" r="12.5"/><circle cx="1350.7" cy="1232.1" r="12.5"/><circle cx="1351.9" cy="1154.8" r="12.5"/><circle cx="1353.1" cy="1314.4" r="12.5"/><circle cx="1354.3" cy="1214.7" r="12.5"/><circle cx="1355.5" cy="1232.6" r="12.5"/><circle cx="1356.7" cy="1321.8" r="12.5"/><circle cx="1357.9" cy="1264.3" r="12.5"/><circle cx="1359.0" cy="1280.3" r="12.5"/><circle cx="1360.2" cy="1209.7" r="12.5"/><circle cx="1361.4" cy="1260.8" r="12.5"/><circle cx="1362.6" cy="1344.3" r="12.5"/><circle cx="1363.8" cy="1266.1" r="12.5"/><circle cx="1365.0" cy="1225.1" r="12.5"/><circle cx="1366.2" cy="1325.5" r="12.5"/><circle cx="1367.4" cy="1174.6" r="12.5"/><circle cx="1368.6" cy="1247.9" r="12.5"/><circle cx="1369.7" cy="1238.9" r="12.5"/><circle cx="1370.9" cy="1395.6" r="12.5"/><circle cx="1372.1" cy="1258.5" r="12.5"/><circle cx="1373.3" cy="1516.7" r="12.5"/><circle cx="1374.5" cy="1289.3" r="12.5"/><circle cx="1375.7" cy="1213.5" r="12.5"/><circle cx="1376.9" cy="1331.5" r="12.5"/><circle cx="1378.1" cy="1384.3" r="12.5"/><circle cx="1379.2" cy="1156.5" r="12.5"/><circle cx="1380.4" cy="1293.0" r="12.5"/><circle cx="1381.6" cy="1317.0" r="12.5"/><circle cx="1382.8" cy="1282.3" r="12.5"/><circle cx="1384.0" cy="1260.0" r="12.5"/><circle cx="1385.2" cy="1285.9" r="12.5"/><circle cx="1386.4" cy="1327.9" r="12.5"/><circle cx="1387.6" cy="1194.3" r="12.5"/><circle cx="1388.8" cy="1401.3" r="12.5"/><circle cx="1389.9" cy="1244.5" r="12.5"/><circle cx="1391.1" cy="1330.4" r="12.5"/><circle cx="1392.3" cy="1124.7" r="12.5"/><circle cx="1393.5" cy="1259.7" r="12.5"/><circle cx="1394.7" cy="1278.6" r="12.5"/><circle cx="1395.9" cy="1267.7" r="12.5"/><circle cx="1397.1" cy="1342.8" r="12.5"/><circle cx="1398.3" cy="1364.7" r="12.5"/><circle cx="1399.4" cy="1356.0" r="12.5"/><circle cx="1400.6" cy="1328.7" r="12.5"/><circle cx="1401.8" cy="1368.7" r="12.5"/><circle cx="1403.0" cy="1160.3" r="12.5"/><circle cx="1404.2" cy="1362.4" r="12.5"/><circle cx="1405.4" cy="1340.3" r="12.5"/><circle cx="1406.6" cy="1320.1" r="12.5"/><circle cx="1407.8" cy="1354.7" r="12.5"/><circle cx="1409.0" cy="1317.7" r="12.5"/><circle cx="1410.1" cy="1210.3" r="12.5"/><circle cx="1411.3" cy="1352.9" r="12.5"/><circle cx="1412.5" cy="1275.4" r="12.5"/><circle cx="1413.7" cy="1316.8" r="12.5"/><circle cx="1414.9" cy="1292.2" r="12.5"/><circle cx="1416.1" cy="1332.4" r="12.5"/><circle cx="1417.3" cy="1168.5" r="12.5"/><circle cx="1418.5" cy="1260.5" r="12.5"/><circle cx="1419.6" cy="1234.7" r="12.5"/><circle cx="1420.8" cy="1274.2" r="12.5"/><circle cx="1422.0" cy="1177.5" r="12.5"/><circle cx="1423.2" cy="1299.0" r="12.5"/><circle cx="1424.4" cy="1278.5" r="12.5"/><circle cx="1425.6" cy="1141.8" r="12.5"/><circle cx="1426.8" cy="1268.6" r="12.5"/><circle cx="1428.0" cy="1181.3" r="12.5"/><circle cx="1429.2" cy="1258.8" r="12.5"/><circle cx="1430.3" cy="1380.1" r="12.5"/><circle cx="1431.5" cy="1259.9" r="12.5"/><circle cx="1432.7" cy="1304.7" r="12.5"/><circle cx="1433.9" cy="1261.6" r="12.5"/><circle cx="1435.1" cy="1205.5" r="12.5"/><circle cx="1436.3" cy="1229.6" r="12.5"/><circle cx="1437.5" cy="1343.5" r="12.5"/><circle cx="1438.7" cy="1228.9" r="12.5"/><circle cx="1439.8" cy="1278.4" r="12.5"/><circle cx="1441.0" cy="1114.8" r="12.5"/><circle cx="1442.2" cy="1265.3" r="12.5"/><circle cx="1443.4" cy="1274.9" r="12.5"/><circle cx="1444.6" cy="1172.9" r="12.5"/><circle cx="1445.8" cy="1132.1" r="12.5"/><circle cx="1447.0" cy="1246.5" r="12.5"/><circle cx="1448.2" cy="1269.5" r="12.5"/><circle cx="1449.4" cy="1266.2" r="12.5"/><circle cx="1450.5" cy="1317.5" r="12.5"/><circle cx="1451.7" cy="1348.1" r="12.5"/><circle cx="1452.9" cy="1148.8" r="12.5"/><circle cx="1454.1" cy="1290.5" r="12.5"/><circle cx="1455.3" cy="1216.3" r="12.5"/><circle cx="1456.5" cy="1390.2" r="12.5"/><circle cx="1457.7" cy="1280.0" r="12.5"/><circle cx="1458.9" cy="1286.6" r="12.5"/><circle cx="1460.1" cy="1292.8" r="12.5"/><circle cx="1461.2" cy="1237.5" r="12.5"/><circle cx="1462.4" cy="1166.1" r="12.5"/><circle cx="1463.6" cy="1311.0" r="12.5"/><circle cx="1464.8" cy="1249.7" r="12.5"/><circle cx="1466.0" cy="1204.6" r="12.5"/><circle cx="1467.2" cy="1283.4" r="12.5"/><circle cx="1468.4" cy="1355.0" r="12.5"/><circle cx="1469.6" cy="1265.9" r="12.5"/><circle cx="1470.7" cy="1475.7" r="12.5"/><circle cx="1471.9" cy="1195.9" r="12.5"/><circle cx="1473.1" cy="1415.6" r="12.5"/><circle cx="1474.3" cy="1301.0" r="12.5"/><circle cx="1475.5" cy="1288.0" r="12.5"/><circle cx="1476.7" cy="1273.7" r="12.5"/><circle cx="1477.9" cy="1293.2" r="12.5"/><circle cx="1479.1" cy="1212.5" r="12.5"/><circle cx="1480.3" cy="1252.4" r="12.5"/><circle cx="1481.4" cy="1270.0" r="12.5"/><circle cx="1482.6" cy="1149.4" r="12.5"/><circle cx="1483.8" cy="1209.4" r="12.5"/><circle cx="1485.0" cy="1250.1" r="12.5"/><circle cx="1486.2" cy="1310.3" r="12.5"/><circle cx="1487.4" cy="1357.1" r="12.5"/><circle cx="1488.6" cy="1243.3" r="12.5"/><circle cx="1489.8" cy="1400.2" r="12.5"/><circle cx="1490.9" cy="1228.4" r="12.5"/><circle cx="1492.1" cy="1229.3" r="12.5"/><circle cx="1493.3" cy="1301.5" r="12.5"/><circle cx="1494.5" cy="1297.0" r="12.5"/><circle cx="1495.7" cy="1189.3" r="12.5"/><circle cx="1496.9" cy="1337.7" r="12.5"/><circle cx="1498.1" cy="1355.3" r="12.5"/><circle cx="1499.3" cy="1410.9" r="12.5"/><circle cx="1500.5" cy="1209.0" r="12.5"/><circle cx="1501.6" cy="1241.7" r="12.5"/><circle cx="1502.8" cy="1255.3" r="12.5"/><circle cx="1504.0" cy="1205.2" r="12.5"/><circle cx="1505.2" cy="1330.1" r="12.5"/><circle cx="1506.4" cy="1386.4" r="12.5"/><circle cx="1507.6" cy="1225.7" r="12.5"/><circle cx="1508.8" cy="1320.7" r="12.5"/><circle cx="1510.0" cy="1410.4" r="12.5"/><circle cx="1511.1" cy="1408.0" r="12.5"/><circle cx="1512.3" cy="1296.8" r="12.5"/><circle cx="1513.5" cy="1386.1" r="12.5"/><circle cx="1514.7" cy="1114.3" r="12.5"/><circle cx="1515.9" cy="1344.4" r="12.5"/><circle cx="1517.1" cy="1312.8" r="12.5"/><circle cx="1518.3" cy="1289.7" r="12.5"/><circle cx="1519.5" cy="1363.7" r="12.5"/><circle cx="1520.7" cy="1313.0" r="12.5"/><circle cx="1521.8" cy="1305.8" r="12.5"/><circle cx="1523.0" cy="1243.7" r="12.5"/><circle cx="1524.2" cy="1252.2" r="12.5"/><circle cx="1525.4" cy="1370.5" r="12.5"/><circle cx="1526.6" cy="1276.8" r="12.5"/><circle cx="1527.8" cy="1293.5" r="12.5"/><circle cx="1529.0" cy="1280.9" r="12.5"/><circle cx="1530.2" cy="1302.8" r="12.5"/><circle cx="1531.4" cy="1257.7" r="12.5"/><circle cx="1532.5" cy="1226.9" r="12.5"/><circle cx="1533.7" cy="1273.6" r="12.5"/><circle cx="1534.9" cy="1256.0" r="12.5"/><circle cx="1536.1" cy="1312.3" r="12.5"/><circle cx="1537.3" cy="1131.4" r="12.5"/><circle cx="1538.5" cy="1206.9" r="12.5"/><circle cx="1539.7" cy="1254.4" r="12.5"/><circle cx="1540.9" cy="1293.8" r="12.5"/><circle cx="1542.0" cy="1138.8" r="12.5"/><circle cx="1543.2" cy="1245.9" r="12.5"/><circle cx="1544.4" cy="1205.1" r="12.5"/><circle cx="1545.6" cy="1240.0" r="12.5"/><circle cx="1546.8" cy="1228.7" r="12.5"/><circle cx="1548.0" cy="1279.3" r="12.5"/><circle cx="1549.2" cy="1263.4" r="12.5"/><circle cx="1550.4" cy="1183.9" r="12.5"/><circle cx="1551.6" cy="1149.9" r="12.5"/><circle cx="1552.7" cy="1254.0" r="12.5"/><circle cx="1553.9" cy="1350.5" r="12.5"/><circle cx="1555.1" cy="1216.0" r="12.5"/><circle cx="1556.3" cy="1377.9" r="12.5"/><circle cx="1557.5" cy="1302.1" r="12.5"/><circle cx="1558.7" cy="1236.4" r="12.5"/><circle cx="1559.9" cy="1313.2" r="12.5"/><circle cx="1561.1" cy="1291.1" r="12.5"/><circle cx="1562.2" cy="1248.4" r="12.5"/><circle cx="1563.4" cy="1339.0" r="12.5"/><circle cx="1564.6" cy="1273.9" r="12.5"/><circle cx="1565.8" cy="1356.4" r="12.5"/><circle cx="1567.0" cy="1303.6" r="12.5"/><circle cx="1568.2" cy="1277.4" r="12.5"/><circle cx="1569.4" cy="1191.0" r="12.5"/><circle cx="1570.6" cy="1210.2" r="12.5"/><circle cx="1571.8" cy="1255.1" r="12.5"/><circle cx="1572.9" cy="1323.1" r="12.5"/><circle cx="1574.1" cy="1179.2" r="12.5"/><circle cx="1575.3" cy="1206.0" r="12.5"/><circle cx="1576.5" cy="1267.9" r="12.5"/><circle cx="1577.7" cy="1153.7" r="12.5"/><circle cx="1578.9" cy="1339.9" r="12.5"/><circle cx="1580.1" cy="1391.1" r="12.5"/><circle cx="1581.3" cy="1207.5" r="12.5"/><circle cx="1582.4" cy="1399.0" r="12.5"/><circle cx="1583.6" cy="1222.1" r="12.5"/><circle cx="1584.8" cy="1162.9" r="12.5"/><circle cx="1586.0" cy="1281.4" r="12.5"/><circle cx="1587.2" cy="1385.8" r="12.5"/><circle cx="1588.4" cy="1358.0" r="12.5"/><circle cx="1589.6" cy="1201.5" r="12.5"/><circle cx="1590.8" cy="1255.4" r="12.5"/><circle cx="1592.0" cy="1298.7" r="12.5"/><circle cx="1593.1" cy="1233.5" r="12.5"/><circle cx="1594.3" cy="1183.0" r="12.5"/><circle cx="1595.5" cy="1123.6" r="12.5"/><circle cx="1596.7" cy="1291.0" r="12.5"/><circle cx="1597.9" cy="1312.4" r="12.5"/><circle cx="1599.1" cy="1317.1" r="12.5"/><circle cx="1600.3" cy="1321.0" r="12.5"/><circle cx="1601.5" cy="1368.2" r="12.5"/><circle cx="1602.7" cy="1264.7" r="12.5"/><circle cx="1603.8" cy="1360.3" r="12.5"/><circle cx="1605.0" cy="1268.5" r="12.5"/><circle cx="1606.2" cy="1313.6" r="12.5"/><circle cx="1607.4" cy="1209.1" r="12.5"/><circle cx="1608.6" cy="1341.2" r="12.5"/><circle cx="1609.8" cy="1308.1" r="12.5"/><circle cx="1611.0" cy="1301.8" r="12.5"/><circle cx="1612.2" cy="1185.7" r="12.5"/><circle cx="1613.3" cy="1153.3" r="12.5"/><circle cx="1614.5" cy="1239.4" r="12.5"/><circle cx="1615.7" cy="1272.5" r="12.5"/><circle cx="1616.9" cy="1260.1" r="12.5"/><circle cx="1618.1" cy="1250.7" r="12.5"/><circle cx="1619.3" cy="1157.2" r="12.5"/><circle cx="1620.5" cy="1159.6" r="12.5"/><circle cx="1621.7" cy="1276.3" r="12.5"/><circle cx="1622.9" cy="1469.3" r="12.5"/><circle cx="1624.0" cy="1169.2" r="12.5"/><circle cx="1625.2" cy="1230.9" r="12.5"/><circle cx="1626.4" cy="1301.2" r="12.5"/><circle cx="1627.6" cy="1234.5" r="12.5"/><circle cx="1628.8" cy="1402.5" r="12.5"/><circle cx="1630.0" cy="1382.7" r="12.5"/><circle cx="1631.2" cy="1125.7" r="12.5"/><circle cx="1632.4" cy="1390.5" r="12.5"/><circle cx="1633.5" cy="1352.3" r="12.5"/><circle cx="1634.7" cy="1274.4" r="12.5"/><circle cx="1635.9" cy="1322.5" r="12.5"/><circle cx="1637.1" cy="1321.6" r="12.5"/><circle cx="1638.3" cy="1183.3" r="12.5"/><circle cx="1639.5" cy="1302.6" r="12.5"/><circle cx="1640.7" cy="1292.7" r="12.5"/><circle cx="1641.9" cy="1302.9" r="12.5"/><circle cx="1643.1" cy="1255.0" r="12.5"/><circle cx="1644.2" cy="1318.6" r="12.5"/><circle cx="1645.4" cy="1344.1" r="12.5"/><circle cx="1646.6" cy="1196.1" r="12.5"/><circle cx="1647.8" cy="1201.2" r="12.5"/><circle cx="1649.0" cy="1266.7" r="12.5"/><circle cx="1650.2" cy="1361.9" r="12.5"/><circle cx="1651.4" cy="1221.5" r="12.5"/><circle cx="1652.6" cy="1178.2" r="12.5"/><circle cx="1653.7" cy="1197.7" r="12.5"/><circle cx="1654.9" cy="1175.3" r="12.5"/><circle cx="1656.1" cy="1271.3" r="12.5"/><circle cx="1657.3" cy="1190.4" r="12.5"/><circle cx="1658.5" cy="1346.8" r="12.5"/><circle cx="1659.7" cy="1243.5" r="12.5"/><circle cx="1660.9" cy="1175.7" r="12.5"/><circle cx="1662.1" cy="1202.7" r="12.5"/><circle cx="1663.3" cy="1151.6" r="12.5"/><circle cx="1664.4" cy="1180.4" r="12.5"/><circle cx="1665.6" cy="1151.2" r="12.5"/><circle cx="1666.8" cy="1202.9" r="12.5"/><circle cx="1668.0" cy="1171.4" r="12.5"/><circle cx="1669.2" cy="1093.8" r="12.5"/><circle cx="1670.4" cy="1212.8" r="12.5"/><circle cx="1671.6" cy="1189.0" r="12.5"/><circle cx="1672.8" cy="1268.0" r="12.5"/><circle cx="1673.9" cy="1035.0" r="12.5"/><circle cx="1675.1" cy="1223.3" r="12.5"/><circle cx="1676.3" cy="1113.9" r="12.5"/><circle cx="1677.5" cy="1136.5" r="12.5"/><circle cx="1678.7" cy="1228.1" r="12.5"/><circle cx="1679.9" cy="1220.9" r="12.5"/><circle cx="1681.1" cy="1262.2" r="12.5"/><circle cx="1682.3" cy="1197.1" r="12.5"/><circle cx="1683.5" cy="1144.8" r="12.5"/><circle cx="1684.6" cy="1246.8" r="12.5"/><circle cx="1685.8" cy="1116.2" r="12.5"/><circle cx="1687.0" cy="1184.8" r="12.5"/><circle cx="1688.2" cy="1104.8" r="12.5"/><circle cx="1689.4" cy="1136.2" r="12.5"/><circle cx="1690.6" cy="1194.6" r="12.5"/><circle cx="1691.8" cy="1266.3" r="12.5"/><circle cx="1693.0" cy="1155.5" r="12.5"/><circle cx="1694.2" cy="1185.0" r="12.5"/><circle cx="1695.3" cy="1221.6" r="12.5"/><circle cx="1696.5" cy="1177.9" r="12.5"/><circle cx="1697.7" cy="1205.9" r="12.5"/><circle cx="1698.9" cy="1122.5" r="12.5"/><circle cx="1700.1" cy="1199.0" r="12.5"/><circle cx="1701.3" cy="1082.6" r="12.5"/><circle cx="1702.5" cy="1225.2" r="12.5"/><circle cx="1703.7" cy="1226.0" r="12.5"/><circle cx="1704.8" cy="1167.4" r="12.5"/><circle cx="1706.0" cy="1175.9" r="12.5"/><circle cx="1707.2" cy="1104.2" r="12.5"/><circle cx="1708.4" cy="1142.8" r="12.5"/><circle cx="1709.6" cy="1245.7" r="12.5"/><circle cx="1710.8" cy="1142.5" r="12.5"/><circle cx="1712.0" cy="1154.0" r="12.5"/><circle cx="1713.2" cy="1251.5" r="12.5"/><circle cx="1714.4" cy="1172.4" r="12.5"/><circle cx="1715.5" cy="1145.5" r="12.5"/><circle cx="1716.7" cy="1197.6" r="12.5"/><circle cx="1717.9" cy="1157.6" r="12.5"/><circle cx="1719.1" cy="1149.6" r="12.5"/><circle cx="1720.3" cy="1163.8" r="12.5"/><circle cx="1721.5" cy="1157.4" r="12.5"/><circle cx="1722.7" cy="1134.5" r="12.5"/><circle cx="1723.9" cy="1119.8" r="12.5"/><circle cx="1725.0" cy="1166.3" r="12.5"/><circle cx="1726.2" cy="1294.7" r="12.5"/><circle cx="1727.4" cy="1121.2" r="12.5"/><circle cx="1728.6" cy="1185.3" r="12.5"/><circle cx="1729.8" cy="1277.0" r="12.5"/><circle cx="1731.0" cy="1161.2" r="12.5"/><circle cx="1732.2" cy="1035.0" r="12.5"/><circle cx="1733.4" cy="1297.2" r="12.5"/><circle cx="1734.6" cy="1173.5" r="12.5"/><circle cx="1735.7" cy="1164.4" r="12.5"/><circle cx="1736.9" cy="1239.8" r="12.5"/><circle cx="1738.1" cy="1129.6" r="12.5"/><circle cx="1739.3" cy="1130.7" r="12.5"/><circle cx="1740.5" cy="1251.4" r="12.5"/><circle cx="1741.7" cy="1120.7" r="12.5"/><circle cx="1742.9" cy="1200.8" r="12.5"/><circle cx="1744.1" cy="1101.0" r="12.5"/><circle cx="1745.2" cy="1134.8" r="12.5"/><circle cx="1746.4" cy="1108.6" r="12.5"/><circle cx="1747.6" cy="1190.5" r="12.5"/><circle cx="1748.8" cy="1240.2" r="12.5"/><circle cx="1750.0" cy="1142.1" r="12.5"/><circle cx="1751.2" cy="1111.6" r="12.5"/><circle cx="1752.4" cy="1165.1" r="12.5"/><circle cx="1753.6" cy="1178.4" r="12.5"/><circle cx="1754.8" cy="1301.4" r="12.5"/><circle cx="1755.9" cy="1186.8" r="12.5"/><circle cx="1757.1" cy="1190.8" r="12.5"/><circle cx="1758.3" cy="1158.3" r="12.5"/><circle cx="1759.5" cy="1089.9" r="12.5"/><circle cx="1760.7" cy="1247.7" r="12.5"/><circle cx="1761.9" cy="1260.4" r="12.5"/><circle cx="1763.1" cy="1102.3" r="12.5"/><circle cx="1764.3" cy="1228.6" r="12.5"/><circle cx="1765.5" cy="1346.6" r="12.5"/><circle cx="1766.6" cy="1224.9" r="12.5"/><circle cx="1767.8" cy="1295.4" r="12.5"/><circle cx="1769.0" cy="1158.7" r="12.5"/><circle cx="1770.2" cy="1202.2" r="12.5"/><circle cx="1771.4" cy="1199.6" r="12.5"/><circle cx="1772.6" cy="1173.8" r="12.5"/><circle cx="1773.8" cy="1147.9" r="12.5"/><circle cx="1775.0" cy="1129.3" r="12.5"/><circle cx="1776.1" cy="1234.9" r="12.5"/><circle cx="1777.3" cy="1162.6" r="12.5"/><circle cx="1778.5" cy="1167.9" r="12.5"/><circle cx="1779.7" cy="1062.1" r="12.5"/><circle cx="1780.9" cy="1179.3" r="12.5"/><circle cx="1782.1" cy="1184.1" r="12.5"/><circle cx="1783.3" cy="1067.3" r="12.5"/><circle cx="1784.5" cy="1269.9" r="12.5"/><circle cx="1785.7" cy="1176.8" r="12.5"/><circle cx="1786.8" cy="1200.0" r="12.5"/><circle cx="1788.0" cy="1132.8" r="12.5"/><circle cx="1789.2" cy="1141.5" r="12.5"/><circle cx="1790.4" cy="1169.4" r="12.5"/><circle cx="1791.6" cy="1162.2" r="12.5"/><circle cx="1792.8" cy="1278.9" r="12.5"/><circle cx="1794.0" cy="1120.3" r="12.5"/><circle cx="1795.2" cy="1241.6" r="12.5"/><circle cx="1796.3" cy="1126.8" r="12.5"/><circle cx="1797.5" cy="1157.8" r="12.5"/><circle cx="1798.7" cy="1282.5" r="12.5"/><circle cx="1799.9" cy="1230.1" r="12.5"/><circle cx="1801.1" cy="1107.3" r="12.5"/><circle cx="1802.3" cy="1171.8" r="12.5"/><circle cx="1803.5" cy="1144.4" r="12.5"/><circle cx="1804.7" cy="1127.5" r="12.5"/><circle cx="1805.9" cy="1240.1" r="12.5"/><circle cx="1807.0" cy="1066.0" r="12.5"/><circle cx="1808.2" cy="1077.8" r="12.5"/><circle cx="1809.4" cy="1219.2" r="12.5"/><circle cx="1810.6" cy="1094.8" r="12.5"/><circle cx="1811.8" cy="1306.6" r="12.5"/><circle cx="1813.0" cy="1092.8" r="12.5"/><circle cx="1814.2" cy="1345.9" r="12.5"/><circle cx="1815.4" cy="1167.0" r="12.5"/><circle cx="1816.5" cy="1123.2" r="12.5"/><circle cx="1817.7" cy="1160.1" r="12.5"/><circle cx="1818.9" cy="1234.2" r="12.5"/><circle cx="1820.1" cy="1100.4" r="12.5"/><circle cx="1821.3" cy="1329.2" r="12.5"/><circle cx="1822.5" cy="1242.2" r="12.5"/><circle cx="1823.7" cy="1170.0" r="12.5"/><circle cx="1824.9" cy="1135.2" r="12.5"/><circle cx="1826.1" cy="1146.8" r="12.5"/><circle cx="1827.2" cy="1143.4" r="12.5"/><circle cx="1828.4" cy="1227.5" r="12.5"/><circle cx="1829.6" cy="1261.4" r="12.5"/><circle cx="1830.8" cy="1076.4" r="12.5"/><circle cx="1832.0" cy="1152.7" r="12.5"/><circle cx="1833.2" cy="1128.5" r="12.5"/><circle cx="1834.4" cy="1182.3" r="12.5"/><circle cx="1835.6" cy="1154.2" r="12.5"/><circle cx="1836.8" cy="1155.9" r="12.5"/><circle cx="1837.9" cy="1089.0" r="12.5"/><circle cx="1839.1" cy="1215.6" r="12.5"/><circle cx="1840.3" cy="1163.5" r="12.5"/><circle cx="1841.5" cy="1113.0" r="12.5"/><circle cx="1842.7" cy="1205.0" r="12.5"/><circle cx="1843.9" cy="1284.5" r="12.5"/><circle cx="1845.1" cy="1278.0" r="12.5"/><circle cx="1846.3" cy="1069.9" r="12.5"/><circle cx="1847.4" cy="1223.9" r="12.5"/><circle cx="1848.6" cy="1140.8" r="12.5"/><circle cx="1849.8" cy="1147.5" r="12.5"/><circle cx="1851.0" cy="1187.9" r="12.5"/><circle cx="1852.2" cy="1270.3" r="12.5"/><circle cx="1853.4" cy="1254.2" r="12.5"/><circle cx="1854.6" cy="1137.2" r="12.5"/><circle cx="1855.8" cy="1172.2" r="12.5"/><circle cx="1857.0" cy="1221.0" r="12.5"/><circle cx="1858.1" cy="1220.7" r="12.5"/><circle cx="1859.3" cy="1170.3" r="12.5"/><circle cx="1860.5" cy="1181.5" r="12.5"/><circle cx="1861.7" cy="1229.7" r="12.5"/><circle cx="1862.9" cy="1090.9" r="12.5"/><circle cx="1864.1" cy="1158.5" r="12.5"/><circle cx="1865.3" cy="1315.5" r="12.5"/><circle cx="1866.5" cy="1127.8" r="12.5"/><circle cx="1867.6" cy="1084.2" r="12.5"/><circle cx="1868.8" cy="1223.8" r="12.5"/><circle cx="1870.0" cy="1237.0" r="12.5"/><circle cx="1871.2" cy="1198.1" r="12.5"/><circle cx="1872.4" cy="1162.8" r="12.5"/><circle cx="1873.6" cy="1072.5" r="12.5"/><circle cx="1874.8" cy="1349.0" r="12.5"/><circle cx="1876.0" cy="1058.1" r="12.5"/><circle cx="1877.2" cy="1269.6" r="12.5"/><circle cx="1878.3" cy="1195.5" r="12.5"/><circle cx="1879.5" cy="1097.7" r="12.5"/><circle cx="1880.7" cy="1166.5" r="12.5"/><circle cx="1881.9" cy="1199.2" r="12.5"/><circle cx="1883.1" cy="1229.0" r="12.5"/><circle cx="1884.3" cy="1111.1" r="12.5"/><circle cx="1885.5" cy="1258.9" r="12.5"/><circle cx="1886.7" cy="1021.0" r="12.5"/><circle cx="1887.8" cy="1096.7" r="12.5"/><circle cx="1889.0" cy="1217.9" r="12.5"/><circle cx="1890.2" cy="1099.6" r="12.5"/><circle cx="1891.4" cy="1222.4" r="12.5"/><circle cx="1892.6" cy="1174.2" r="12.5"/><circle cx="1893.8" cy="1112.1" r="12.5"/><circle cx="1895.0" cy="1159.4" r="12.5"/><circle cx="1896.2" cy="1182.4" r="12.5"/><circle cx="1897.4" cy="1219.8" r="12.5"/><circle cx="1898.5" cy="1115.2" r="12.5"/><circle cx="1899.7" cy="1291.8" r="12.5"/><circle cx="1900.9" cy="1177.3" r="12.5"/><circle cx="1902.1" cy="1121.6" r="12.5"/><circle cx="1903.3" cy="1179.9" r="12.5"/><circle cx="1904.5" cy="1209.8" r="12.5"/><circle cx="1905.7" cy="1191.7" r="12.5"/><circle cx="1906.9" cy="1071.2" r="12.5"/><circle cx="1908.0" cy="1117.1" r="12.5"/><circle cx="1909.2" cy="1223.7" r="12.5"/><circle cx="1910.4" cy="1132.4" r="12.5"/><circle cx="1911.6" cy="1152.2" r="12.5"/><circle cx="1912.8" cy="1239.6" r="12.5"/><circle cx="1914.0" cy="1198.0" r="12.5"/><circle cx="1915.2" cy="1141.1" r="12.5"/><circle cx="1916.4" cy="1234.0" r="12.5"/><circle cx="1917.6" cy="1205.7" r="12.5"/><circle cx="1918.7" cy="1183.2" r="12.5"/><circle cx="1919.9" cy="1164.2" r="12.5"/><circle cx="1921.1" cy="1240.3" r="12.5"/><circle cx="1922.3" cy="1135.5" r="12.5"/><circle cx="1923.5" cy="1384.9" r="12.5"/><circle cx="1924.7" cy="1324.4" r="12.5"/><circle cx="1925.9" cy="1351.3" r="12.5"/><circle cx="1927.1" cy="1138.5" r="12.5"/><circle cx="1928.3" cy="1134.2" r="12.5"/><circle cx="1929.4" cy="1312.2" r="12.5"/><circle cx="1930.6" cy="1397.3" r="12.5"/><circle cx="1931.8" cy="1210.5" r="12.5"/><circle cx="1933.0" cy="1249.8" r="12.5"/><circle cx="1934.2" cy="1248.0" r="12.5"/><circle cx="1935.4" cy="1280.8" r="12.5"/><circle cx="1936.6" cy="1322.2" r="12.5"/><circle cx="1937.8" cy="1231.4" r="12.5"/><circle cx="1938.9" cy="1329.9" r="12.5"/><circle cx="1940.1" cy="1283.6" r="12.5"/><circle cx="1941.3" cy="1392.7" r="12.5"/><circle cx="1942.5" cy="1345.0" r="12.5"/><circle cx="1943.7" cy="1387.7" r="12.5"/><circle cx="1944.9" cy="1195.4" r="12.5"/><circle cx="1946.1" cy="1276.6" r="12.5"/><circle cx="1947.3" cy="1224.5" r="12.5"/><circle cx="1948.5" cy="1182.6" r="12.5"/><circle cx="1949.6" cy="1353.4" r="12.5"/><circle cx="1950.8" cy="1315.9" r="12.5"/><circle cx="1952.0" cy="1379.5" r="12.5"/><circle cx="1953.2" cy="1215.1" r="12.5"/><circle cx="1954.4" cy="1151.4" r="12.5"/><circle cx="1955.6" cy="1285.0" r="12.5"/><circle cx="1956.8" cy="1238.1" r="12.5"/><circle cx="1958.0" cy="1276.0" r="12.5"/><circle cx="1959.1" cy="1408.5" r="12.5"/><circle cx="1960.3" cy="1230.2" r="12.5"/><circle cx="1961.5" cy="1309.8" r="12.5"/><circle cx="1962.7" cy="1416.3" r="12.5"/><circle cx="1963.9" cy="1208.7" r="12.5"/><circle cx="1965.1" cy="1188.1" r="12.5"/><circle cx="1966.3" cy="1180.8" r="12.5"/><circle cx="1967.5" cy="1308.9" r="12.5"/><circle cx="1968.7" cy="1250.9" r="12.5"/><circle cx="1969.8" cy="1064.5" r="12.5"/><circle cx="1971.0" cy="1304.8" r="12.5"/><circle cx="1972.2" cy="1309.6" r="12.5"/><circle cx="1973.4" cy="1187.0" r="12.5"/><circle cx="1974.6" cy="1334.3" r="12.5"/><circle cx="1975.8" cy="1216.7" r="12.5"/><circle cx="1977.0" cy="1238.0" r="12.5"/><circle cx="1978.2" cy="1103.5" r="12.5"/><circle cx="1979.3" cy="1295.0" r="12.5"/><circle cx="1980.5" cy="1265.4" r="12.5"/><circle cx="1981.7" cy="1285.3" r="12.5"/><circle cx="1982.9" cy="1355.6" r="12.5"/><circle cx="1984.1" cy="1154.6" r="12.5"/><circle cx="1985.3" cy="1351.5" r="12.5"/><circle cx="1986.5" cy="1236.2" r="12.5"/><circle cx="1987.7" cy="1274.7" r="12.5"/><circle cx="1988.9" cy="1349.7" r="12.5"/><circle cx="1990.0" cy="1293.3" r="12.5"/><circle cx="1991.2" cy="1347.3" r="12.5"/><circle cx="1992.4" cy="1306.8" r="12.5"/><circle cx="1993.6" cy="1225.8" r="12.5"/><circle cx="1994.8" cy="1216.1" r="12.5"/><circle cx="1996.0" cy="1314.7" r="12.5"/><circle cx="1997.2" cy="1323.9" r="12.5"/><circle cx="1998.4" cy="1302.0" r="12.5"/><circle cx="1999.6" cy="1211.8" r="12.5"/><circle cx="2000.7" cy="1237.3" r="12.5"/><circle cx="2001.9" cy="1172.7" r="12.5"/><circle cx="2003.1" cy="1318.1" r="12.5"/><circle cx="2004.3" cy="1322.3" r="12.5"/><circle cx="2005.5" cy="1255.6" r="12.5"/><circle cx="2006.7" cy="1249.1" r="12.5"/><circle cx="2007.9" cy="1409.0" r="12.5"/><circle cx="2009.1" cy="1257.4" r="12.5"/><circle cx="2010.2" cy="1334.7" r="12.5"/><circle cx="2011.4" cy="1350.3" r="12.5"/><circle cx="2012.6" cy="1244.7" r="12.5"/><circle cx="2013.8" cy="1319.1" r="12.5"/><circle cx="2015.0" cy="1256.8" r="12.5"/><circle cx="2016.2" cy="1374.7" r="12.5"/><circle cx="2017.4" cy="1225.3" r="12.5"/><circle cx="2018.6" cy="1292.0" r="12.5"/><circle cx="2019.8" cy="1204.0" r="12.5"/><circle cx="2020.9" cy="1229.5" r="12.5"/><circle cx="2022.1" cy="1259.6" r="12.5"/><circle cx="2023.3" cy="1342.3" r="12.5"/><circle cx="2024.5" cy="1271.6" r="12.5"/><circle cx="2025.7" cy="1175.5" r="12.5"/><circle cx="2026.9" cy="1415.1" r="12.5"/><circle cx="2028.1" cy="1319.3" r="12.5"/><circle cx="2029.3" cy="1275.3" r="12.5"/><circle cx="2030.4" cy="1347.0" r="12.5"/><circle cx="2031.6" cy="1203.4" r="12.5"/><circle cx="2032.8" cy="1303.9" r="12.5"/><circle cx="2034.0" cy="1281.3" r="12.5"/><circle cx="2035.2" cy="1196.4" r="12.5"/><circle cx="2036.4" cy="1290.2" r="12.5"/><circle cx="2037.6" cy="1306.0" r="12.5"/><circle cx="2038.8" cy="1267.6" r="12.5"/><circle cx="2040.0" cy="1219.0" r="12.5"/><circle cx="2041.1" cy="1217.8" r="12.5"/><circle cx="2042.3" cy="1264.1" r="12.5"/><circle cx="2043.5" cy="1348.7" r="12.5"/><circle cx="2044.7" cy="1143.1" r="12.5"/><circle cx="2045.9" cy="1215.8" r="12.5"/><circle cx="2047.1" cy="1202.0" r="12.5"/><circle cx="2048.3" cy="1286.9" r="12.5"/><circle cx="2049.5" cy="1459.1" r="12.5"/><circle cx="2050.6" cy="1270.8" r="12.5"/><circle cx="2051.8" cy="1285.1" r="12.5"/><circle cx="2053.0" cy="1324.5" r="12.5"/><circle cx="2054.2" cy="1236.7" r="12.5"/><circle cx="2055.4" cy="1203.2" r="12.5"/><circle cx="2056.6" cy="1409.5" r="12.5"/><circle cx="2057.8" cy="1322.0" r="12.5"/><circle cx="2059.0" cy="1308.6" r="12.5"/><circle cx="2060.2" cy="1221.9" r="12.5"/><circle cx="2061.3" cy="1283.5" r="12.5"/><circle cx="2062.5" cy="1369.7" r="12.5"/><circle cx="2063.7" cy="1305.5" r="12.5"/><circle cx="2064.9" cy="1165.6" r="12.5"/><circle cx="2066.1" cy="1348.9" r="12.5"/><circle cx="2067.3" cy="1323.0" r="12.5"/><circle cx="2068.5" cy="1249.2" r="12.5"/><circle cx="2069.7" cy="1320.5" r="12.5"/><circle cx="2070.9" cy="1205.4" r="12.5"/><circle cx="2072.0" cy="1307.9" r="12.5"/><circle cx="2073.2" cy="1172.0" r="12.5"/><circle cx="2074.4" cy="1302.3" r="12.5"/><circle cx="2075.6" cy="1239.5" r="12.5"/><circle cx="2076.8" cy="1235.9" r="12.5"/><circle cx="2078.0" cy="1383.6" r="12.5"/><circle cx="2079.2" cy="1179.5" r="12.5"/><circle cx="2080.4" cy="1345.3" r="12.5"/><circle cx="2081.5" cy="1305.4" r="12.5"/><circle cx="2082.7" cy="1107.9" r="12.5"/><circle cx="2083.9" cy="1358.4" r="12.5"/><circle cx="2085.1" cy="1387.4" r="12.5"/><circle cx="2086.3" cy="1241.0" r="12.5"/><circle cx="2087.5" cy="1335.2" r="12.5"/><circle cx="2088.7" cy="1262.3" r="12.5"/><circle cx="2089.9" cy="1237.6" r="12.5"/><circle cx="2091.1" cy="1413.7" r="12.5"/><circle cx="2092.2" cy="1389.9" r="12.5"/><circle cx="2093.4" cy="1197.4" r="12.5"/><circle cx="2094.6" cy="1256.4" r="12.5"/><circle cx="2095.8" cy="1289.4" r="12.5"/><circle cx="2097.0" cy="1284.0" r="12.5"/><circle cx="2098.2" cy="1259.4" r="12.5"/><circle cx="2099.4" cy="1260.9" r="12.5"/><circle cx="2100.6" cy="1125.0" r="12.5"/><circle cx="2101.7" cy="1284.8" r="12.5"/><circle cx="2102.9" cy="1283.3" r="12.5"/><circle cx="2104.1" cy="1281.0" r="12.5"/><circle cx="2105.3" cy="1160.4" r="12.5"/><circle cx="2106.5" cy="1177.7" r="12.5"/><circle cx="2107.7" cy="1159.9" r="12.5"/><circle cx="2108.9" cy="1344.8" r="12.5"/><circle cx="2110.1" cy="1270.6" r="12.5"/><circle cx="2111.3" cy="1381.8" r="12.5"/><circle cx="2112.4" cy="1379.2" r="12.5"/><circle cx="2113.6" cy="1209.2" r="12.5"/><circle cx="2114.8" cy="1364.5" r="12.5"/><circle cx="2116.0" cy="1326.6" r="12.5"/><circle cx="2117.2" cy="1212.1" r="12.5"/><circle cx="2118.4" cy="1324.1" r="12.5"/><circle cx="2119.6" cy="1364.2" r="12.5"/><circle cx="2120.8" cy="1215.2" r="12.5"/><circle cx="2121.9" cy="1243.1" r="12.5"/><circle cx="2123.1" cy="1347.2" r="12.5"/><circle cx="2124.3" cy="1224.2" r="12.5"/><circle cx="2125.5" cy="1268.1" r="12.5"/><circle cx="2126.7" cy="1424.5" r="12.5"/><circle cx="2127.9" cy="1273.3" r="12.5"/><circle cx="2129.1" cy="1183.7" r="12.5"/><circle cx="2130.3" cy="1385.2" r="12.5"/><circle cx="2131.5" cy="1313.9" r="12.5"/><circle cx="2132.6" cy="1288.5" r="12.5"/><circle cx="2133.8" cy="1315.1" r="12.5"/><circle cx="2135.0" cy="1400.8" r="12.5"/><circle cx="2136.2" cy="1178.1" r="12.5"/><circle cx="2137.4" cy="1228.2" r="12.5"/><circle cx="2138.6" cy="1228.5" r="12.5"/><circle cx="2139.8" cy="1298.4" r="12.5"/><circle cx="2141.0" cy="1281.9" r="12.5"/><circle cx="2142.1" cy="1378.5" r="12.5"/><circle cx="2143.3" cy="1353.7" r="12.5"/><circle cx="2144.5" cy="1180.3" r="12.5"/><circle cx="2145.7" cy="1256.5" r="12.5"/><circle cx="2146.9" cy="1359.5" r="12.5"/><circle cx="2148.1" cy="1246.6" r="12.5"/><circle cx="2149.3" cy="1337.5" r="12.5"/><circle cx="2150.5" cy="1290.9" r="12.5"/><circle cx="2151.7" cy="1253.4" r="12.5"/><circle cx="2152.8" cy="1190.1" r="12.5"/><circle cx="2154.0" cy="1352.4" r="12.5"/><circle cx="2155.2" cy="1283.7" r="12.5"/><circle cx="2156.4" cy="1307.3" r="12.5"/><circle cx="2157.6" cy="1233.7" r="12.5"/><circle cx="2158.8" cy="1277.6" r="12.5"/><circle cx="2160.0" cy="1335.7" r="12.5"/><circle cx="2161.2" cy="1064.5" r="12.5"/><circle cx="2162.4" cy="1325.0" r="12.5"/><circle cx="2163.5" cy="1225.5" r="12.5"/><circle cx="2164.7" cy="1255.9" r="12.5"/><circle cx="2165.9" cy="1229.2" r="12.5"/><circle cx="2167.1" cy="1178.8" r="12.5"/><circle cx="2168.3" cy="1174.7" r="12.5"/><circle cx="2169.5" cy="1245.1" r="12.5"/><circle cx="2170.7" cy="1299.5" r="12.5"/><circle cx="2171.9" cy="1215.9" r="12.5"/><circle cx="2173.0" cy="1253.8" r="12.5"/><circle cx="2174.2" cy="1280.4" r="12.5"/><circle cx="2175.4" cy="1217.2" r="12.5"/><circle cx="2176.6" cy="1210.7" r="12.5"/><circle cx="2177.8" cy="1241.1" r="12.5"/><circle cx="2179.0" cy="1242.1" r="12.5"/><circle cx="2180.2" cy="1266.8" r="12.5"/><circle cx="2181.4" cy="1254.7" r="12.5"/><circle cx="2182.6" cy="1316.7" r="12.5"/><circle cx="2183.7" cy="1325.8" r="12.5"/><circle cx="2184.9" cy="1295.2" r="12.5"/><circle cx="2186.1" cy="1170.7" r="12.5"/><circle cx="2187.3" cy="1305.7" r="12.5"/><circle cx="2188.5" cy="1333.2" r="12.5"/><circle cx="2189.7" cy="1274.8" r="12.5"/><circle cx="2190.9" cy="1325.9" r="12.5"/><circle cx="2192.1" cy="1275.9" r="12.5"/><circle cx="2193.2" cy="1353.1" r="12.5"/><circle cx="2194.4" cy="1201.9" r="12.5"/><circle cx="2195.6" cy="1338.8" r="12.5"/><circle cx="2196.8" cy="1300.1" r="12.5"/><circle cx="2198.0" cy="1291.9" r="12.5"/><circle cx="2199.2" cy="1329.6" r="12.5"/><circle cx="2200.4" cy="1300.3" r="12.5"/><circle cx="2201.6" cy="1350.7" r="12.5"/><circle cx="2202.8" cy="1350.0" r="12.5"/><circle cx="2203.9" cy="1356.3" r="12.5"/><circle cx="2205.1" cy="1464.2" r="12.5"/><circle cx="2206.3" cy="1292.6" r="12.5"/><circle cx="2207.5" cy="1384.0" r="12.5"/><circle cx="2208.7" cy="1412.7" r="12.5"/><circle cx="2209.9" cy="1262.9" r="12.5"/><circle cx="2211.1" cy="1278.8" r="12.5"/><circle cx="2212.3" cy="1207.3" r="12.5"/><circle cx="2213.4" cy="1362.9" r="12.5"/><circle cx="2214.6" cy="1365.5" r="12.5"/><circle cx="2215.8" cy="1229.8" r="12.5"/><circle cx="2217.0" cy="1284.6" r="12.5"/><circle cx="2218.2" cy="1297.4" r="12.5"/><circle cx="2219.4" cy="1219.7" r="12.5"/><circle cx="2220.6" cy="1317.6" r="12.5"/><circle cx="2221.8" cy="1294.2" r="12.5"/><circle cx="2223.0" cy="1168.1" r="12.5"/><circle cx="2224.1" cy="1358.5" r="12.5"/><circle cx="2225.3" cy="1133.8" r="12.5"/><circle cx="2226.5" cy="1227.2" r="12.5"/><circle cx="2227.7" cy="1188.8" r="12.5"/><circle cx="2228.9" cy="1224.1" r="12.5"/><circle cx="2230.1" cy="1329.4" r="12.5"/><circle cx="2231.3" cy="1306.2" r="12.5"/><circle cx="2232.5" cy="1336.8" r="12.5"/><circle cx="2233.7" cy="1246.7" r="12.5"/><circle cx="2234.8" cy="1204.7" r="12.5"/><circle cx="2236.0" cy="1189.7" r="12.5"/><circle cx="2237.2" cy="1191.4" r="12.5"/><circle cx="2238.4" cy="1289.0" r="12.5"/><circle cx="2239.6" cy="1159.2" r="12.5"/><circle cx="2240.8" cy="1286.1" r="12.5"/><circle cx="2242.0" cy="1291.5" r="12.5"/><circle cx="2243.2" cy="1263.0" r="12.5"/><circle cx="2244.3" cy="1254.9" r="12.5"/><circle cx="2245.5" cy="1283.9" r="12.5"/><circle cx="2246.7" cy="1287.7" r="12.5"/><circle cx="2247.9" cy="1296.9" r="12.5"/><circle cx="2249.1" cy="1165.4" r="12.5"/><circle cx="2250.3" cy="1257.0" r="12.5"/><circle cx="2251.5" cy="1314.3" r="12.5"/><circle cx="2252.7" cy="1202.5" r="12.5"/><circle cx="2253.9" cy="1353.5" r="12.5"/><circle cx="2255.0" cy="1203.8" r="12.5"/><circle cx="2256.2" cy="1307.8" r="12.5"/><circle cx="2257.4" cy="1179.0" r="12.5"/><circle cx="2258.6" cy="1336.5" r="12.5"/><circle cx="2259.8" cy="1258.7" r="12.5"/><circle cx="2261.0" cy="1195.8" r="12.5"/><circle cx="2262.2" cy="1150.5" r="12.5"/><circle cx="2263.4" cy="1322.4" r="12.5"/><circle cx="2264.5" cy="1311.1" r="12.5"/><circle cx="2265.7" cy="1304.1" r="12.5"/><circle cx="2266.9" cy="1150.3" r="12.5"/><circle cx="2268.1" cy="1263.7" r="12.5"/><circle cx="2269.3" cy="1267.3" r="12.5"/><circle cx="2270.5" cy="1233.8" r="12.5"/><circle cx="2271.7" cy="1233.0" r="12.5"/><circle cx="2272.9" cy="1212.6" r="12.5"/><circle cx="2274.1" cy="1315.7" r="12.5"/><circle cx="2275.2" cy="1160.6" r="12.5"/><circle cx="2276.4" cy="1200.9" r="12.5"/><circle cx="2277.6" cy="1060.7" r="12.5"/><circle cx="2278.8" cy="1218.6" r="12.5"/><circle cx="2280.0" cy="1249.5" r="12.5"/><circle cx="2281.2" cy="1273.4" r="12.5"/><circle cx="2282.4" cy="1298.8" r="12.5"/><circle cx="2283.6" cy="1226.0" r="12.5"/><circle cx="2284.7" cy="1215.4" r="12.5"/><circle cx="2285.9" cy="1315.3" r="12.5"/><circle cx="2287.1" cy="1257.9" r="12.5"/><circle cx="2288.3" cy="1316.3" r="12.5"/><circle cx="2289.5" cy="1191.9" r="12.5"/><circle cx="2290.7" cy="1372.4" r="12.5"/><circle cx="2291.9" cy="1268.9" r="12.5"/><circle cx="2293.1" cy="1269.0" r="12.5"/><circle cx="2294.3" cy="1227.6" r="12.5"/><circle cx="2295.4" cy="1297.9" r="12.5"/><circle cx="2296.6" cy="1199.3" r="12.5"/><circle cx="2297.8" cy="1354.0" r="12.5"/><circle cx="2299.0" cy="1327.8" r="12.5"/><circle cx="2300.2" cy="1166.7" r="12.5"/><circle cx="2301.4" cy="1271.7" r="12.5"/><circle cx="2302.6" cy="1337.9" r="12.5"/><circle cx="2303.8" cy="1289.9" r="12.5"/><circle cx="2305.0" cy="1366.1" r="12.5"/><circle cx="2306.1" cy="1137.5" r="12.5"/><circle cx="2307.3" cy="1187.7" r="12.5"/><circle cx="2308.5" cy="1290.1" r="12.5"/><circle cx="2309.7" cy="1323.7" r="12.5"/><circle cx="2310.9" cy="1177.1" r="12.5"/><circle cx="2312.1" cy="1243.4" r="12.5"/><circle cx="2313.3" cy="1166.0" r="12.5"/><circle cx="2314.5" cy="1145.8" r="12.5"/><circle cx="2315.6" cy="1297.5" r="12.5"/><circle cx="2316.8" cy="1290.6" r="12.5"/><circle cx="2318.0" cy="1352.7" r="12.5"/><circle cx="2319.2" cy="1241.8" r="12.5"/><circle cx="2320.4" cy="1287.2" r="12.5"/><circle cx="2321.6" cy="1395.0" r="12.5"/><circle cx="2322.8" cy="1167.6" r="12.5"/><circle cx="2324.0" cy="1242.8" r="12.5"/><circle cx="2325.2" cy="1336.2" r="12.5"/><circle cx="2326.3" cy="1311.4" r="12.5"/><circle cx="2327.5" cy="1150.9" r="12.5"/><circle cx="2328.7" cy="1332.0" r="12.5"/><circle cx="2329.9" cy="1359.8" r="12.5"/><circle cx="2331.1" cy="1345.5" r="12.5"/><circle cx="2332.3" cy="1161.3" r="12.5"/><circle cx="2333.5" cy="1294.4" r="12.5"/><circle cx="2334.7" cy="1219.6" r="12.5"/><circle cx="2335.8" cy="1257.2" r="12.5"/><circle cx="2337.0" cy="1200.2" r="12.5"/><circle cx="2338.2" cy="1291.7" r="12.5"/><circle cx="2339.4" cy="1073.5" r="12.5"/><circle cx="2340.6" cy="1275.2" r="12.5"/><circle cx="2341.8" cy="1251.9" r="12.5"/><circle cx="2343.0" cy="1226.7" r="12.5"/><circle cx="2344.2" cy="1266.4" r="12.5"/><circle cx="2345.4" cy="1230.9" r="12.5"/><circle cx="2346.5" cy="1336.0" r="12.5"/><circle cx="2347.7" cy="1334.8" r="12.5"/><circle cx="2348.9" cy="1163.7" r="12.5"/><circle cx="2350.1" cy="1313.4" r="12.5"/><circle cx="2351.3" cy="1306.5" r="12.5"/><circle cx="2352.5" cy="1332.9" r="12.5"/><circle cx="2353.7" cy="1348.6" r="12.5"/><circle cx="2354.9" cy="1240.6" r="12.5"/><circle cx="2356.0" cy="1418.3" r="12.5"/><circle cx="2357.2" cy="1373.0" r="12.5"/><circle cx="2358.4" cy="1188.2" r="12.5"/><circle cx="2359.6" cy="1345.7" r="12.5"/><circle cx="2360.8" cy="1174.9" r="12.5"/><circle cx="2362.0" cy="1321.5" r="12.5"/><circle cx="2363.2" cy="1282.6" r="12.5"/><circle cx="2364.4" cy="1337.0" r="12.5"/><circle cx="2365.6" cy="1208.6" r="12.5"/><circle cx="2366.7" cy="1234.1" r="12.5"/><circle cx="2367.9" cy="1396.2" r="12.5"/><circle cx="2369.1" cy="1169.0" r="12.5"/><circle cx="2370.3" cy="1216.8" r="12.5"/><circle cx="2371.5" cy="1316.0" r="12.5"/><circle cx="2372.7" cy="1232.7" r="12.5"/><circle cx="2373.9" cy="1184.6" r="12.5"/><circle cx="2375.1" cy="1282.0" r="12.5"/><circle cx="2376.2" cy="1145.3" r="12.5"/><circle cx="2377.4" cy="1274.3" r="12.5"/><circle cx="2378.6" cy="1257.1" r="12.5"/><circle cx="2379.8" cy="1265.8" r="12.5"/><circle cx="2381.0" cy="1199.9" r="12.5"/><circle cx="2382.2" cy="1265.5" r="12.5"/><circle cx="2383.4" cy="1135.8" r="12.5"/><circle cx="2384.6" cy="1286.3" r="12.5"/><circle cx="2385.8" cy="1168.7" r="12.5"/><circle cx="2386.9" cy="1248.9" r="12.5"/><circle cx="2388.1" cy="1348.2" r="12.5"/><circle cx="2389.3" cy="1124.0" r="12.5"/><circle cx="2390.5" cy="1252.1" r="12.5"/><circle cx="2391.7" cy="1333.8" r="12.5"/><circle cx="2392.9" cy="1192.4" r="12.5"/><circle cx="2394.1" cy="1341.9" r="12.5"/><circle cx="2395.3" cy="1321.2" r="12.5"/><circle cx="2396.5" cy="1251.0" r="12.5"/><circle cx="2397.6" cy="1362.1" r="12.5"/><circle cx="2398.8" cy="1263.1" r="12.5"/><circle cx="2400.0" cy="1184.4" r="12.5"/><circle cx="2401.2" cy="1270.2" r="12.5"/><circle cx="2402.4" cy="1258.3" r="12.5"/><circle cx="2403.6" cy="1303.4" r="12.5"/><circle cx="2404.8" cy="1271.2" r="12.5"/><circle cx="2406.0" cy="1340.4" r="12.5"/><circle cx="2407.1" cy="1200.6" r="12.5"/><circle cx="2408.3" cy="1358.8" r="12.5"/><circle cx="2409.5" cy="1295.3" r="12.5"/><circle cx="2410.7" cy="1273.8" r="12.5"/><circle cx="2411.9" cy="1311.9" r="12.5"/><circle cx="2413.1" cy="1140.5" r="12.5"/><circle cx="2414.3" cy="1372.7" r="12.5"/><circle cx="2415.5" cy="1259.1" r="12.5"/><circle cx="2416.7" cy="1347.9" r="12.5"/><circle cx="2417.8" cy="1318.3" r="12.5"/><circle cx="2419.0" cy="1360.0" r="12.5"/><circle cx="2420.2" cy="1308.4" r="12.5"/><circle cx="2421.4" cy="1263.6" r="12.5"/><circle cx="2422.6" cy="1406.6" r="12.5"/><circle cx="2423.8" cy="1310.9" r="12.5"/><circle cx="2425.0" cy="1255.5" r="12.5"/><circle cx="2426.2" cy="1236.5" r="12.5"/><circle cx="2427.3" cy="1235.2" r="12.5"/><circle cx="2428.5" cy="1361.6" r="12.5"/><circle cx="2429.7" cy="1376.0" r="12.5"/><circle cx="2430.9" cy="1248.6" r="12.5"/><circle cx="2432.1" cy="1334.2" r="12.5"/><circle cx="2433.3" cy="1281.1" r="12.5"/><circle cx="2434.5" cy="1307.5" r="12.5"/><circle cx="2435.7" cy="1193.0" r="12.5"/><circle cx="2436.9" cy="1249.4" r="12.5"/><circle cx="2438.0" cy="1266.6" r="12.5"/><circle cx="2439.2" cy="1252.9" r="12.5"/><circle cx="2440.4" cy="1285.4" r="12.5"/><circle cx="2441.6" cy="1357.4" r="12.5"/><circle cx="2442.8" cy="1331.2" r="12.5"/><circle cx="2444.0" cy="1211.9" r="12.5"/><circle cx="2445.2" cy="1354.2" r="12.5"/><circle cx="2446.4" cy="1277.1" r="12.5"/><circle cx="2447.5" cy="1328.9" r="12.5"/><circle cx="2448.7" cy="1275.6" r="12.5"/><circle cx="2449.9" cy="1198.9" r="12.5"/><circle cx="2451.1" cy="1351.9" r="12.5"/><circle cx="2452.3" cy="1148.3" r="12.5"/><circle cx="2453.5" cy="1229.3" r="12.5"/><circle cx="2454.7" cy="1306.7" r="12.5"/><circle cx="2455.9" cy="1342.6" r="12.5"/><circle cx="2457.1" cy="1272.9" r="12.5"/><circle cx="2458.2" cy="1180.1" r="12.5"/><circle cx="2459.4" cy="1288.9" r="12.5"/><circle cx="2460.6" cy="1211.3" r="12.5"/><circle cx="2461.8" cy="1422.5" r="12.5"/><circle cx="2463.0" cy="1269.8" r="12.5"/><circle cx="2464.2" cy="1451.4" r="12.5"/><circle cx="2465.4" cy="1227.0" r="12.5"/><circle cx="2466.6" cy="1413.2" r="12.5"/><circle cx="2467.8" cy="1222.9" r="12.5"/><circle cx="2468.9" cy="1299.2" r="12.5"/><circle cx="2470.1" cy="1420.4" r="12.5"/><circle cx="2471.3" cy="1330.7" r="12.5"/><circle cx="2472.5" cy="1285.7" r="12.5"/><circle cx="2473.7" cy="1399.6" r="12.5"/><circle cx="2474.9" cy="1214.9" r="12.5"/><circle cx="2476.1" cy="1220.4" r="12.5"/><circle cx="2477.3" cy="1330.6" r="12.5"/><circle cx="2478.4" cy="1374.0" r="12.5"/><circle cx="2479.6" cy="1196.2" r="12.5"/><circle cx="2480.8" cy="1182.1" r="12.5"/><circle cx="2482.0" cy="1197.0" r="12.5"/><circle cx="2483.2" cy="1148.1" r="12.5"/><circle cx="2484.4" cy="1270.4" r="12.5"/><circle cx="2485.6" cy="1211.4" r="12.5"/><circle cx="2486.8" cy="1265.2" r="12.5"/><circle cx="2488.0" cy="1264.4" r="12.5"/><circle cx="2489.1" cy="1206.6" r="12.5"/><circle cx="2490.3" cy="1176.4" r="12.5"/><circle cx="2491.5" cy="1150.7" r="12.5"/><circle cx="2492.7" cy="1234.3" r="12.5"/><circle cx="2493.9" cy="1471.9" r="12.5"/><circle cx="2495.1" cy="1291.2" r="12.5"/><circle cx="2496.3" cy="1131.0" r="12.5"/><circle cx="2497.5" cy="1205.3" r="12.5"/><circle cx="2498.6" cy="1238.1" r="12.5"/><circle cx="2499.8" cy="1242.9" r="12.5"/><circle cx="2501.0" cy="1292.5" r="12.5"/><circle cx="2502.2" cy="1350.2" r="12.5"/><circle cx="2503.4" cy="1206.1" r="12.5"/><circle cx="2504.6" cy="1209.5" r="12.5"/><circle cx="2505.8" cy="1250.3" r="12.5"/><circle cx="2507.0" cy="1335.5" r="12.5"/><circle cx="2508.2" cy="1403.1" r="12.5"/><circle cx="2509.3" cy="1214.5" r="12.5"/><circle cx="2510.5" cy="1284.1" r="12.5"/><circle cx="2511.7" cy="1338.6" r="12.5"/><circle cx="2512.9" cy="1386.8" r="12.5"/><circle cx="2514.1" cy="1411.8" r="12.5"/><circle cx="2515.3" cy="1195.1" r="12.5"/><circle cx="2516.5" cy="1307.0" r="12.5"/><circle cx="2517.7" cy="1296.3" r="12.5"/><circle cx="2518.8" cy="1414.2" r="12.5"/><circle cx="2520.0" cy="1194.0" r="12.5"/><circle cx="2521.2" cy="1407.1" r="12.5"/><circle cx="2522.4" cy="1240.9" r="12.5"/><circle cx="2523.6" cy="1342.1" r="12.5"/><circle cx="2524.8" cy="1308.3" r="12.5"/><circle cx="2526.0" cy="1264.6" r="12.5"/><circle cx="2527.2" cy="1183.5" r="12.5"/><circle cx="2528.4" cy="1359.3" r="12.5"/><circle cx="2529.5" cy="1321.3" r="12.5"/><circle cx="2530.7" cy="1411.3" r="12.5"/><circle cx="2531.9" cy="1249.0" r="12.5"/><circle cx="2533.1" cy="1155.0" r="12.5"/><circle cx="2534.3" cy="1251.2" r="12.5"/><circle cx="2535.5" cy="1222.8" r="12.5"/><circle cx="2536.7" cy="1232.0" r="12.5"/><circle cx="2537.9" cy="1237.1" r="12.5"/><circle cx="2539.1" cy="1238.7" r="12.5"/><circle cx="2540.2" cy="1131.7" r="12.5"/><circle cx="2541.4" cy="1309.2" r="12.5"/><circle cx="2542.6" cy="1152.4" r="12.5"/><circle cx="2543.8" cy="1208.1" r="12.5"/><circle cx="2545.0" cy="1208.3" r="12.5"/><circle cx="2546.2" cy="1305.1" r="12.5"/><circle cx="2547.4" cy="1220.2" r="12.5"/><circle cx="2548.6" cy="1276.5" r="12.5"/><circle cx="2549.7" cy="1272.7" r="12.5"/><circle cx="2550.9" cy="1299.4" r="12.5"/><circle cx="2552.1" cy="1301.3" r="12.5"/><circle cx="2553.3" cy="1268.3" r="12.5"/><circle cx="2554.5" cy="1192.0" r="12.5"/><circle cx="2555.7" cy="1370.3" r="12.5"/><circle cx="2556.9" cy="1247.2" r="12.5"/><circle cx="2558.1" cy="1237.7" r="12.5"/><circle cx="2559.3" cy="1385.5" r="12.5"/><circle cx="2560.4" cy="1178.6" r="12.5"/><circle cx="2561.6" cy="1220.1" r="12.5"/><circle cx="2562.8" cy="1326.3" r="12.5"/><circle cx="2564.0" cy="1407.6" r="12.5"/><circle cx="2565.2" cy="1164.5" r="12.5"/><circle cx="2566.4" cy="1198.6" r="12.5"/><circle cx="2567.6" cy="1202.4" r="12.5"/><circle cx="2568.8" cy="1375.3" r="12.5"/><circle cx="2569.9" cy="1261.8" r="12.5"/><circle cx="2571.1" cy="1268.7" r="12.5"/><circle cx="2572.3" cy="1370.0" r="12.5"/><circle cx="2573.5" cy="1340.6" r="12.5"/><circle cx="2574.7" cy="1298.1" r="12.5"/><circle cx="2575.9" cy="1333.0" r="12.5"/><circle cx="2577.1" cy="1126.4" r="12.5"/><circle cx="2578.3" cy="1291.6" r="12.5"/><circle cx="2579.5" cy="1313.1" r="12.5"/><circle cx="2580.6" cy="1213.8" r="12.5"/><circle cx="2581.8" cy="1212.4" r="12.5"/><circle cx="2583.0" cy="1453.9" r="12.5"/><circle cx="2584.2" cy="1247.4" r="12.5"/><circle cx="2585.4" cy="1341.0" r="12.5"/><circle cx="2586.6" cy="1259.0" r="12.5"/><circle cx="2587.8" cy="1315.4" r="12.5"/><circle cx="2589.0" cy="1366.6" r="12.5"/><circle cx="2590.1" cy="1317.3" r="12.5"/><circle cx="2591.3" cy="1232.2" r="12.5"/><circle cx="2592.5" cy="1310.4" r="12.5"/><circle cx="2593.7" cy="1190.7" r="12.5"/><circle cx="2594.9" cy="1245.4" r="12.5"/><circle cx="2596.1" cy="1368.9" r="12.5"/><circle cx="2597.3" cy="1209.6" r="12.5"/><circle cx="2598.5" cy="1366.8" r="12.5"/><circle cx="2599.7" cy="1271.1" r="12.5"/><circle cx="2600.8" cy="1249.6" r="12.5"/><circle cx="2602.0" cy="1272.4" r="12.5"/><circle cx="2603.2" cy="1238.6" r="12.5"/><circle cx="2604.4" cy="1330.2" r="12.5"/><circle cx="2605.6" cy="1281.8" r="12.5"/><circle cx="2606.8" cy="1189.5" r="12.5"/><circle cx="2608.0" cy="1363.2" r="12.5"/><circle cx="2609.2" cy="1306.1" r="12.5"/>
</g>
<path clip-path="url(#ca3)" d="M233.7 1338.0 235.8 1336.6 241.6 1301.7 253.3 1236.5 264.9 1315.7 270.8 1297.0 282.4 1334.3 297.5 1257.4 308.0 1223.6 315.0 1234.1 325.5 1295.9 330.2 1271.4 337.1 1280.7 347.6 1251.6 352.3 1293.5 359.3 1249.3 369.8 1283.0 379.1 1276.1 386.1 1229.5 394.2 1287.7 403.5 1243.4 414.0 1245.8 426.8 1280.7 439.6 1257.4 448.9 1236.5 453.6 1210.8 459.4 1250.4 466.4 1306.3 473.4 1257.4 481.6 1262.1 488.5 1257.4 503.7 1284.2 508.3 1262.1 516.5 1273.7 529.3 1340.1 542.1 1259.8 552.6 1227.1 558.4 1227.1 566.6 1269.1 573.6 1242.3 581.7 1271.4 593.4 1238.8 602.7 1245.8 612.0 1292.4 629.5 1237.6 643.4 1294.7 656.2 1243.4 667.9 1299.3 679.5 1271.4 690.0 1260.9 695.8 1274.9 705.2 1245.8 709.8 1266.7 715.6 1249.3 725.0 1311.0 730.8 1304.0 737.8 1320.3 748.2 1270.2 754.1 1270.2 761.1 1301.7 775.0 1259.8 784.4 1238.8 796.0 1315.7 806.5 1285.4 814.6 1257.4 822.8 1257.4 827.0 1264.4 837.5 1314.5 845.6 1266.7 854.9 1252.8 861.9 1280.7 873.6 1252.8 880.6 1287.7 887.5 1245.8 894.5 1231.8 901.5 1259.8 913.2 1290.0 926.0 1251.6 934.1 1253.9 945.8 1315.7 957.4 1259.8 964.4 1257.4 967.9 1290.0 979.6 1262.1 983.0 1294.7 992.4 1259.8 998.2 1288.9 1009.8 1194.5 1025.0 1269.1 1038.9 1192.2 1047.1 1203.9 1052.9 1173.6 1061.1 1194.5 1071.6 1145.6 1080.9 1171.2 1087.9 1180.6 1094.8 1229.5 1106.5 1187.5 1113.5 1238.8 1125.1 1292.4 1139.1 1234.1 1146.1 1269.1 1155.4 1271.4 1165.9 1304.0 1172.9 1235.3 1183.4 1290.0 1189.2 1257.4 1202.0 1278.4 1211.3 1334.3 1220.6 1234.1 1228.8 1243.4 1236.9 1285.4 1248.6 1257.4 1255.6 1292.4 1266.0 1224.8 1280.0 1285.4 1299.8 1203.9 1311.5 1250.4 1320.8 1311.0 1332.4 1280.7 1344.1 1224.8 1355.7 1255.1 1365.0 1269.1 1376.7 1313.3 1390.7 1264.4 1397.6 1294.7 1407.0 1327.3 1417.0 1259.8 1425.1 1236.5 1432.1 1273.7 1444.9 1216.7 1456.6 1287.7 1462.4 1252.8 1472.9 1300.5 1483.4 1240.0 1491.5 1298.2 1498.5 1273.7 1510.2 1322.6 1521.3 1285.4 1522.3 1313.3 1533.4 1252.8 1541.6 1229.5 1549.8 1231.8 1560.2 1301.7 1570.7 1257.4 1578.9 1243.4 1583.5 1294.7 1594.0 1245.8 1603.3 1308.7 1619.6 1209.7 1632.4 1308.7 1644.1 1269.1 1652.2 1250.4 1656.9 1180.6 1662.7 1164.3 1675.5 1196.9 1688.3 1149.1 1696.5 1201.5 1705.8 1163.1 1712.8 1188.7 1722.1 1157.3 1731.4 1213.2 1744.2 1157.3 1753.6 1175.9 1762.9 1217.8 1769.9 1187.5 1775.7 1175.9 1783.8 1154.9 1792.0 1194.5 1803.6 1145.6 1813.0 1134.0 1824.6 1201.5 1836.2 1139.8 1845.6 1178.2 1856.0 1202.7 1867.7 1174.7 1873.5 1187.5 1878.2 1170.1 1881.7 1202.7 1895.6 1143.3 1906.1 1172.4 1913.1 1180.6 1920.1 1210.8 1924.8 1264.4 1932.9 1264.4 1939.9 1309.8 1952.7 1264.4 1959.7 1286.5 1974.8 1246.9 1980.7 1250.4 1990.0 1297.0 1999.3 1257.4 2009.6 1302.9 2021.7 1269.2 2028.9 1295.7 2043.3 1235.5 2050.5 1250.0 2059.0 1302.9 2075.8 1257.2 2091.5 1307.7 2103.5 1223.5 2115.5 1307.7 2127.6 1262.0 2132.4 1298.1 2138.4 1274.0 2145.6 1292.1 2156.4 1271.6 2172.1 1228.3 2180.5 1262.0 2192.5 1293.3 2207.0 1343.8 2220.2 1257.2 2231.1 1242.7 2240.7 1240.3 2249.1 1269.2 2261.1 1242.7 2263.5 1264.4 2276.8 1224.7 2284.0 1254.8 2291.2 1290.9 2298.4 1288.5 2311.7 1230.7 2324.9 1293.3 2339.4 1244.0 2355.0 1312.5 2368.2 1254.8 2380.3 1228.3 2386.3 1228.3 2394.7 1281.3 2404.3 1270.4 2414.0 1293.3 2423.6 1310.1 2436.8 1274.0 2445.3 1290.9 2457.3 1253.6 2469.3 1321.0 2487.4 1211.5 2495.8 1221.1 2512.7 1322.2 2527.1 1295.7 2542.7 1205.4 2556.0 1269.2 2564.4 1270.4 2571.6 1288.5 2582.5 1259.6 2589.7 1295.7 2604.1 1245.2 2608.9 1264.4" fill="none" stroke="#AA3377" stroke-width="15.2" stroke-linejoin="round" stroke-linecap="butt"/>
<g clip-path="url(#ca2)" fill="#4477AA" fill-opacity=".5" stroke="#000" stroke-opacity=".5" stroke-width="4.2">
<rect x="2733.6" y="292.0" width="2.4" height="10.36"/>
<rect x="2733.6" y="302.4" width="0.0" height="10.36"/>
<rect x="2733.6" y="312.7" width="2.4" height="10.36"/>
<rect x="2733.6" y="323.1" width="0.0" height="10.36"/>
<rect x="2733.6" y="333.5" width="2.4" height="10.36"/>
<rect x="2733.6" y="343.8" width="4.8" height="10.36"/>
<rect x="2733.6" y="354.2" width="0.0" height="10.36"/>
<rect x="2733.6" y="364.5" width="4.8" height="10.36"/>
<rect x="2733.6" y="374.9" width="20.4" height="10.36"/>
<rect x="2733.6" y="385.3" width="25.5" height="10.36"/>
<rect x="2733.6" y="395.6" width="16.1" height="10.36"/>
<rect x="2733.6" y="406.0" width="20.4" height="10.36"/>
<rect x="2733.6" y="416.3" width="56.5" height="10.36"/>
<rect x="2733.6" y="426.7" width="89.4" height="10.36"/>
<rect x="2733.6" y="437.1" width="85.3" height="10.36"/>
<rect x="2733.6" y="447.4" width="77.2" height="10.36"/>
<rect x="2733.6" y="457.8" width="153.4" height="10.36"/>
<rect x="2733.6" y="468.1" width="187.6" height="10.36"/>
<rect x="2733.6" y="478.5" width="187.6" height="10.36"/>
<rect x="2733.6" y="488.9" width="230.3" height="10.36"/>
<rect x="2733.6" y="499.2" width="277.3" height="10.36"/>
<rect x="2733.6" y="509.6" width="270.2" height="10.36"/>
<rect x="2733.6" y="519.9" width="298.3" height="10.36"/>
<rect x="2733.6" y="530.3" width="282.3" height="10.36"/>
<rect x="2733.6" y="540.7" width="317.5" height="10.36"/>
<rect x="2733.6" y="551.0" width="258.5" height="10.36"/>
<rect x="2733.6" y="561.4" width="218.6" height="10.36"/>
<rect x="2733.6" y="571.7" width="301.4" height="10.36"/>
<rect x="2733.6" y="582.1" width="296.4" height="10.36"/>
<rect x="2733.6" y="592.5" width="196.7" height="10.36"/>
<rect x="2733.6" y="602.8" width="220.5" height="10.36"/>
<rect x="2733.6" y="613.2" width="144.5" height="10.36"/>
<rect x="2733.6" y="623.5" width="127.3" height="10.36"/>
<rect x="2733.6" y="633.9" width="106.5" height="10.36"/>
<rect x="2733.6" y="644.3" width="89.4" height="10.36"/>
<rect x="2733.6" y="654.6" width="58.4" height="10.36"/>
<rect x="2733.6" y="665.0" width="25.5" height="10.36"/>
<rect x="2733.6" y="675.3" width="37.3" height="10.36"/>
<rect x="2733.6" y="685.7" width="13.3" height="10.36"/>
<rect x="2733.6" y="696.1" width="18.2" height="10.36"/>
<rect x="2733.6" y="706.4" width="2.4" height="10.36"/>
<rect x="2733.6" y="716.8" width="2.4" height="10.36"/>
<rect x="2733.6" y="727.1" width="0.0" height="10.36"/>
<rect x="2733.6" y="737.5" width="2.4" height="10.36"/>
</g>
<g clip-path="url(#ca4)" fill="#AA3377" fill-opacity=".5" stroke="#000" stroke-opacity=".5" stroke-width="4.2">
<rect x="2733.6" y="1021.1" width="0.0" height="11.28"/>
<rect x="2733.6" y="1032.3" width="7.1" height="11.28"/>
<rect x="2733.6" y="1043.6" width="0.0" height="11.28"/>
<rect x="2733.6" y="1054.9" width="20.4" height="11.28"/>
<rect x="2733.6" y="1066.2" width="20.4" height="11.28"/>
<rect x="2733.6" y="1077.5" width="16.5" height="11.28"/>
<rect x="2733.6" y="1088.7" width="27.4" height="11.28"/>
<rect x="2733.6" y="1100.0" width="42.3" height="11.28"/>
<rect x="2733.6" y="1111.3" width="58.4" height="11.28"/>
<rect x="2733.6" y="1122.6" width="75.3" height="11.28"/>
<rect x="2733.6" y="1133.9" width="80.3" height="11.28"/>
<rect x="2733.6" y="1145.1" width="123.4" height="11.28"/>
<rect x="2733.6" y="1156.4" width="149.2" height="11.28"/>
<rect x="2733.6" y="1167.7" width="144.5" height="11.28"/>
<rect x="2733.6" y="1179.0" width="146.4" height="11.28"/>
<rect x="2733.6" y="1190.3" width="182.1" height="11.28"/>
<rect x="2733.6" y="1201.5" width="230.3" height="11.28"/>
<rect x="2733.6" y="1212.8" width="208.4" height="11.28"/>
<rect x="2733.6" y="1224.1" width="282.3" height="11.28"/>
<rect x="2733.6" y="1235.4" width="268.5" height="11.28"/>
<rect x="2733.6" y="1246.7" width="253.3" height="11.28"/>
<rect x="2733.6" y="1257.9" width="241.6" height="11.28"/>
<rect x="2733.6" y="1269.2" width="256.5" height="11.28"/>
<rect x="2733.6" y="1280.5" width="241.6" height="11.28"/>
<rect x="2733.6" y="1291.8" width="249.4" height="11.28"/>
<rect x="2733.6" y="1303.1" width="270.5" height="11.28"/>
<rect x="2733.6" y="1314.3" width="232.5" height="11.28"/>
<rect x="2733.6" y="1325.6" width="161.4" height="11.28"/>
<rect x="2733.6" y="1336.9" width="146.4" height="11.28"/>
<rect x="2733.6" y="1348.2" width="165.7" height="11.28"/>
<rect x="2733.6" y="1359.5" width="101.5" height="11.28"/>
<rect x="2733.6" y="1370.7" width="82.4" height="11.28"/>
<rect x="2733.6" y="1382.0" width="85.3" height="11.28"/>
<rect x="2733.6" y="1393.3" width="46.4" height="11.28"/>
<rect x="2733.6" y="1404.6" width="56.5" height="11.28"/>
<rect x="2733.6" y="1415.9" width="25.5" height="11.28"/>
<rect x="2733.6" y="1427.1" width="2.4" height="11.28"/>
<rect x="2733.6" y="1438.4" width="0.0" height="11.28"/>
<rect x="2733.6" y="1449.7" width="7.1" height="11.28"/>
<rect x="2733.6" y="1461.0" width="4.8" height="11.28"/>
<rect x="2733.6" y="1472.3" width="0.0" height="11.28"/>
<rect x="2733.6" y="1483.5" width="0.0" height="11.28"/>
<rect x="2733.6" y="1494.8" width="0.0" height="11.28"/>
<rect x="2733.6" y="1506.1" width="2.4" height="11.28"/>
</g>
<path d="M233.7 827.4v-33.3M233.7 223.3v33.3M709.0 827.4v-33.3M709.0 223.3v33.3M1184.4 827.4v-33.3M1184.4 223.3v33.3M1659.7 827.4v-33.3M1659.7 223.3v33.3M2135.0 827.4v-33.3M2135.0 223.3v33.3M2610.3 827.4v-33.3M2610.3 223.3v33.3M328.8 827.4v-16.7M328.8 223.3v16.7M423.8 827.4v-16.7M423.8 223.3v16.7M518.9 827.4v-16.7M518.9 223.3v16.7M614.0 827.4v-16.7M614.0 223.3v16.7M804.1 827.4v-16.7M804.1 223.3v16.7M899.2 827.4v-16.7M899.2 223.3v16.7M994.2 827.4v-16.7M994.2 223.3v16.7M1089.3 827.4v-16.7M1089.3 223.3v16.7M1279.4 827.4v-16.7M1279.4 223.3v16.7M1374.5 827.4v-16.7M1374.5 223.3v16.7M1469.6 827.4v-16.7M1469.6 223.3v16.7M1564.6 827.4v-16.7M1564.6 223.3v16.7M1754.8 827.4v-16.7M1754.8 223.3v16.7M1849.8 827.4v-16.7M1849.8 223.3v16.7M1944.9 827.4v-16.7M1944.9 223.3v16.7M2040.0 827.4v-16.7M2040.0 223.3v16.7M2230.1 827.4v-16.7M2230.1 223.3v16.7M2325.2 827.4v-16.7M2325.2 223.3v16.7M2420.2 827.4v-16.7M2420.2 223.3v16.7M2515.3 827.4v-16.7M2515.3 223.3v16.7M234.4 223.3h33.3M2611.5 223.3h-33.3M234.4 324.0h33.3M2611.5 324.0h-33.3M234.4 424.7h33.3M2611.5 424.7h-33.3M234.4 525.3h33.3M2611.5 525.3h-33.3M234.4 626.0h33.3M2611.5 626.0h-33.3M234.4 726.7h33.3M2611.5 726.7h-33.3M234.4 827.4h33.3M2611.5 827.4h-33.3M234.4 243.4h16.7M2611.5 243.4h-16.7M234.4 263.6h16.7M2611.5 263.6h-16.7M234.4 283.7h16.7M2611.5 283.7h-16.7M234.4 303.8h16.7M2611.5 303.8h-16.7M234.4 344.1h16.7M2611.5 344.1h-16.7M234.4 364.3h16.7M2611.5 364.3h-16.7M234.4 384.4h16.7M2611.5 384.4h-16.7M234.4 404.5h16.7M2611.5 404.5h-16.7M234.4 444.8h16.7M2611.5 444.8h-16.7M234.4 464.9h16.7M2611.5 464.9h-16.7M234.4 485.1h16.7M2611.5 485.1h-16.7M234.4 505.2h16.7M2611.5 505.2h-16.7M234.4 545.5h16.7M2611.5 545.5h-16.7M234.4 565.6h16.7M2611.5 565.6h-16.7M234.4 585.8h16.7M2611.5 585.8h-16.7M234.4 605.9h16.7M2611.5 605.9h-16.7M234.4 646.2h16.7M2611.5 646.2h-16.7M234.4 666.3h16.7M2611.5 666.3h-16.7M234.4 686.4h16.7M2611.5 686.4h-16.7M234.4 706.6h16.7M2611.5 706.6h-16.7M234.4 746.9h16.7M2611.5 746.9h-16.7M234.4 767.0h16.7M2611.5 767.0h-16.7M234.4 787.1h16.7M2611.5 787.1h-16.7M234.4 807.3h16.7M2611.5 807.3h-16.7" stroke="#000" stroke-width="2.2" fill="none"/>
<rect x="234.4" y="223.3" width="2377.1" height="604.1" fill="none" stroke="#000" stroke-width="3.1"/>
<path d="M2733.5 827.4v-33.3M2733.5 223.3v33.3M3207.4 827.4v-33.3M3207.4 223.3v33.3M2852.0 827.4v-16.7M2852.0 223.3v16.7M2970.5 827.4v-16.7M2970.5 223.3v16.7M3088.9 827.4v-16.7M3088.9 223.3v16.7M2733.6 223.3h33.3M3208.7 223.3h-33.3M2733.6 324.0h33.3M3208.7 324.0h-33.3M2733.6 424.7h33.3M3208.7 424.7h-33.3M2733.6 525.3h33.3M3208.7 525.3h-33.3M2733.6 626.0h33.3M3208.7 626.0h-33.3M2733.6 726.7h33.3M3208.7 726.7h-33.3M2733.6 827.4h33.3M3208.7 827.4h-33.3M2733.6 243.4h16.7M3208.7 243.4h-16.7M2733.6 263.6h16.7M3208.7 263.6h-16.7M2733.6 283.7h16.7M3208.7 283.7h-16.7M2733.6 303.8h16.7M3208.7 303.8h-16.7M2733.6 344.1h16.7M3208.7 344.1h-16.7M2733.6 364.3h16.7M3208.7 364.3h-16.7M2733.6 384.4h16.7M3208.7 384.4h-16.7M2733.6 404.5h16.7M3208.7 404.5h-16.7M2733.6 444.8h16.7M3208.7 444.8h-16.7M2733.6 464.9h16.7M3208.7 464.9h-16.7M2733.6 485.1h16.7M3208.7 485.1h-16.7M2733.6 505.2h16.7M3208.7 505.2h-16.7M2733.6 545.5h16.7M3208.7 545.5h-16.7M2733.6 565.6h16.7M3208.7 565.6h-16.7M2733.6 585.8h16.7M3208.7 585.8h-16.7M2733.6 605.9h16.7M3208.7 605.9h-16.7M2733.6 646.2h16.7M3208.7 646.2h-16.7M2733.6 666.3h16.7M3208.7 666.3h-16.7M2733.6 686.4h16.7M3208.7 686.4h-16.7M2733.6 706.6h16.7M3208.7 706.6h-16.7M2733.6 746.9h16.7M3208.7 746.9h-16.7M2733.6 767.0h16.7M3208.7 767.0h-16.7M2733.6 787.1h16.7M3208.7 787.1h-16.7M2733.6 807.3h16.7M3208.7 807.3h-16.7" stroke="#000" stroke-width="2.2" fill="none"/>
<rect x="2733.6" y="223.3" width="475.1" height="604.1" fill="none" stroke="#000" stroke-width="3.1"/>
<path d="M233.7 1551.3v-33.3M233.7 947.4v33.3M709.0 1551.3v-33.3M709.0 947.4v33.3M1184.4 1551.3v-33.3M1184.4 947.4v33.3M1659.7 1551.3v-33.3M1659.7 947.4v33.3M2135.0 1551.3v-33.3M2135.0 947.4v33.3M2610.3 1551.3v-33.3M2610.3 947.4v33.3M328.8 1551.3v-16.7M328.8 947.4v16.7M423.8 1551.3v-16.7M423.8 947.4v16.7M518.9 1551.3v-16.7M518.9 947.4v16.7M614.0 1551.3v-16.7M614.0 947.4v16.7M804.1 1551.3v-16.7M804.1 947.4v16.7M899.2 1551.3v-16.7M899.2 947.4v16.7M994.2 1551.3v-16.7M994.2 947.4v16.7M1089.3 1551.3v-16.7M1089.3 947.4v16.7M1279.4 1551.3v-16.7M1279.4 947.4v16.7M1374.5 1551.3v-16.7M1374.5 947.4v16.7M1469.6 1551.3v-16.7M1469.6 947.4v16.7M1564.6 1551.3v-16.7M1564.6 947.4v16.7M1754.8 1551.3v-16.7M1754.8 947.4v16.7M1849.8 1551.3v-16.7M1849.8 947.4v16.7M1944.9 1551.3v-16.7M1944.9 947.4v16.7M2040.0 1551.3v-16.7M2040.0 947.4v16.7M2230.1 1551.3v-16.7M2230.1 947.4v16.7M2325.2 1551.3v-16.7M2325.2 947.4v16.7M2420.2 1551.3v-16.7M2420.2 947.4v16.7M2515.3 1551.3v-16.7M2515.3 947.4v16.7M234.4 947.4h33.3M2611.5 947.4h-33.3M234.4 1098.4h33.3M2611.5 1098.4h-33.3M234.4 1249.3h33.3M2611.5 1249.3h-33.3M234.4 1400.3h33.3M2611.5 1400.3h-33.3M234.4 1551.3h33.3M2611.5 1551.3h-33.3M234.4 977.6h16.7M2611.5 977.6h-16.7M234.4 1007.8h16.7M2611.5 1007.8h-16.7M234.4 1038.0h16.7M2611.5 1038.0h-16.7M234.4 1068.2h16.7M2611.5 1068.2h-16.7M234.4 1128.6h16.7M2611.5 1128.6h-16.7M234.4 1158.8h16.7M2611.5 1158.8h-16.7M234.4 1189.0h16.7M2611.5 1189.0h-16.7M234.4 1219.2h16.7M2611.5 1219.2h-16.7M234.4 1279.5h16.7M2611.5 1279.5h-16.7M234.4 1309.7h16.7M2611.5 1309.7h-16.7M234.4 1339.9h16.7M2611.5 1339.9h-16.7M234.4 1370.1h16.7M2611.5 1370.1h-16.7M234.4 1430.5h16.7M2611.5 1430.5h-16.7M234.4 1460.7h16.7M2611.5 1460.7h-16.7M234.4 1490.9h16.7M2611.5 1490.9h-16.7M234.4 1521.1h16.7M2611.5 1521.1h-16.7" stroke="#000" stroke-width="2.2" fill="none"/>
<rect x="234.4" y="947.4" width="2377.1" height="603.9" fill="none" stroke="#000" stroke-width="3.1"/>
<path d="M2733.5 1551.3v-33.3M2733.5 947.4v33.3M3207.4 1551.3v-33.3M3207.4 947.4v33.3M2852.0 1551.3v-16.7M2852.0 947.4v16.7M2970.5 1551.3v-16.7M2970.5 947.4v16.7M3088.9 1551.3v-16.7M3088.9 947.4v16.7M2733.6 947.4h33.3M3208.7 947.4h-33.3M2733.6 1098.4h33.3M3208.7 1098.4h-33.3M2733.6 1249.3h33.3M3208.7 1249.3h-33.3M2733.6 1400.3h33.3M3208.7 1400.3h-33.3M2733.6 1551.3h33.3M3208.7 1551.3h-33.3M2733.6 977.6h16.7M3208.7 977.6h-16.7M2733.6 1007.8h16.7M3208.7 1007.8h-16.7M2733.6 1038.0h16.7M3208.7 1038.0h-16.7M2733.6 1068.2h16.7M3208.7 1068.2h-16.7M2733.6 1128.6h16.7M3208.7 1128.6h-16.7M2733.6 1158.8h16.7M3208.7 1158.8h-16.7M2733.6 1189.0h16.7M3208.7 1189.0h-16.7M2733.6 1219.2h16.7M3208.7 1219.2h-16.7M2733.6 1279.5h16.7M3208.7 1279.5h-16.7M2733.6 1309.7h16.7M3208.7 1309.7h-16.7M2733.6 1339.9h16.7M3208.7 1339.9h-16.7M2733.6 1370.1h16.7M3208.7 1370.1h-16.7M2733.6 1430.5h16.7M3208.7 1430.5h-16.7M2733.6 1460.7h16.7M3208.7 1460.7h-16.7M2733.6 1490.9h16.7M3208.7 1490.9h-16.7M2733.6 1521.1h16.7M3208.7 1521.1h-16.7" stroke="#000" stroke-width="2.2" fill="none"/>
<rect x="2733.6" y="947.4" width="475.1" height="603.9" fill="none" stroke="#000" stroke-width="3.1"/>
<rect x="1937.0" y="253" width="644.4" height="100.1" rx="9.7" ry="9.7" fill="#fff" fill-opacity=".8" stroke="#ccc" stroke-opacity=".8" stroke-width="4"/>
<path d="M1951.7 297.5H2086.2" stroke="#4477AA" stroke-width="16.7"/>
<rect x="1948.3" y="976.4" width="633.1" height="100.0" rx="9.7" ry="9.7" fill="#fff" fill-opacity=".8" stroke="#ccc" stroke-opacity=".8" stroke-width="4"/>
<path d="M1963.2 1021.2H2096.8" stroke="#AA3377" stroke-width="16.7"/>
<g font-family="'Liberation Sans', sans-serif" font-weight="700" fill="#000"><text style="filter:drop-shadow(1.56px 0 0 #000) drop-shadow(-1.56px 0 0 #000)" transform="translate(1188.00 109.90) scale(0.6417 1)" font-size="103.1">Electrostatic</text>
<text style="filter:drop-shadow(1.55px 0 0 #000) drop-shadow(-1.55px 0 0 #000)" transform="translate(1607.20 109.90) scale(0.6438 1)" font-size="103.1">Dipolar</text>
<text style="filter:drop-shadow(1.53px 0 0 #000) drop-shadow(-1.53px 0 0 #000)" transform="translate(1856.40 109.90) scale(0.6521 1)" font-size="103.1">Moment</text>
<text style="filter:drop-shadow(1.58px 0 0 #000) drop-shadow(-1.58px 0 0 #000)" transform="translate(1274.00 1734.80) scale(0.6337 1)" font-size="103.1">Time</text>
<text style="filter:drop-shadow(1.95px 0 0 #000) drop-shadow(-1.95px 0 0 #000)" transform="translate(1449.60 1725.70) scale(0.5135 0.86)" font-size="103.1">(</text>
<text style="filter:drop-shadow(1.60px 0 0 #000) drop-shadow(-1.60px 0 0 #000)" transform="translate(1471.00 1734.80) scale(0.6249 1)" font-size="103.1">ns</text>
<text style="filter:drop-shadow(2.14px 0 0 #000) drop-shadow(-2.14px 0 0 #000)" transform="translate(1550.20 1725.70) scale(0.4669 0.86)" font-size="103.1">)</text>
<text style="filter:drop-shadow(1.65px 0 0 #000) drop-shadow(-1.65px 0 0 #000)" transform="translate(2863.40 1734.40) scale(0.6066 1)" font-size="103.1">Counts</text>
<text style="filter:drop-shadow(1.68px 0 0 #000) drop-shadow(-1.68px 0 0 #000)" transform="translate(139.20 1289.20) rotate(-90) scale(0.5963 1)" font-size="103.1">EDM</text>
<text style="filter:drop-shadow(1.57px 0 0 #000) drop-shadow(-1.57px 0 0 #000)" transform="translate(139.20 1127.20) rotate(-90) scale(0.6378 1)" font-size="103.1">components</text>
<text style="filter:drop-shadow(2.01px 0 0 #000) drop-shadow(-2.01px 0 0 #000)" transform="translate(139.20 685.40) rotate(-90) scale(0.4965 1)" font-size="103.1">e</text>
<text style="filter:drop-shadow(1.52px 0 0 #000) drop-shadow(-1.52px 0 0 #000)" transform="translate(139.20 635.60) rotate(-90) scale(0.6571 1)" font-size="103.1">nm</text>
<text style="filter:drop-shadow(2.25px 0 0 #000) drop-shadow(-2.25px 0 0 #000)" transform="translate(130.10 711.80) rotate(-90) scale(0.4435 0.86)" font-size="103.1">(</text>
<text style="filter:drop-shadow(2.09px 0 0 #000) drop-shadow(-2.09px 0 0 #000)" transform="translate(130.10 530.20) rotate(-90) scale(0.4785 0.86)" font-size="103.1">)</text>
<text style="filter:drop-shadow(0.89px 0 0 #000) drop-shadow(-0.89px 0 0 #000)" transform="translate(2123.17 317.60) scale(0.6378 1)" font-size="58.7">Longitudinal</text>
<text style="filter:drop-shadow(0.90px 0 0 #000) drop-shadow(-0.90px 0 0 #000)" transform="translate(2358.97 317.60) scale(0.6296 1)" font-size="58.7">component</text>
<text style="filter:drop-shadow(0.87px 0 0 #000) drop-shadow(-0.87px 0 0 #000)" transform="translate(2135.57 1041.40) scale(0.6533 1)" font-size="58.7">Transversal</text>
<text style="filter:drop-shadow(0.90px 0 0 #000) drop-shadow(-0.90px 0 0 #000)" transform="translate(2358.97 1041.40) scale(0.6296 1)" font-size="58.7">component</text>
<text style="filter:drop-shadow(1.39px 0 0 #000) drop-shadow(-1.39px 0 0 #000)" transform="translate(188.24 244.30) scale(0.6059 1)" font-size="86.6">7</text>
<text style="filter:drop-shadow(1.44px 0 0 #000) drop-shadow(-1.44px 0 0 #000)" transform="translate(189.24 344.98) scale(0.5851 1)" font-size="86.6">6</text>
<text style="filter:drop-shadow(1.49px 0 0 #000) drop-shadow(-1.49px 0 0 #000)" transform="translate(189.24 445.67) scale(0.5643 1)" font-size="86.6">5</text>
<text style="filter:drop-shadow(1.35px 0 0 #000) drop-shadow(-1.35px 0 0 #000)" transform="translate(187.44 546.35) scale(0.6225 1)" font-size="86.6">4</text>
<text style="filter:drop-shadow(1.49px 0 0 #000) drop-shadow(-1.49px 0 0 #000)" transform="translate(189.24 647.03) scale(0.5643 1)" font-size="86.6">3</text>
<text style="filter:drop-shadow(1.44px 0 0 #000) drop-shadow(-1.44px 0 0 #000)" transform="translate(189.24 747.72) scale(0.5851 1)" font-size="86.6">2</text>
<text style="filter:drop-shadow(2.13px 0 0 #000) drop-shadow(-2.13px 0 0 #000)" transform="translate(190.04 848.40) scale(0.3936 1)" font-size="86.6">1</text>
<text style="filter:drop-shadow(1.35px 0 0 #000) drop-shadow(-1.35px 0 0 #000)" transform="translate(187.44 968.40) scale(0.6225 1)" font-size="86.6">4</text>
<text style="filter:drop-shadow(1.49px 0 0 #000) drop-shadow(-1.49px 0 0 #000)" transform="translate(189.24 1119.38) scale(0.5643 1)" font-size="86.6">3</text>
<text style="filter:drop-shadow(1.44px 0 0 #000) drop-shadow(-1.44px 0 0 #000)" transform="translate(189.24 1270.35) scale(0.5851 1)" font-size="86.6">2</text>
<text style="filter:drop-shadow(2.13px 0 0 #000) drop-shadow(-2.13px 0 0 #000)" transform="translate(190.04 1421.32) scale(0.3936 1)" font-size="86.6">1</text>
<text style="filter:drop-shadow(1.39px 0 0 #000) drop-shadow(-1.39px 0 0 #000)" transform="translate(188.24 1572.30) scale(0.6059 1)" font-size="86.6">0</text>
<text style="filter:drop-shadow(1.51px 0 0 #000) drop-shadow(-1.51px 0 0 #000)" transform="translate(221.84 1627.00) scale(0.5559 1)" font-size="86.6">0</text>
<text style="filter:drop-shadow(1.41px 0 0 #000) drop-shadow(-1.41px 0 0 #000)" transform="translate(654.64 1627.00) scale(0.5974 1)" font-size="86.6">1000</text>
<text style="filter:drop-shadow(1.36px 0 0 #000) drop-shadow(-1.36px 0 0 #000)" transform="translate(1125.84 1627.00) scale(0.6192 1)" font-size="86.6">2000</text>
<text style="filter:drop-shadow(1.34px 0 0 #000) drop-shadow(-1.34px 0 0 #000)" transform="translate(1600.84 1627.00) scale(0.6255 1)" font-size="86.6">3000</text>
<text style="filter:drop-shadow(1.33px 0 0 #000) drop-shadow(-1.33px 0 0 #000)" transform="translate(2074.04 1627.00) scale(0.6338 1)" font-size="86.6">4000</text>
<text style="filter:drop-shadow(1.34px 0 0 #000) drop-shadow(-1.34px 0 0 #000)" transform="translate(2551.04 1627.00) scale(0.6286 1)" font-size="86.6">5000</text>
<text style="filter:drop-shadow(1.52px 0 0 #000) drop-shadow(-1.52px 0 0 #000)" transform="translate(2721.04 1627.00) scale(0.5518 1)" font-size="86.6">0</text>
<text style="filter:drop-shadow(1.35px 0 0 #000) drop-shadow(-1.35px 0 0 #000)" transform="translate(3164.04 1627.00) scale(0.6227 1)" font-size="86.6">200</text></g>
</svg>
</body></html>
